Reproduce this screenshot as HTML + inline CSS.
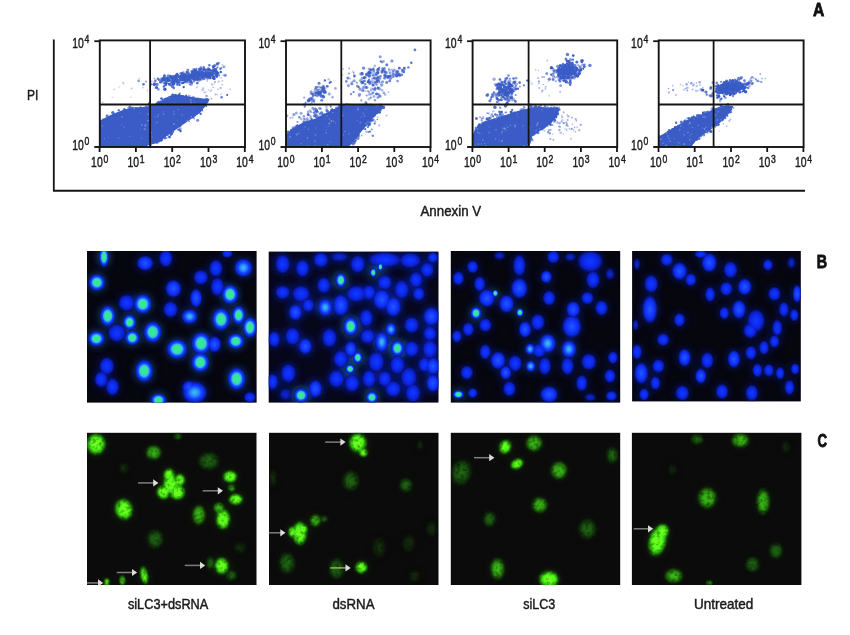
<!DOCTYPE html>
<html><head><meta charset="utf-8"><title>Figure</title>
<style>html,body{margin:0;padding:0;background:#fff}svg{display:block}ellipse{mix-blend-mode:lighten}text{font-family:"Liberation Sans",Arial,sans-serif}</style>
</head><body>
<svg width="850" height="635" viewBox="0 0 850 635">
<rect width="850" height="635" fill="#fff"/>

<defs>
<radialGradient id="gg"><stop offset="0" stop-color="#38ea84"/><stop offset=".32" stop-color="#38e4a0"/><stop offset=".48" stop-color="#30b4f0"/><stop offset=".6" stop-color="#184cff"/><stop offset=".76" stop-color="#0c28e0"/><stop offset=".9" stop-color="#081890" stop-opacity=".7"/><stop offset="1" stop-color="#060c50" stop-opacity="0"/></radialGradient>
<radialGradient id="gc"><stop offset="0" stop-color="#3cc4f0"/><stop offset=".3" stop-color="#2c8cff"/><stop offset=".55" stop-color="#1440ff"/><stop offset=".74" stop-color="#0c28e0"/><stop offset=".88" stop-color="#081890" stop-opacity=".7"/><stop offset="1" stop-color="#060c50" stop-opacity="0"/></radialGradient>
<radialGradient id="gB"><stop offset="0" stop-color="#2458ff"/><stop offset=".4" stop-color="#143cff"/><stop offset=".68" stop-color="#0c28e8"/><stop offset=".86" stop-color="#081890" stop-opacity=".7"/><stop offset="1" stop-color="#060c50" stop-opacity="0"/></radialGradient>
<radialGradient id="gb"><stop offset="0" stop-color="#123cff"/><stop offset=".45" stop-color="#0c2af0"/><stop offset=".7" stop-color="#0a20c8" stop-opacity=".95"/><stop offset=".88" stop-color="#081480" stop-opacity=".6"/><stop offset="1" stop-color="#060c50" stop-opacity="0"/></radialGradient>
<radialGradient id="gd"><stop offset="0" stop-color="#0c28d8"/><stop offset=".55" stop-color="#081ca8" stop-opacity=".9"/><stop offset="1" stop-color="#060c50" stop-opacity="0"/></radialGradient>
<radialGradient id="Gh"><stop offset="0" stop-color="#6cf820"/><stop offset=".55" stop-color="#48e014"/><stop offset=".8" stop-color="#24900c" stop-opacity=".9"/><stop offset="1" stop-color="#103808" stop-opacity="0"/></radialGradient>
<radialGradient id="Gm"><stop offset="0" stop-color="#36aa16"/><stop offset=".55" stop-color="#2a8c10"/><stop offset=".82" stop-color="#184c0a" stop-opacity=".85"/><stop offset="1" stop-color="#103008" stop-opacity="0"/></radialGradient>
<radialGradient id="Gd"><stop offset="0" stop-color="#1d5c12"/><stop offset=".55" stop-color="#17480f"/><stop offset=".85" stop-color="#0f2c0a" stop-opacity=".6"/><stop offset="1" stop-color="#102808" stop-opacity="0"/></radialGradient>
<radialGradient id="Gv"><stop offset="0" stop-color="#15300f"/><stop offset=".6" stop-color="#11260a" stop-opacity=".7"/><stop offset="1" stop-color="#101c0c" stop-opacity="0"/></radialGradient>
<filter id="bl" x="-5%" y="-5%" width="110%" height="110%"><feGaussianBlur stdDeviation="0.7"/></filter>
<filter id="glow" x="-10%" y="-10%" width="120%" height="120%"><feGaussianBlur stdDeviation="4"/></filter>
<filter id="mot" x="-5%" y="-5%" width="110%" height="110%" color-interpolation-filters="sRGB"><feGaussianBlur stdDeviation="0.8" result="b"/><feTurbulence type="fractalNoise" baseFrequency="0.28" numOctaves="2" seed="4" result="n"/><feColorMatrix in="n" type="matrix" values="1.7 0 0 0 0.05  1.7 0 0 0 0.05  1.7 0 0 0 0.05  0 0 0 0 1" result="n2"/><feComposite operator="arithmetic" k1=".75" k2=".4" k3="0" k4="0" in="b" in2="n2"/></filter>
<filter id="bs" x="-10%" y="-10%" width="120%" height="120%"><feGaussianBlur stdDeviation="0.55"/></filter>
</defs>

<line x1="53.8" y1="39.5" x2="53.8" y2="190.8" stroke="#141414" stroke-width="1.8"/>
<line x1="53" y1="190.7" x2="805" y2="190.7" stroke="#141414" stroke-width="2"/>
<text x="27" y="100" font-size="15" fill="#1a1a1a" textLength="11.3" lengthAdjust="spacingAndGlyphs" stroke="#1a1a1a" stroke-width="0.45">PI</text>
<text x="420.5" y="216" font-size="14.6" fill="#1a1a1a" textLength="60.6" lengthAdjust="spacingAndGlyphs" stroke="#1a1a1a" stroke-width="0.45">Annexin V</text>
<text x="813" y="15.9" font-size="18.4" fill="#111" textLength="11.3" lengthAdjust="spacingAndGlyphs" font-weight="bold" stroke="#111" stroke-width="0.8">A</text>
<clipPath id="cpA0"><rect x="99.8" y="40.4" width="145.2" height="106.6"/></clipPath>
<g clip-path="url(#cpA0)"><g filter="url(#bs)" fill="#3b5cc6">
<polygon points="99.8,121.4 106,118 112.9,114.6 122,111.1 131.1,108.2 142.6,107.7 150.1,106.6 158.6,103.1 170,96.3 179.1,95.1 186,96.7 197.4,98.6 208.8,99.7 204.3,106.6 199.7,112.3 188.3,120.3 176.8,128.3 165.4,136.3 158.6,142 149.4,144.3 142.6,147 99.8,147" stroke="#3b5cc6" stroke-width="1.2" stroke-linejoin="round"/>
<circle cx="103" cy="121.9" r="0.9" opacity="0.8"/>
<circle cx="103.6" cy="120.7" r="0.8" opacity="0.7"/>
<circle cx="101.5" cy="121.9" r="1.5" opacity="0.6"/>
<circle cx="98.9" cy="118.3" r="1.3" opacity="0.7"/>
<circle cx="108.4" cy="118.8" r="1" opacity="0.6"/>
<circle cx="105.9" cy="119.9" r="0.9" opacity="0.8"/>
<circle cx="109.2" cy="117" r="0.9" opacity="0.5"/>
<circle cx="106.8" cy="116" r="1.1" opacity="0.8"/>
<circle cx="108.4" cy="118.7" r="1.4" opacity="0.6"/>
<circle cx="107.2" cy="115.6" r="1.4" opacity="0.6"/>
<circle cx="122.9" cy="112.2" r="1.4" opacity="0.6"/>
<circle cx="119.3" cy="113.4" r="1.4" opacity="0.8"/>
<circle cx="120" cy="113.5" r="1.3" opacity="0.8"/>
<circle cx="118.8" cy="110.2" r="1.2" opacity="0.8"/>
<circle cx="112.8" cy="112.5" r="1.6" opacity="0.9"/>
<circle cx="113.9" cy="114.9" r="0.8" opacity="0.7"/>
<circle cx="114.7" cy="114.3" r="1.4" opacity="0.6"/>
<circle cx="122.1" cy="112.1" r="0.9" opacity="0.7"/>
<circle cx="128.9" cy="107.8" r="1.5" opacity="0.6"/>
<circle cx="124" cy="112.1" r="1.6" opacity="0.6"/>
<circle cx="123.7" cy="111.6" r="1.2" opacity="0.8"/>
<circle cx="125.8" cy="110.4" r="1.1" opacity="0.8"/>
<circle cx="130.1" cy="106.8" r="1.3" opacity="0.8"/>
<circle cx="124.4" cy="109.6" r="1.5" opacity="0.9"/>
<circle cx="135.1" cy="108.4" r="1.3" opacity="0.5"/>
<circle cx="132.1" cy="108.9" r="1.1" opacity="0.5"/>
<circle cx="131.5" cy="108.7" r="1.1" opacity="0.5"/>
<circle cx="140.5" cy="107.2" r="1" opacity="0.7"/>
<circle cx="137.2" cy="109.8" r="1.6" opacity="0.7"/>
<circle cx="137.2" cy="108.3" r="1.1" opacity="0.6"/>
<circle cx="140.8" cy="108" r="1.6" opacity="0.8"/>
<circle cx="132.5" cy="108" r="1.2" opacity="1"/>
<circle cx="148.7" cy="105.7" r="1.1" opacity="0.6"/>
<circle cx="146" cy="106.3" r="1.1" opacity="0.6"/>
<circle cx="151.4" cy="106.5" r="1.4" opacity="0.9"/>
<circle cx="148.4" cy="108.5" r="1.1" opacity="0.5"/>
<circle cx="142.6" cy="108.7" r="1.4" opacity="1"/>
<circle cx="157.6" cy="103.4" r="1.6" opacity="0.7"/>
<circle cx="152.1" cy="106.7" r="1" opacity="0.8"/>
<circle cx="158.6" cy="102.1" r="1.3" opacity="0.9"/>
<circle cx="149.2" cy="103.7" r="1.4" opacity="0.9"/>
<circle cx="155.2" cy="107.1" r="1.1" opacity="0.9"/>
<circle cx="157.2" cy="104.1" r="1.6" opacity="0.9"/>
<circle cx="161" cy="102.5" r="1.5" opacity="0.9"/>
<circle cx="162" cy="98.7" r="1.3" opacity="0.7"/>
<circle cx="165" cy="99.5" r="1.6" opacity="0.8"/>
<circle cx="165.9" cy="98.9" r="1.5" opacity="0.9"/>
<circle cx="161" cy="102.8" r="1" opacity="0.8"/>
<circle cx="160.9" cy="101.7" r="1.5" opacity="0.7"/>
<circle cx="161.2" cy="98.5" r="1.1" opacity="1"/>
<circle cx="162.7" cy="99.4" r="0.8" opacity="0.7"/>
<circle cx="163.1" cy="101.9" r="0.9" opacity="0.7"/>
<circle cx="175.5" cy="95" r="1.2" opacity="0.8"/>
<circle cx="178.5" cy="96.5" r="1" opacity="0.6"/>
<circle cx="175.3" cy="95.3" r="1.4" opacity="1"/>
<circle cx="172.8" cy="94.7" r="1.2" opacity="0.8"/>
<circle cx="172.6" cy="95.4" r="1.6" opacity="0.8"/>
<circle cx="179" cy="94.9" r="1.2" opacity="1"/>
<circle cx="185.3" cy="97" r="1.2" opacity="0.5"/>
<circle cx="182.6" cy="96.4" r="1.4" opacity="0.9"/>
<circle cx="179.8" cy="93.4" r="0.9" opacity="0.9"/>
<circle cx="186.4" cy="100" r="1.1" opacity="0.7"/>
<circle cx="186.3" cy="96" r="1.1" opacity="0.8"/>
<circle cx="190.3" cy="98.5" r="1.4" opacity="0.5"/>
<circle cx="192.1" cy="97.8" r="1.1" opacity="0.8"/>
<circle cx="195.5" cy="99.2" r="1.4" opacity="1"/>
<circle cx="187.1" cy="97.3" r="1.4" opacity="0.6"/>
<circle cx="184.8" cy="98.4" r="1.5" opacity="0.6"/>
<circle cx="189.2" cy="96.1" r="1.4" opacity="0.5"/>
<circle cx="186.1" cy="95.5" r="0.9" opacity="1"/>
<circle cx="193.4" cy="97.3" r="1.5" opacity="0.5"/>
<circle cx="206.1" cy="99.9" r="1.2" opacity="1"/>
<circle cx="201.6" cy="100.1" r="1" opacity="0.6"/>
<circle cx="200.1" cy="99" r="1" opacity="0.7"/>
<circle cx="205.7" cy="101" r="0.9" opacity="0.7"/>
<circle cx="197.6" cy="98.8" r="1.4" opacity="0.8"/>
<circle cx="196.4" cy="99.3" r="0.9" opacity="0.9"/>
<circle cx="199.7" cy="99.1" r="1.1" opacity="0.8"/>
<circle cx="206.5" cy="99.2" r="1.5" opacity="0.9"/>
<circle cx="204.9" cy="104.8" r="0.8" opacity="0.6"/>
<circle cx="208.4" cy="99.1" r="0.9" opacity="0.5"/>
<circle cx="206.4" cy="104" r="1" opacity="0.6"/>
<circle cx="206.7" cy="101.9" r="1.2" opacity="0.6"/>
<circle cx="206.1" cy="106" r="1" opacity="1"/>
<circle cx="207.4" cy="101.9" r="1.1" opacity="0.7"/>
<circle cx="202.5" cy="111" r="0.8" opacity="0.6"/>
<circle cx="203.5" cy="107.3" r="0.8" opacity="0.7"/>
<circle cx="201.8" cy="107" r="1.4" opacity="0.8"/>
<circle cx="202" cy="109.7" r="1.1" opacity="1"/>
<circle cx="203.3" cy="105.5" r="0.8" opacity="0.9"/>
<circle cx="187.9" cy="117.8" r="1.4" opacity="0.6"/>
<circle cx="191.1" cy="116.4" r="1.4" opacity="0.9"/>
<circle cx="194.6" cy="115.6" r="1.4" opacity="0.6"/>
<circle cx="200.2" cy="113.5" r="0.9" opacity="0.9"/>
<circle cx="192" cy="115.4" r="1.3" opacity="0.7"/>
<circle cx="200.3" cy="110.1" r="1.2" opacity="0.8"/>
<circle cx="194.2" cy="118.4" r="1" opacity="0.5"/>
<circle cx="196.5" cy="113.5" r="1.4" opacity="1"/>
<circle cx="192.9" cy="117.3" r="1.3" opacity="0.9"/>
<circle cx="180.9" cy="124.8" r="0.9" opacity="0.6"/>
<circle cx="179.2" cy="127.9" r="0.8" opacity="0.5"/>
<circle cx="184.2" cy="120.6" r="1.3" opacity="0.6"/>
<circle cx="180.9" cy="124.7" r="0.9" opacity="0.9"/>
<circle cx="189.2" cy="121.4" r="0.8" opacity="0.7"/>
<circle cx="180.4" cy="126.5" r="1" opacity="0.6"/>
<circle cx="177.9" cy="129.6" r="0.9" opacity="0.8"/>
<circle cx="179.1" cy="129.8" r="1.2" opacity="0.9"/>
<circle cx="180.6" cy="128.8" r="1.2" opacity="0.5"/>
<circle cx="175.3" cy="128.4" r="1" opacity="0.6"/>
<circle cx="171.8" cy="133.4" r="0.8" opacity="0.9"/>
<circle cx="169.5" cy="137.1" r="1.4" opacity="1"/>
<circle cx="172.6" cy="131.6" r="1.6" opacity="0.8"/>
<circle cx="171.7" cy="131.6" r="0.8" opacity="0.6"/>
<circle cx="166.6" cy="138.1" r="1" opacity="0.6"/>
<circle cx="171.5" cy="133.6" r="1.6" opacity="0.9"/>
<circle cx="165.5" cy="132.5" r="1.6" opacity="0.8"/>
<circle cx="170.7" cy="134.7" r="1.2" opacity="0.9"/>
<circle cx="160.9" cy="140.4" r="1.5" opacity="0.6"/>
<circle cx="161.5" cy="139.9" r="1.4" opacity="1"/>
<circle cx="163" cy="136.8" r="1.2" opacity="0.7"/>
<circle cx="164.8" cy="138" r="1.5" opacity="0.7"/>
<circle cx="167.7" cy="135" r="1.2" opacity="0.6"/>
<circle cx="165.1" cy="138" r="0.9" opacity="0.6"/>
<circle cx="153.6" cy="141.4" r="1.4" opacity="0.7"/>
<circle cx="153.5" cy="142.7" r="1.1" opacity="0.5"/>
<circle cx="156.7" cy="142.5" r="1.2" opacity="0.8"/>
<circle cx="150.9" cy="145" r="1" opacity="0.7"/>
<circle cx="157" cy="142.2" r="1.5" opacity="0.5"/>
<circle cx="157.5" cy="139.2" r="1.2" opacity="0.8"/>
<circle cx="146" cy="143.6" r="1" opacity="0.6"/>
<circle cx="146.3" cy="144.4" r="1.6" opacity="0.9"/>
<circle cx="145.1" cy="144.5" r="1.2" opacity="0.5"/>
<circle cx="130.4" cy="145.4" r="0.9" opacity="0.5"/>
<circle cx="116.2" cy="146" r="1" opacity="0.6"/>
<circle cx="101.2" cy="145.9" r="0.8" opacity="0.7"/>
<circle cx="128" cy="145.3" r="1.4" opacity="1"/>
<circle cx="128.4" cy="144.7" r="1.1" opacity="0.5"/>
<circle cx="97.7" cy="137.1" r="1" opacity="0.7"/>
<circle cx="101.2" cy="124.3" r="1.4" opacity="0.9"/>
<circle cx="100.3" cy="146.1" r="1.5" opacity="0.6"/>
<circle cx="100.8" cy="127.1" r="1" opacity="1"/>
<circle cx="99.7" cy="133.4" r="1.1" opacity="0.6"/>
<circle cx="99.9" cy="143.9" r="1.3" opacity="1"/>
<circle cx="101.1" cy="122.1" r="1" opacity="0.7"/>
<circle cx="100.6" cy="134" r="1.4" opacity="0.9"/>
<circle cx="100.1" cy="124.1" r="1.1" opacity="0.7"/>
<circle cx="99.9" cy="137.2" r="1" opacity="0.9"/>
<circle cx="100.2" cy="140.8" r="1.2" opacity="0.7"/>
<circle cx="102.9" cy="119.2" r="1" opacity="0.5"/>
<circle cx="97.7" cy="144.6" r="1.2" opacity="0.6"/>
<circle cx="98.3" cy="134.9" r="1.4" opacity="0.9"/>
<circle cx="101.7" cy="131.8" r="1" opacity="0.8"/>
<circle cx="99.8" cy="136.5" r="1" opacity="0.6"/>
<circle cx="207.5" cy="78.4" r="1.4" opacity="0.7"/>
<circle cx="158.4" cy="89.4" r="1.4" opacity="0.6"/>
<circle cx="196.7" cy="71.4" r="1.7" opacity="0.5"/>
<circle cx="166.2" cy="82.9" r="1.6" opacity="1"/>
<circle cx="201.5" cy="75.2" r="1.1" opacity="0.6"/>
<circle cx="207.9" cy="72.5" r="1.7" opacity="0.7"/>
<circle cx="199.8" cy="72.4" r="1.2" opacity="1"/>
<circle cx="196.4" cy="75.1" r="1.4" opacity="0.9"/>
<circle cx="193.7" cy="79" r="1.1" opacity="0.6"/>
<circle cx="190.8" cy="80.9" r="1.5" opacity="0.6"/>
<circle cx="202.5" cy="74.5" r="1.5" opacity="0.6"/>
<circle cx="187.5" cy="79.4" r="1.6" opacity="0.8"/>
<circle cx="196.4" cy="76.2" r="1.3" opacity="0.8"/>
<circle cx="186.6" cy="76.7" r="1.1" opacity="0.9"/>
<circle cx="181.6" cy="80.1" r="1.2" opacity="1"/>
<circle cx="184.7" cy="81.7" r="1.3" opacity="0.7"/>
<circle cx="218.7" cy="63.1" r="1.3" opacity="0.6"/>
<circle cx="188.9" cy="75.2" r="1" opacity="1"/>
<circle cx="169" cy="84" r="1.3" opacity="1"/>
<circle cx="182.9" cy="78.9" r="1" opacity="0.8"/>
<circle cx="170.8" cy="75.9" r="1.1" opacity="0.9"/>
<circle cx="180.1" cy="81.7" r="1.1" opacity="0.7"/>
<circle cx="160.1" cy="82.4" r="1.1" opacity="0.8"/>
<circle cx="200.9" cy="67.2" r="1.2" opacity="0.6"/>
<circle cx="224.2" cy="66.8" r="1.4" opacity="0.5"/>
<circle cx="202.2" cy="73" r="1.6" opacity="0.9"/>
<circle cx="193.8" cy="74.6" r="1.6" opacity="0.6"/>
<circle cx="169.8" cy="84.6" r="1.6" opacity="0.6"/>
<circle cx="193.9" cy="79.2" r="1.4" opacity="0.7"/>
<circle cx="198.1" cy="76.8" r="1.5" opacity="1"/>
<circle cx="207.4" cy="74.3" r="1.5" opacity="0.5"/>
<circle cx="193.8" cy="74.9" r="1.4" opacity="0.8"/>
<circle cx="182.2" cy="76.8" r="1.3" opacity="0.9"/>
<circle cx="173.4" cy="82.5" r="1.3" opacity="0.8"/>
<circle cx="209.1" cy="73.5" r="1.4" opacity="0.6"/>
<circle cx="191.5" cy="71.4" r="1.3" opacity="0.6"/>
<circle cx="184.3" cy="78.4" r="1.1" opacity="0.8"/>
<circle cx="203.1" cy="76" r="1.4" opacity="0.5"/>
<circle cx="186.7" cy="76.7" r="1.5" opacity="1"/>
<circle cx="186.1" cy="77.7" r="1.4" opacity="0.7"/>
<circle cx="197.4" cy="74.9" r="1.6" opacity="1"/>
<circle cx="186.7" cy="72.1" r="1.2" opacity="1"/>
<circle cx="157.1" cy="84.4" r="1.7" opacity="0.6"/>
<circle cx="196.6" cy="68.8" r="1.1" opacity="0.7"/>
<circle cx="190.5" cy="75.1" r="1.6" opacity="0.7"/>
<circle cx="193.2" cy="74.7" r="1.4" opacity="1"/>
<circle cx="193.7" cy="78.5" r="1.4" opacity="0.7"/>
<circle cx="198.9" cy="75.5" r="1.1" opacity="1"/>
<circle cx="177.2" cy="73.9" r="1.1" opacity="1"/>
<circle cx="203.4" cy="76.6" r="1.5" opacity="0.7"/>
<circle cx="201.9" cy="71.7" r="1.4" opacity="1"/>
<circle cx="225.2" cy="75.3" r="1.5" opacity="0.7"/>
<circle cx="193.2" cy="74" r="1.7" opacity="0.8"/>
<circle cx="176.8" cy="83.7" r="1.3" opacity="0.6"/>
<circle cx="190.2" cy="76" r="1.6" opacity="0.6"/>
<circle cx="164.4" cy="75.7" r="1.4" opacity="0.9"/>
<circle cx="190.3" cy="77.1" r="1.1" opacity="0.6"/>
<circle cx="179.5" cy="77" r="1.4" opacity="1"/>
<circle cx="197.4" cy="77" r="1.5" opacity="0.5"/>
<circle cx="203.1" cy="74.2" r="1.1" opacity="0.7"/>
<circle cx="194.2" cy="80" r="1.4" opacity="0.6"/>
<circle cx="179.2" cy="76.8" r="1.1" opacity="1"/>
<circle cx="191.2" cy="78.4" r="1.1" opacity="0.9"/>
<circle cx="205.9" cy="69.7" r="1.3" opacity="0.6"/>
<circle cx="209.9" cy="73.1" r="1.4" opacity="0.7"/>
<circle cx="181.2" cy="76.2" r="1.7" opacity="0.9"/>
<circle cx="192.2" cy="83.1" r="1.1" opacity="0.8"/>
<circle cx="182.6" cy="79.8" r="1.1" opacity="1"/>
<circle cx="207.5" cy="73.5" r="1.7" opacity="0.6"/>
<circle cx="197.1" cy="79.4" r="1.4" opacity="0.9"/>
<circle cx="193.4" cy="74.5" r="1.2" opacity="0.7"/>
<circle cx="217.8" cy="73" r="1.6" opacity="0.9"/>
<circle cx="216.4" cy="71.6" r="1.5" opacity="0.8"/>
<circle cx="189.1" cy="73.8" r="1.2" opacity="0.5"/>
<circle cx="191.1" cy="77.6" r="1.3" opacity="1"/>
<circle cx="180.7" cy="73.4" r="1.5" opacity="0.7"/>
<circle cx="176.8" cy="78.7" r="1.6" opacity="0.8"/>
<circle cx="189.6" cy="81.4" r="1.7" opacity="0.6"/>
<circle cx="192.2" cy="76.1" r="1.2" opacity="0.6"/>
<circle cx="187.8" cy="70.1" r="1.5" opacity="0.7"/>
<circle cx="198.9" cy="73.2" r="1.2" opacity="1"/>
<circle cx="175.8" cy="76.6" r="1.5" opacity="1"/>
<circle cx="165.6" cy="83.3" r="1.5" opacity="1"/>
<circle cx="171" cy="82.9" r="1.4" opacity="0.7"/>
<circle cx="195.8" cy="79.8" r="1.1" opacity="1"/>
<circle cx="192.6" cy="77" r="1.1" opacity="1"/>
<circle cx="186.7" cy="79.1" r="1" opacity="0.5"/>
<circle cx="183" cy="74.4" r="1.5" opacity="1"/>
<circle cx="207.3" cy="74.9" r="1.3" opacity="1"/>
<circle cx="201.3" cy="68.8" r="1.1" opacity="1"/>
<circle cx="217.5" cy="67.4" r="1.1" opacity="0.6"/>
<circle cx="193.4" cy="76.8" r="1.6" opacity="1"/>
<circle cx="173" cy="76.3" r="1.5" opacity="0.7"/>
<circle cx="195.6" cy="76.6" r="1.5" opacity="0.6"/>
<circle cx="185.2" cy="80.9" r="1" opacity="0.6"/>
<circle cx="187.2" cy="82.3" r="1.3" opacity="0.7"/>
<circle cx="205.9" cy="72.8" r="1.6" opacity="0.9"/>
<circle cx="204.3" cy="74.5" r="1.3" opacity="1"/>
<circle cx="179.4" cy="83.1" r="1.4" opacity="0.6"/>
<circle cx="194.1" cy="75.1" r="1.6" opacity="0.6"/>
<circle cx="199.6" cy="74.9" r="1.6" opacity="1"/>
<circle cx="206.1" cy="73.6" r="1.4" opacity="1"/>
<circle cx="197.5" cy="78.6" r="1.3" opacity="1"/>
<circle cx="189.9" cy="84.3" r="1.2" opacity="0.6"/>
<circle cx="184.9" cy="74.6" r="1.1" opacity="0.9"/>
<circle cx="211.7" cy="75" r="1.5" opacity="1"/>
<circle cx="181.4" cy="76.7" r="1.3" opacity="0.7"/>
<circle cx="194.8" cy="75.1" r="1.6" opacity="0.5"/>
<circle cx="193.9" cy="78.4" r="1.6" opacity="0.8"/>
<circle cx="171.2" cy="85.3" r="1.2" opacity="0.8"/>
<circle cx="168.3" cy="80.6" r="1.5" opacity="0.9"/>
<circle cx="184.1" cy="80.4" r="1.1" opacity="1"/>
<circle cx="178.1" cy="75.2" r="1.1" opacity="0.8"/>
<circle cx="192.3" cy="72.5" r="1.1" opacity="0.8"/>
<circle cx="197.7" cy="73.9" r="1.2" opacity="0.7"/>
<circle cx="181.9" cy="73.1" r="1.1" opacity="0.6"/>
<circle cx="191.3" cy="79.4" r="1.4" opacity="0.6"/>
<circle cx="186.8" cy="79.4" r="1.7" opacity="0.9"/>
<circle cx="219.1" cy="75.4" r="1.1" opacity="0.7"/>
<circle cx="214.2" cy="71.3" r="1.5" opacity="0.8"/>
<circle cx="197.7" cy="79.4" r="1.1" opacity="0.6"/>
<circle cx="188" cy="77.9" r="1.3" opacity="1"/>
<circle cx="184.4" cy="74.8" r="1.5" opacity="0.8"/>
<circle cx="202.7" cy="77.5" r="1.3" opacity="1"/>
<circle cx="202.1" cy="72.6" r="1.4" opacity="1"/>
<circle cx="182.3" cy="79.6" r="1.5" opacity="1"/>
<circle cx="192.7" cy="71.7" r="1.6" opacity="0.9"/>
<circle cx="180.7" cy="76.3" r="1.2" opacity="0.9"/>
<circle cx="202.3" cy="76.2" r="1.6" opacity="0.9"/>
<circle cx="183.2" cy="76.7" r="1.3" opacity="0.8"/>
<circle cx="180.2" cy="76.9" r="1.5" opacity="1"/>
<circle cx="199.4" cy="79" r="1.6" opacity="0.7"/>
<circle cx="154.4" cy="85.1" r="1.1" opacity="0.8"/>
<circle cx="203.9" cy="78.5" r="1.7" opacity="0.8"/>
<circle cx="205.1" cy="76.1" r="1.4" opacity="0.9"/>
<circle cx="171.4" cy="80.6" r="1.6" opacity="0.8"/>
<circle cx="163.8" cy="86.5" r="1.2" opacity="0.9"/>
<circle cx="173.5" cy="83.7" r="1.1" opacity="1"/>
<circle cx="187.9" cy="78.2" r="1.2" opacity="0.7"/>
<circle cx="204.5" cy="74.1" r="1.3" opacity="0.9"/>
<circle cx="184.6" cy="80" r="1.2" opacity="1"/>
<circle cx="205.5" cy="72.3" r="1.2" opacity="1"/>
<circle cx="183.6" cy="79.6" r="1.1" opacity="1"/>
<circle cx="196.7" cy="71.5" r="1.3" opacity="0.8"/>
<circle cx="197.3" cy="83.1" r="1.3" opacity="0.9"/>
<circle cx="199.8" cy="69.8" r="1.3" opacity="0.7"/>
<circle cx="183.8" cy="77.8" r="1.6" opacity="0.7"/>
<circle cx="196.4" cy="73.7" r="1.3" opacity="0.6"/>
<circle cx="183" cy="79.3" r="1" opacity="0.9"/>
<circle cx="189" cy="79.4" r="1.2" opacity="0.8"/>
<circle cx="173.7" cy="82.3" r="1.5" opacity="0.7"/>
<circle cx="213.8" cy="69.3" r="1.1" opacity="1"/>
<circle cx="209.4" cy="69.9" r="1.1" opacity="1"/>
<circle cx="188.9" cy="76.8" r="1" opacity="1"/>
<circle cx="184.5" cy="76.2" r="1.1" opacity="0.6"/>
<circle cx="194" cy="81.3" r="1.3" opacity="0.6"/>
<circle cx="209.5" cy="69.8" r="1.1" opacity="1"/>
<circle cx="171.7" cy="77.5" r="1.5" opacity="1"/>
<circle cx="195.5" cy="70.2" r="1.2" opacity="0.9"/>
<circle cx="168.7" cy="80.5" r="1.3" opacity="1"/>
<circle cx="180.5" cy="78.2" r="1.2" opacity="0.6"/>
<circle cx="185.9" cy="77.9" r="1.3" opacity="0.6"/>
<circle cx="174.9" cy="80.4" r="1.4" opacity="1"/>
<circle cx="216.3" cy="71.6" r="1.3" opacity="0.8"/>
<circle cx="176.5" cy="74.8" r="1.3" opacity="0.7"/>
<circle cx="195.6" cy="75.5" r="1.5" opacity="0.9"/>
<circle cx="208.8" cy="73.7" r="1.5" opacity="1"/>
<circle cx="173.7" cy="87.9" r="1.4" opacity="0.8"/>
<circle cx="193.3" cy="75.8" r="1.5" opacity="0.9"/>
<circle cx="177.5" cy="84.7" r="1.3" opacity="0.8"/>
<circle cx="167.7" cy="80.9" r="1.2" opacity="0.8"/>
<circle cx="175.9" cy="81.8" r="1.6" opacity="0.7"/>
<circle cx="196.4" cy="72.9" r="1.4" opacity="0.7"/>
<circle cx="154.1" cy="84.3" r="1.5" opacity="1"/>
<circle cx="185.3" cy="80.3" r="1.2" opacity="0.9"/>
<circle cx="174.2" cy="76.3" r="1.1" opacity="0.9"/>
<circle cx="202.7" cy="71.7" r="1.1" opacity="0.7"/>
<circle cx="199.3" cy="75.1" r="1.7" opacity="0.9"/>
<circle cx="176.7" cy="75.3" r="1.7" opacity="0.9"/>
<circle cx="176" cy="77.1" r="1.5" opacity="0.9"/>
<circle cx="186.3" cy="75.9" r="1.5" opacity="0.8"/>
<circle cx="190.8" cy="75.4" r="1.2" opacity="0.5"/>
<circle cx="193.8" cy="69.5" r="1.5" opacity="0.7"/>
<circle cx="200" cy="70.1" r="1.4" opacity="0.6"/>
<circle cx="186.7" cy="80.7" r="1.2" opacity="0.8"/>
<circle cx="169.8" cy="75.8" r="1.1" opacity="0.8"/>
<circle cx="197.2" cy="75.8" r="1.6" opacity="0.8"/>
<circle cx="202.9" cy="72.6" r="1" opacity="0.7"/>
<circle cx="163.3" cy="78.7" r="1.7" opacity="0.8"/>
<circle cx="185.4" cy="78.7" r="1.5" opacity="0.6"/>
<circle cx="192" cy="77" r="1" opacity="0.9"/>
<circle cx="216.9" cy="76.7" r="1.1" opacity="1"/>
<circle cx="192.4" cy="76.9" r="1.5" opacity="0.6"/>
<circle cx="189.3" cy="75.2" r="1.1" opacity="1"/>
<circle cx="183.4" cy="72.6" r="1.5" opacity="0.5"/>
<circle cx="175.3" cy="76.6" r="1.3" opacity="1"/>
<circle cx="191.3" cy="84.5" r="1.5" opacity="0.5"/>
<circle cx="210" cy="73.1" r="1.6" opacity="0.5"/>
<circle cx="183.4" cy="82.9" r="1.1" opacity="1"/>
<circle cx="185.9" cy="77.9" r="1.3" opacity="0.8"/>
<circle cx="172.2" cy="82.5" r="1.1" opacity="1"/>
<circle cx="178.6" cy="82.7" r="1.5" opacity="0.7"/>
<circle cx="173.5" cy="84" r="1.7" opacity="1"/>
<circle cx="180.2" cy="78" r="1.1" opacity="1"/>
<circle cx="182.2" cy="73.2" r="1.3" opacity="0.9"/>
<circle cx="215.4" cy="70.7" r="1.4" opacity="0.7"/>
<circle cx="165.8" cy="84.9" r="1.3" opacity="0.9"/>
<circle cx="166.9" cy="78" r="1.6" opacity="0.7"/>
<circle cx="201" cy="74.6" r="1.3" opacity="0.9"/>
<circle cx="200.7" cy="68.9" r="1.1" opacity="1"/>
<circle cx="199.6" cy="69.3" r="1.4" opacity="0.7"/>
<circle cx="204.1" cy="69.5" r="1.5" opacity="1"/>
<circle cx="187.5" cy="78.5" r="1.4" opacity="1"/>
<circle cx="198.4" cy="80" r="1.7" opacity="0.6"/>
<circle cx="174.2" cy="77.5" r="1.3" opacity="0.6"/>
<circle cx="190.9" cy="81.8" r="1.6" opacity="0.8"/>
<circle cx="211.8" cy="75.2" r="1.6" opacity="0.6"/>
<circle cx="164.8" cy="79.2" r="1.6" opacity="0.8"/>
<circle cx="173" cy="81.2" r="1.2" opacity="0.6"/>
<circle cx="200.2" cy="79.1" r="1.3" opacity="0.8"/>
<circle cx="177.7" cy="81.7" r="1.1" opacity="0.5"/>
<circle cx="203.5" cy="74" r="1.1" opacity="0.9"/>
<circle cx="192" cy="74.8" r="1.4" opacity="0.7"/>
<circle cx="187.8" cy="77.4" r="1.1" opacity="1"/>
<circle cx="200.3" cy="72.2" r="1.4" opacity="0.6"/>
<circle cx="192.5" cy="73.3" r="1.7" opacity="1"/>
<circle cx="203.6" cy="67" r="1.2" opacity="0.5"/>
<circle cx="193.5" cy="78" r="1.1" opacity="0.5"/>
<circle cx="164.7" cy="80.2" r="1.3" opacity="1"/>
<circle cx="194.6" cy="75.4" r="1.4" opacity="0.7"/>
<circle cx="216.4" cy="76.6" r="1.2" opacity="0.8"/>
<circle cx="168.1" cy="75.8" r="1.5" opacity="0.7"/>
<circle cx="183.2" cy="79" r="1.7" opacity="1"/>
<circle cx="191.4" cy="77.5" r="1.2" opacity="0.7"/>
<circle cx="213.6" cy="68.2" r="1.6" opacity="0.5"/>
<circle cx="194.4" cy="71.4" r="1.5" opacity="1"/>
<circle cx="197.7" cy="75.9" r="1.5" opacity="1"/>
<circle cx="185.1" cy="75.7" r="1.4" opacity="1"/>
<circle cx="200.2" cy="76.4" r="1.2" opacity="0.6"/>
<circle cx="182.5" cy="78.8" r="1.2" opacity="0.6"/>
<circle cx="189.5" cy="76.6" r="1.5" opacity="0.6"/>
<circle cx="220.8" cy="72" r="1.2" opacity="1"/>
<circle cx="208.4" cy="68.3" r="1.1" opacity="0.8"/>
<circle cx="216.6" cy="75.3" r="1.6" opacity="0.9"/>
<circle cx="179" cy="80.1" r="1.6" opacity="0.8"/>
<circle cx="185.1" cy="76.8" r="1.2" opacity="0.5"/>
<circle cx="185.9" cy="74.1" r="1.1" opacity="1"/>
<circle cx="189.8" cy="80.1" r="1.1" opacity="0.7"/>
<circle cx="196.5" cy="73.3" r="1.1" opacity="0.8"/>
<circle cx="179.7" cy="85.1" r="1.1" opacity="1"/>
<circle cx="217.7" cy="73.3" r="1.5" opacity="0.6"/>
<circle cx="179.7" cy="79.5" r="1.2" opacity="0.6"/>
<circle cx="164.9" cy="89.3" r="1.7" opacity="1"/>
<circle cx="199.9" cy="76.3" r="1.6" opacity="0.5"/>
<circle cx="188.4" cy="74.8" r="1.7" opacity="0.5"/>
<circle cx="194.3" cy="73.4" r="1.1" opacity="0.5"/>
<circle cx="198" cy="72" r="1.2" opacity="0.8"/>
<circle cx="198.3" cy="74.1" r="1.4" opacity="0.6"/>
<circle cx="201.3" cy="79.3" r="1.5" opacity="0.6"/>
<circle cx="195.7" cy="76.4" r="1.4" opacity="0.8"/>
<circle cx="189.6" cy="79.1" r="1.4" opacity="0.9"/>
<circle cx="196.5" cy="71.9" r="1.2" opacity="0.5"/>
<circle cx="188.4" cy="74.2" r="1.5" opacity="0.5"/>
<circle cx="194.5" cy="73.5" r="1.6" opacity="1"/>
<circle cx="188.2" cy="77.4" r="1.7" opacity="0.8"/>
<circle cx="197.5" cy="73.6" r="1.2" opacity="1"/>
<circle cx="185.4" cy="79.3" r="1.3" opacity="0.9"/>
<circle cx="206.8" cy="73.5" r="1.3" opacity="0.8"/>
<circle cx="206.6" cy="76.7" r="1.6" opacity="1"/>
<circle cx="182.3" cy="82.9" r="1.3" opacity="1"/>
<circle cx="216.3" cy="73.7" r="1.7" opacity="0.8"/>
<circle cx="174.1" cy="80" r="1.4" opacity="0.5"/>
<circle cx="199.8" cy="74.4" r="1.2" opacity="0.5"/>
<circle cx="191.6" cy="82.2" r="1" opacity="0.5"/>
<circle cx="187.4" cy="75.6" r="1" opacity="0.9"/>
<circle cx="175.7" cy="78.3" r="1.5" opacity="0.5"/>
<circle cx="204.4" cy="70.4" r="1.1" opacity="0.6"/>
<circle cx="174.8" cy="80.3" r="1.2" opacity="0.6"/>
<circle cx="184.7" cy="79" r="1.4" opacity="1"/>
<circle cx="201.7" cy="77.6" r="1.5" opacity="0.6"/>
<circle cx="203.8" cy="67.7" r="1.3" opacity="0.7"/>
<circle cx="198.7" cy="72" r="1.3" opacity="1"/>
<circle cx="192" cy="73.8" r="1.2" opacity="0.7"/>
<circle cx="156.5" cy="87.5" r="1.6" opacity="1"/>
<circle cx="199.8" cy="69.5" r="1.1" opacity="0.8"/>
<circle cx="220.4" cy="68.7" r="1.2" opacity="0.8"/>
<circle cx="181.5" cy="76.6" r="1.4" opacity="0.5"/>
<circle cx="176.3" cy="81.3" r="1" opacity="0.6"/>
<circle cx="213.1" cy="71" r="1.7" opacity="0.9"/>
<circle cx="199.5" cy="69.1" r="1.6" opacity="0.5"/>
<circle cx="183.5" cy="76.5" r="1.5" opacity="0.7"/>
<circle cx="160.8" cy="81.4" r="1.5" opacity="0.6"/>
<circle cx="176.3" cy="79.5" r="1.7" opacity="0.7"/>
<circle cx="184.8" cy="82.2" r="1.1" opacity="0.9"/>
<circle cx="205.8" cy="72.6" r="1.2" opacity="0.8"/>
<circle cx="183" cy="78.1" r="1.1" opacity="0.6"/>
<circle cx="187.4" cy="80.5" r="1.2" opacity="0.6"/>
<circle cx="205.3" cy="75.7" r="1.6" opacity="0.9"/>
<circle cx="172.6" cy="78.8" r="1.2" opacity="0.9"/>
<circle cx="174.3" cy="81.2" r="1.4" opacity="0.8"/>
<circle cx="187.3" cy="79.6" r="1.2" opacity="0.8"/>
<circle cx="177.9" cy="82.2" r="1" opacity="0.7"/>
<circle cx="196.6" cy="73.8" r="1.4" opacity="0.8"/>
<circle cx="183.7" cy="87.1" r="1.2" opacity="1"/>
<circle cx="193.5" cy="77.2" r="1.6" opacity="0.8"/>
<circle cx="203.1" cy="75.3" r="1.3" opacity="1"/>
<circle cx="198.2" cy="76.6" r="1.7" opacity="1"/>
<circle cx="197.9" cy="77.6" r="1.3" opacity="0.9"/>
<circle cx="170.3" cy="77.2" r="1.6" opacity="0.8"/>
<circle cx="188" cy="72.4" r="1.5" opacity="0.8"/>
<circle cx="194.2" cy="71.4" r="1.7" opacity="0.6"/>
<circle cx="191.4" cy="76.5" r="1.6" opacity="0.9"/>
<circle cx="156.2" cy="84.3" r="1.4" opacity="0.7"/>
<circle cx="195" cy="69.9" r="1.4" opacity="0.7"/>
<circle cx="176.6" cy="80.8" r="1.5" opacity="0.7"/>
<circle cx="177.8" cy="82" r="1.3" opacity="0.7"/>
<circle cx="195.4" cy="70.1" r="1.4" opacity="0.8"/>
<circle cx="195.6" cy="78.1" r="1.1" opacity="0.8"/>
<circle cx="185.4" cy="77.3" r="1.7" opacity="0.7"/>
<circle cx="203.7" cy="69.2" r="1.7" opacity="0.6"/>
<circle cx="164.8" cy="85.3" r="1" opacity="0.5"/>
<circle cx="175.8" cy="78.6" r="1.7" opacity="1"/>
<circle cx="143.5" cy="84.3" r="1.4" opacity="0.8"/>
<circle cx="184.7" cy="75.3" r="1.3" opacity="0.9"/>
<circle cx="172.4" cy="86.6" r="1.5" opacity="0.8"/>
<circle cx="201.5" cy="76.2" r="1.3" opacity="0.8"/>
<circle cx="165.3" cy="79.4" r="1.7" opacity="0.8"/>
<circle cx="173.4" cy="82.1" r="1.7" opacity="0.7"/>
<circle cx="166.1" cy="81" r="1.1" opacity="0.7"/>
<circle cx="215.2" cy="70.8" r="1.4" opacity="0.6"/>
<circle cx="174.9" cy="77.3" r="1.5" opacity="0.8"/>
<circle cx="171.7" cy="78" r="1" opacity="0.5"/>
<circle cx="156" cy="80.5" r="1" opacity="0.4"/>
<circle cx="157.8" cy="78.7" r="1.2" opacity="0.8"/>
<circle cx="163.8" cy="79.5" r="1.2" opacity="0.7"/>
<circle cx="161.4" cy="82.8" r="0.9" opacity="0.5"/>
<circle cx="171" cy="77.3" r="1.4" opacity="0.5"/>
<circle cx="155.3" cy="80.7" r="1.1" opacity="0.7"/>
<circle cx="138.6" cy="80.9" r="1.3" opacity="0.6"/>
<circle cx="168.8" cy="80.3" r="1.4" opacity="0.4"/>
<circle cx="169.4" cy="80.1" r="1.3" opacity="0.8"/>
<circle cx="154.3" cy="78.6" r="1" opacity="0.4"/>
<circle cx="166.2" cy="78.1" r="1.4" opacity="0.5"/>
<circle cx="168.6" cy="80.8" r="1" opacity="0.8"/>
<circle cx="158.9" cy="79.5" r="1.2" opacity="0.5"/>
<circle cx="181.3" cy="79.7" r="1.3" opacity="0.8"/>
<circle cx="155.2" cy="81.7" r="1.1" opacity="0.4"/>
<circle cx="179.5" cy="77.1" r="1.1" opacity="0.8"/>
<circle cx="168" cy="78.2" r="1.3" opacity="0.8"/>
<circle cx="145.9" cy="81.6" r="1.1" opacity="0.5"/>
<circle cx="164.2" cy="78.7" r="1.1" opacity="0.8"/>
<circle cx="151.4" cy="81.4" r="1.1" opacity="0.4"/>
<circle cx="162.3" cy="81" r="1.6" opacity="0.5"/>
<circle cx="161.7" cy="79.8" r="1.3" opacity="0.5"/>
<circle cx="163" cy="80.4" r="1" opacity="0.8"/>
<circle cx="162" cy="81.2" r="1" opacity="0.5"/>
<circle cx="165.6" cy="80.3" r="1.4" opacity="0.5"/>
<circle cx="172.6" cy="81.6" r="1" opacity="0.5"/>
<circle cx="167.5" cy="78.8" r="1.2" opacity="0.8"/>
<circle cx="166.9" cy="78.7" r="1.2" opacity="0.7"/>
<circle cx="151.3" cy="84.3" r="1.1" opacity="0.8"/>
<circle cx="159.7" cy="80.3" r="1.2" opacity="0.4"/>
<circle cx="163.6" cy="78.6" r="1.5" opacity="0.6"/>
<circle cx="161.5" cy="81.2" r="1.3" opacity="0.5"/>
<circle cx="168.2" cy="78.9" r="1.3" opacity="0.6"/>
<circle cx="163.9" cy="83.1" r="1.2" opacity="0.7"/>
<circle cx="159.1" cy="79.7" r="1.2" opacity="0.4"/>
<circle cx="172.6" cy="82.4" r="1.1" opacity="0.7"/>
<circle cx="173.5" cy="80.6" r="1.2" opacity="0.6"/>
<circle cx="164.6" cy="80.5" r="1.1" opacity="0.5"/>
<circle cx="174.5" cy="81.1" r="1.1" opacity="0.6"/>
<circle cx="176.8" cy="77.1" r="1.5" opacity="0.8"/>
<circle cx="169.8" cy="80.5" r="0.9" opacity="0.7"/>
<circle cx="161.5" cy="78.7" r="1.2" opacity="0.7"/>
<circle cx="163.4" cy="78.7" r="1.5" opacity="0.5"/>
<circle cx="161.9" cy="79.3" r="1" opacity="0.8"/>
<circle cx="163.9" cy="77.1" r="0.9" opacity="0.4"/>
<circle cx="168.3" cy="80.6" r="1.1" opacity="0.5"/>
<circle cx="172.1" cy="79.6" r="1.4" opacity="0.4"/>
<circle cx="170.8" cy="77.3" r="1.4" opacity="0.5"/>
<circle cx="154.4" cy="81.9" r="1.2" opacity="0.4"/>
<circle cx="172.1" cy="76.5" r="1.1" opacity="0.4"/>
<circle cx="171.9" cy="77.3" r="0.9" opacity="0.5"/>
<circle cx="176.4" cy="80.9" r="1.1" opacity="0.8"/>
<circle cx="165.3" cy="79" r="1.4" opacity="0.5"/>
<circle cx="164.9" cy="76.4" r="1.1" opacity="0.4"/>
<circle cx="173.3" cy="78.5" r="1.6" opacity="0.7"/>
<circle cx="164" cy="76.5" r="1.3" opacity="0.6"/>
<circle cx="177.1" cy="79.7" r="1.2" opacity="0.6"/>
<circle cx="169.1" cy="79.1" r="1.4" opacity="0.4"/>
<circle cx="209.3" cy="65.2" r="1.2" opacity="0.8"/>
<circle cx="215.9" cy="71.2" r="1.3" opacity="0.6"/>
<circle cx="214.1" cy="73.7" r="1.3" opacity="0.6"/>
<circle cx="210.4" cy="74.3" r="1.4" opacity="0.9"/>
<circle cx="211.3" cy="75.3" r="1.3" opacity="0.8"/>
<circle cx="214" cy="70.8" r="1.2" opacity="1"/>
<circle cx="213.9" cy="76.4" r="1.2" opacity="1"/>
<circle cx="205.6" cy="70.2" r="1.1" opacity="0.9"/>
<circle cx="208" cy="69.6" r="1.5" opacity="1"/>
<circle cx="213.2" cy="74.5" r="1.2" opacity="0.6"/>
<circle cx="213.7" cy="73.5" r="1.1" opacity="0.9"/>
<circle cx="209.5" cy="72.9" r="1.2" opacity="0.8"/>
<circle cx="209.8" cy="74.2" r="1.1" opacity="0.5"/>
<circle cx="216.8" cy="71.9" r="1.1" opacity="0.9"/>
<circle cx="215.5" cy="71.6" r="1.1" opacity="0.8"/>
<circle cx="209.1" cy="73.3" r="1.3" opacity="0.5"/>
<circle cx="215.4" cy="69.4" r="1.4" opacity="1"/>
<circle cx="209.6" cy="69.7" r="1.2" opacity="0.6"/>
<circle cx="216.9" cy="73.5" r="1.5" opacity="0.7"/>
<circle cx="213" cy="77.7" r="1.5" opacity="1"/>
<circle cx="214.1" cy="78.6" r="1.5" opacity="1"/>
<circle cx="210.1" cy="74.6" r="1.5" opacity="0.7"/>
<circle cx="208.2" cy="76.1" r="1.2" opacity="1"/>
<circle cx="211.2" cy="73.5" r="1.4" opacity="0.9"/>
<circle cx="213.4" cy="66.5" r="1.5" opacity="1"/>
<circle cx="207.1" cy="72.4" r="1.1" opacity="0.7"/>
<circle cx="209.9" cy="71.5" r="1.4" opacity="0.6"/>
<circle cx="202.6" cy="76.1" r="1.1" opacity="0.5"/>
<circle cx="209" cy="73.3" r="1.4" opacity="0.5"/>
<circle cx="214.8" cy="65.5" r="1.5" opacity="0.8"/>
<circle cx="210.1" cy="78.2" r="1.3" opacity="0.7"/>
<circle cx="209.2" cy="76" r="1.4" opacity="1"/>
<circle cx="212.8" cy="70.9" r="1.2" opacity="0.8"/>
<circle cx="208.2" cy="70.8" r="1.1" opacity="0.5"/>
<circle cx="209.4" cy="76.4" r="1.6" opacity="1"/>
<circle cx="217.3" cy="63.9" r="1.6" opacity="0.9"/>
<circle cx="211.6" cy="70.9" r="1.4" opacity="0.9"/>
<circle cx="209.8" cy="77.4" r="1.6" opacity="0.8"/>
<circle cx="209.4" cy="69.5" r="1.2" opacity="1"/>
<circle cx="213.3" cy="72.7" r="1.4" opacity="0.8"/>
<circle cx="142.9" cy="87.6" r="0.9" opacity="0.3"/>
<circle cx="112.5" cy="97.4" r="0.9" opacity="0.2"/>
<circle cx="131.7" cy="88.5" r="1.1" opacity="0.3"/>
<circle cx="147.8" cy="91.1" r="0.8" opacity="0.2"/>
<circle cx="114.2" cy="89.4" r="0.9" opacity="0.3"/>
<circle cx="130.8" cy="97.3" r="0.7" opacity="0.3"/>
<circle cx="119.1" cy="86.9" r="0.9" opacity="0.2"/>
<circle cx="102.7" cy="102.2" r="0.9" opacity="0.3"/>
<circle cx="123" cy="82.8" r="1.1" opacity="0.3"/>
<circle cx="147.2" cy="89.7" r="0.9" opacity="0.2"/>
<circle cx="139.3" cy="78.5" r="1" opacity="0.2"/>
<circle cx="123.9" cy="83.9" r="0.8" opacity="0.2"/>
<circle cx="222.4" cy="84.7" r="0.8" opacity="0.3"/>
<circle cx="203.2" cy="88.3" r="1.1" opacity="0.4"/>
<circle cx="215" cy="82" r="1.1" opacity="0.5"/>
<circle cx="221" cy="94.2" r="0.8" opacity="0.4"/>
<circle cx="196.2" cy="87.8" r="0.7" opacity="0.3"/>
<circle cx="200" cy="80.8" r="1" opacity="0.2"/>
<circle cx="204.4" cy="92.4" r="0.9" opacity="0.4"/>
<circle cx="230.2" cy="89.2" r="1" opacity="0.3"/>
<circle cx="215.5" cy="94.6" r="1.1" opacity="0.4"/>
<circle cx="210.8" cy="91.5" r="0.7" opacity="0.4"/>
<circle cx="217.1" cy="94.6" r="0.8" opacity="0.4"/>
<circle cx="205.9" cy="95.9" r="1.1" opacity="0.4"/>
<circle cx="197.3" cy="87.2" r="1.1" opacity="0.2"/>
<circle cx="207.1" cy="95.9" r="0.9" opacity="0.5"/>
<circle cx="208.9" cy="90" r="0.8" opacity="0.4"/>
<circle cx="202" cy="89.7" r="0.9" opacity="0.3"/>
<circle cx="212" cy="84.4" r="1.1" opacity="0.4"/>
<circle cx="217.9" cy="89.2" r="0.8" opacity="0.5"/>
<circle cx="205.9" cy="92.4" r="0.8" opacity="0.3"/>
<circle cx="196.9" cy="100.3" r="0.9" opacity="0.3"/>
<circle cx="222" cy="84.4" r="0.8" opacity="0.2"/>
<circle cx="182.9" cy="111.6" r="0.7" opacity="0.3"/>
<circle cx="203.1" cy="90.4" r="0.8" opacity="0.4"/>
<circle cx="211.6" cy="98.7" r="0.9" opacity="0.5"/>
<circle cx="211.4" cy="90.1" r="0.9" opacity="0.4"/>
<circle cx="192.2" cy="100.9" r="1.3" opacity="0.9"/>
<circle cx="143.9" cy="137.5" r="1.5" opacity="1"/>
<circle cx="200.4" cy="102.1" r="1.1" opacity="1"/>
<circle cx="152.7" cy="119.7" r="1.3" opacity="0.7"/>
<circle cx="127.5" cy="138" r="1" opacity="0.7"/>
<circle cx="125.1" cy="161.8" r="1.2" opacity="0.7"/>
<circle cx="161.6" cy="130.1" r="1.2" opacity="0.6"/>
<circle cx="221.6" cy="97.3" r="1.2" opacity="0.8"/>
<circle cx="133.6" cy="134.9" r="1" opacity="0.5"/>
<circle cx="152.4" cy="135" r="1.4" opacity="0.8"/>
<circle cx="183.7" cy="111.6" r="1.5" opacity="0.9"/>
<circle cx="176.5" cy="119.9" r="1.3" opacity="1"/>
<circle cx="129.1" cy="149.9" r="1.2" opacity="1"/>
<circle cx="192.5" cy="113.7" r="1.5" opacity="0.7"/>
<circle cx="158.9" cy="127.5" r="1" opacity="0.7"/>
<circle cx="150.4" cy="124.7" r="1.2" opacity="0.6"/>
<circle cx="105.5" cy="141.6" r="1.4" opacity="0.6"/>
<circle cx="143.1" cy="113.9" r="1.3" opacity="0.5"/>
<circle cx="176.2" cy="103.4" r="1.1" opacity="0.6"/>
<circle cx="176.5" cy="126.3" r="1.5" opacity="0.9"/>
<circle cx="176.6" cy="115.1" r="1.1" opacity="1"/>
<circle cx="137.4" cy="129.6" r="1.4" opacity="0.7"/>
<circle cx="189.7" cy="114.2" r="0.9" opacity="0.9"/>
<circle cx="143.1" cy="140.8" r="1.3" opacity="0.6"/>
<circle cx="153.7" cy="128.5" r="1.5" opacity="0.8"/>
<circle cx="169" cy="120.9" r="1.3" opacity="0.9"/>
<circle cx="153.1" cy="131.5" r="1" opacity="0.6"/>
<circle cx="158.8" cy="122.6" r="1.5" opacity="0.8"/>
<circle cx="117.4" cy="142.7" r="1.3" opacity="0.9"/>
<circle cx="134.6" cy="133.1" r="1.4" opacity="0.6"/>
<circle cx="141.1" cy="121.6" r="1.4" opacity="0.7"/>
<circle cx="162.8" cy="103.4" r="1.2" opacity="0.7"/>
<circle cx="84.4" cy="157.9" r="1" opacity="0.5"/>
<circle cx="114.4" cy="148.3" r="1.4" opacity="0.7"/>
<circle cx="180.7" cy="115.3" r="1.4" opacity="0.5"/>
<circle cx="175.2" cy="118.9" r="1" opacity="0.8"/>
<circle cx="139.4" cy="133.3" r="1.6" opacity="0.7"/>
<circle cx="171.5" cy="123.8" r="1.4" opacity="1"/>
<circle cx="163.1" cy="125.4" r="1.4" opacity="0.6"/>
<circle cx="194.5" cy="108.2" r="1.4" opacity="0.7"/>
<circle cx="166.3" cy="114.4" r="1.1" opacity="1"/>
<circle cx="200.9" cy="114" r="1" opacity="0.9"/>
<circle cx="111.3" cy="156.8" r="1" opacity="0.8"/>
<circle cx="103.2" cy="160.9" r="1.6" opacity="0.9"/>
<circle cx="164.6" cy="128.9" r="1.1" opacity="0.8"/>
<circle cx="162.9" cy="129" r="1.4" opacity="0.9"/>
<circle cx="137.5" cy="159" r="1.1" opacity="0.8"/>
<circle cx="197.6" cy="120.3" r="1.5" opacity="0.7"/>
<circle cx="153.7" cy="114.2" r="1.1" opacity="0.7"/>
<circle cx="94" cy="157.5" r="1" opacity="0.9"/>
<circle cx="128.8" cy="135.1" r="1.3" opacity="1"/>
<circle cx="180.5" cy="131" r="1.2" opacity="1"/>
<circle cx="170" cy="117" r="1.5" opacity="1"/>
<circle cx="157.1" cy="128.2" r="1" opacity="1"/>
<circle cx="227.2" cy="94.9" r="1" opacity="1"/>
<circle cx="175" cy="120.9" r="1.4" opacity="0.5"/>
<circle cx="126.9" cy="155" r="1.4" opacity="1"/>
<circle cx="166.4" cy="122.1" r="1.1" opacity="1"/>
<circle cx="154.6" cy="125.9" r="1.3" opacity="0.6"/>
<circle cx="145.9" cy="133.4" r="0.9" opacity="1"/>
<circle cx="214.2" cy="84.1" r="0.7" opacity="0.4"/>
<circle cx="221.1" cy="78" r="0.8" opacity="0.5"/>
<circle cx="222.4" cy="80.9" r="0.9" opacity="0.3"/>
<circle cx="214.7" cy="78.7" r="1.1" opacity="0.4"/>
<circle cx="220.6" cy="88" r="1.1" opacity="0.5"/>
<circle cx="217.6" cy="76.9" r="0.8" opacity="0.3"/>
<circle cx="223.2" cy="75.2" r="0.9" opacity="0.4"/>
<circle cx="217.5" cy="74.1" r="1" opacity="0.4"/>
<circle cx="212.4" cy="71.5" r="1" opacity="0.6"/>
<circle cx="223.1" cy="67" r="0.9" opacity="0.3"/>
<circle cx="207.2" cy="80.9" r="0.9" opacity="0.4"/>
<circle cx="215.8" cy="75.1" r="1.1" opacity="0.2"/>
<circle cx="209.8" cy="65.2" r="0.8" opacity="0.4"/>
<circle cx="215.5" cy="76.4" r="0.8" opacity="0.3"/>
<circle cx="222.4" cy="65.1" r="1.1" opacity="0.3"/>
<circle cx="216.6" cy="68.7" r="1" opacity="0.4"/>
<circle cx="213.1" cy="87.4" r="0.7" opacity="0.5"/>
<circle cx="221.3" cy="68" r="1" opacity="0.6"/>
<circle cx="218.6" cy="81.4" r="1" opacity="0.4"/>
<circle cx="216.9" cy="67.9" r="0.9" opacity="0.4"/>
<circle cx="173.6" cy="111.8" r="0.9" fill="#fff" opacity="0.2"/>
<circle cx="124.2" cy="126.9" r="0.7" fill="#fff" opacity="0.3"/>
<circle cx="151.4" cy="132.6" r="0.9" fill="#fff" opacity="0.2"/>
<circle cx="156.9" cy="122.5" r="1" fill="#fff" opacity="0.2"/>
<circle cx="118.6" cy="137.8" r="0.8" fill="#fff" opacity="0.2"/>
<circle cx="141.4" cy="138.3" r="1" fill="#fff" opacity="0.1"/>
<circle cx="142.9" cy="146.8" r="0.9" fill="#fff" opacity="0.2"/>
<circle cx="152" cy="136.5" r="1" fill="#fff" opacity="0.1"/>
<circle cx="174" cy="114.2" r="0.9" fill="#fff" opacity="0.2"/>
<circle cx="140.2" cy="112.8" r="0.8" fill="#fff" opacity="0.1"/>
<circle cx="121.7" cy="124.7" r="0.6" fill="#fff" opacity="0.2"/>
<circle cx="178.1" cy="109.4" r="0.8" fill="#fff" opacity="0.2"/>
<circle cx="190.8" cy="99.9" r="0.9" fill="#fff" opacity="0.3"/>
<circle cx="121.8" cy="117.1" r="1" fill="#fff" opacity="0.2"/>
<circle cx="148.1" cy="114.2" r="1" fill="#fff" opacity="0.2"/>
<circle cx="144.3" cy="128.8" r="1" fill="#fff" opacity="0.2"/>
<circle cx="141.8" cy="125.1" r="1.1" fill="#fff" opacity="0.2"/>
<circle cx="140.4" cy="129.7" r="0.8" fill="#fff" opacity="0.1"/>
<circle cx="182.2" cy="114.8" r="0.9" fill="#fff" opacity="0.2"/>
<circle cx="102.6" cy="125.9" r="0.8" fill="#fff" opacity="0.2"/>
<circle cx="191.3" cy="116.7" r="0.8" fill="#fff" opacity="0.3"/>
<circle cx="147.8" cy="120.6" r="0.9" fill="#fff" opacity="0.3"/>
<circle cx="173.9" cy="123.9" r="1" fill="#fff" opacity="0.3"/>
<circle cx="108.2" cy="137.5" r="0.7" fill="#fff" opacity="0.1"/>
<circle cx="181.9" cy="124.4" r="0.6" fill="#fff" opacity="0.2"/>
<circle cx="177.3" cy="120.2" r="0.6" fill="#fff" opacity="0.2"/>
<circle cx="145.4" cy="125.4" r="1.1" fill="#fff" opacity="0.3"/>
<circle cx="194.9" cy="102.7" r="0.8" fill="#fff" opacity="0.2"/>
<circle cx="100.5" cy="146.4" r="0.7" fill="#fff" opacity="0.2"/>
<circle cx="133.9" cy="108.4" r="1" fill="#fff" opacity="0.2"/>
<circle cx="155.5" cy="116.9" r="0.6" fill="#fff" opacity="0.2"/>
<circle cx="193.2" cy="108.5" r="0.7" fill="#fff" opacity="0.1"/>
<circle cx="158.3" cy="114.5" r="0.8" fill="#fff" opacity="0.2"/>
<circle cx="163.5" cy="114.1" r="1" fill="#fff" opacity="0.2"/>
<circle cx="157.9" cy="116.3" r="0.9" fill="#fff" opacity="0.2"/>
<circle cx="129.6" cy="136.4" r="0.7" fill="#fff" opacity="0.2"/>
<circle cx="149.4" cy="143.6" r="0.8" fill="#fff" opacity="0.3"/>
<circle cx="169.5" cy="97.7" r="1" fill="#fff" opacity="0.1"/>
<circle cx="164.8" cy="104.5" r="1.1" fill="#fff" opacity="0.2"/>
<circle cx="187.1" cy="121" r="0.9" fill="#fff" opacity="0.2"/>
<circle cx="191.2" cy="102.7" r="1.1" fill="#fff" opacity="0.2"/>
<circle cx="145" cy="129.3" r="0.7" fill="#fff" opacity="0.3"/>
<circle cx="174.6" cy="103.2" r="0.6" fill="#fff" opacity="0.2"/>
<circle cx="104.4" cy="138.5" r="0.7" fill="#fff" opacity="0.2"/>
<circle cx="163.3" cy="111.7" r="0.9" fill="#fff" opacity="0.1"/>
</g></g>
<rect x="99.8" y="40.4" width="145.2" height="106.6" fill="none" stroke="#141414" stroke-width="1.9"/>
<line x1="150.1" y1="40.4" x2="150.1" y2="147" stroke="#141414" stroke-width="1.8"/>
<line x1="99.8" y1="104.5" x2="245" y2="104.5" stroke="#141414" stroke-width="1.8"/>
<line x1="94.3" y1="41.2" x2="99.8" y2="41.2" stroke="#141414" stroke-width="1.8"/>
<line x1="94.3" y1="147" x2="99.8" y2="147" stroke="#141414" stroke-width="1.9"/>
<line x1="99.6" y1="147" x2="99.6" y2="152" stroke="#141414" stroke-width="1.8"/>
<text x="91.1" y="167.2" font-size="14.8" fill="#1a1a1a" textLength="11.6" lengthAdjust="spacingAndGlyphs" stroke="#1a1a1a" stroke-width="0.45">10</text>
<text x="103.5" y="163" font-size="10.8" fill="#1a1a1a" textLength="4.8" lengthAdjust="spacingAndGlyphs" stroke="#1a1a1a" stroke-width="0.45">0</text>
<line x1="135.9" y1="147" x2="135.9" y2="152" stroke="#141414" stroke-width="1.8"/>
<text x="127.4" y="167.2" font-size="14.8" fill="#1a1a1a" textLength="11.6" lengthAdjust="spacingAndGlyphs" stroke="#1a1a1a" stroke-width="0.45">10</text>
<text x="139.8" y="163" font-size="10.8" fill="#1a1a1a" textLength="4.8" lengthAdjust="spacingAndGlyphs" stroke="#1a1a1a" stroke-width="0.45">1</text>
<line x1="172.2" y1="147" x2="172.2" y2="152" stroke="#141414" stroke-width="1.8"/>
<text x="163.7" y="167.2" font-size="14.8" fill="#1a1a1a" textLength="11.6" lengthAdjust="spacingAndGlyphs" stroke="#1a1a1a" stroke-width="0.45">10</text>
<text x="176.1" y="163" font-size="10.8" fill="#1a1a1a" textLength="4.8" lengthAdjust="spacingAndGlyphs" stroke="#1a1a1a" stroke-width="0.45">2</text>
<line x1="208.5" y1="147" x2="208.5" y2="152" stroke="#141414" stroke-width="1.8"/>
<text x="200" y="167.2" font-size="14.8" fill="#1a1a1a" textLength="11.6" lengthAdjust="spacingAndGlyphs" stroke="#1a1a1a" stroke-width="0.45">10</text>
<text x="212.4" y="163" font-size="10.8" fill="#1a1a1a" textLength="4.8" lengthAdjust="spacingAndGlyphs" stroke="#1a1a1a" stroke-width="0.45">3</text>
<line x1="244.8" y1="147" x2="244.8" y2="152" stroke="#141414" stroke-width="1.8"/>
<text x="236.3" y="167.2" font-size="14.8" fill="#1a1a1a" textLength="11.6" lengthAdjust="spacingAndGlyphs" stroke="#1a1a1a" stroke-width="0.45">10</text>
<text x="248.7" y="163" font-size="10.8" fill="#1a1a1a" textLength="4.8" lengthAdjust="spacingAndGlyphs" stroke="#1a1a1a" stroke-width="0.45">4</text>
<text x="72.2" y="48.4" font-size="14.8" fill="#1a1a1a" textLength="11.6" lengthAdjust="spacingAndGlyphs" stroke="#1a1a1a" stroke-width="0.45">10</text>
<text x="84.6" y="43.2" font-size="10.8" fill="#1a1a1a" textLength="4.8" lengthAdjust="spacingAndGlyphs" stroke="#1a1a1a" stroke-width="0.45">4</text>
<text x="72.2" y="149.8" font-size="14.8" fill="#1a1a1a" textLength="11.6" lengthAdjust="spacingAndGlyphs" stroke="#1a1a1a" stroke-width="0.45">10</text>
<text x="84.6" y="145" font-size="10.8" fill="#1a1a1a" textLength="4.8" lengthAdjust="spacingAndGlyphs" stroke="#1a1a1a" stroke-width="0.45">0</text>
<clipPath id="cpA1"><rect x="286" y="40.4" width="144.6" height="106.6"/></clipPath>
<g clip-path="url(#cpA1)"><g filter="url(#bs)" fill="#3b5cc6">
<polygon points="286,135.6 291.7,129.4 297.4,126 306.6,121.9 315.7,119.1 324.8,114.6 332.8,110.4 341.3,106.6 356.8,105.4 370.5,105.4 384.3,106.6 377.4,112.7 369.4,121.4 361.4,130.5 354.6,139.7 347.7,147 286,147" stroke="#3b5cc6" stroke-width="1.2" stroke-linejoin="round"/>
<circle cx="290" cy="132.3" r="0.9" opacity="0.9"/>
<circle cx="291.3" cy="129.8" r="1.1" opacity="0.8"/>
<circle cx="286.7" cy="134" r="1.2" opacity="0.9"/>
<circle cx="288.2" cy="132.3" r="1.5" opacity="0.6"/>
<circle cx="294.5" cy="129.8" r="1.2" opacity="0.6"/>
<circle cx="288" cy="131.8" r="1.5" opacity="0.5"/>
<circle cx="295.7" cy="126.3" r="1.2" opacity="0.5"/>
<circle cx="292.1" cy="131.8" r="1.5" opacity="0.6"/>
<circle cx="298.8" cy="126.6" r="1.6" opacity="0.7"/>
<circle cx="296.9" cy="125.8" r="1.1" opacity="0.7"/>
<circle cx="293.1" cy="127.7" r="1.4" opacity="0.6"/>
<circle cx="297.5" cy="125.5" r="1.2" opacity="0.9"/>
<circle cx="302.5" cy="123.6" r="1.2" opacity="0.5"/>
<circle cx="304.6" cy="124.6" r="1.1" opacity="0.7"/>
<circle cx="303.9" cy="124" r="1.6" opacity="0.7"/>
<circle cx="306.2" cy="121.4" r="0.9" opacity="0.5"/>
<circle cx="306.6" cy="123.4" r="1.2" opacity="0.6"/>
<circle cx="302.6" cy="125.5" r="1.2" opacity="0.7"/>
<circle cx="307.6" cy="121.8" r="0.9" opacity="0.6"/>
<circle cx="311.6" cy="119.4" r="0.8" opacity="1"/>
<circle cx="311.5" cy="118.8" r="1.4" opacity="0.6"/>
<circle cx="314" cy="120.7" r="0.8" opacity="0.7"/>
<circle cx="310.5" cy="123.2" r="0.9" opacity="0.8"/>
<circle cx="306.7" cy="119.9" r="1.4" opacity="0.5"/>
<circle cx="314.8" cy="115.7" r="0.8" opacity="0.8"/>
<circle cx="322.5" cy="114.8" r="1.4" opacity="0.7"/>
<circle cx="327.4" cy="115.1" r="1.1" opacity="0.7"/>
<circle cx="316.6" cy="120.9" r="1.3" opacity="0.6"/>
<circle cx="319.4" cy="118.3" r="1" opacity="0.7"/>
<circle cx="327.1" cy="114.6" r="1.2" opacity="0.7"/>
<circle cx="324.7" cy="114.3" r="1.3" opacity="0.6"/>
<circle cx="331.2" cy="110" r="0.9" opacity="0.9"/>
<circle cx="329.5" cy="116.1" r="1.3" opacity="0.9"/>
<circle cx="327.4" cy="111.2" r="1.5" opacity="0.9"/>
<circle cx="332.1" cy="109.4" r="1.1" opacity="0.9"/>
<circle cx="331.9" cy="110.5" r="1.6" opacity="0.8"/>
<circle cx="335.1" cy="113.1" r="1.4" opacity="0.6"/>
<circle cx="340" cy="108.1" r="1.2" opacity="0.6"/>
<circle cx="338.8" cy="107.4" r="1.4" opacity="0.7"/>
<circle cx="340" cy="105.4" r="1.6" opacity="0.9"/>
<circle cx="338" cy="109.9" r="1.5" opacity="0.7"/>
<circle cx="339.1" cy="106" r="0.8" opacity="0.7"/>
<circle cx="334.9" cy="112" r="1.1" opacity="0.8"/>
<circle cx="347.9" cy="106.8" r="1.1" opacity="0.9"/>
<circle cx="350.8" cy="106.4" r="1" opacity="0.9"/>
<circle cx="346.8" cy="103.9" r="0.9" opacity="0.8"/>
<circle cx="342.3" cy="105.7" r="1" opacity="1"/>
<circle cx="347.4" cy="109" r="1.3" opacity="0.9"/>
<circle cx="344" cy="106.1" r="1.2" opacity="1"/>
<circle cx="344.6" cy="105.6" r="1.2" opacity="0.5"/>
<circle cx="345.4" cy="105.8" r="1.4" opacity="0.6"/>
<circle cx="348.2" cy="107.2" r="1.5" opacity="0.8"/>
<circle cx="349.8" cy="104.9" r="1.3" opacity="0.5"/>
<circle cx="362.2" cy="106.6" r="1.1" opacity="0.8"/>
<circle cx="364.3" cy="106.6" r="1.3" opacity="1"/>
<circle cx="361.2" cy="108.2" r="0.8" opacity="0.9"/>
<circle cx="364.8" cy="104.9" r="1.4" opacity="0.9"/>
<circle cx="366.8" cy="105" r="1.1" opacity="0.6"/>
<circle cx="370.5" cy="104.9" r="1.3" opacity="0.8"/>
<circle cx="355.7" cy="106.8" r="1.3" opacity="0.6"/>
<circle cx="366.9" cy="107.1" r="1.1" opacity="1"/>
<circle cx="366.4" cy="103.5" r="1.1" opacity="1"/>
<circle cx="379.9" cy="105.2" r="0.9" opacity="0.8"/>
<circle cx="382.2" cy="105.1" r="0.9" opacity="0.8"/>
<circle cx="383.8" cy="108.3" r="0.9" opacity="0.7"/>
<circle cx="370.9" cy="106.8" r="1.6" opacity="1"/>
<circle cx="371.9" cy="108.7" r="1" opacity="0.7"/>
<circle cx="377.4" cy="106.6" r="1.1" opacity="0.7"/>
<circle cx="383.7" cy="107.4" r="1.5" opacity="0.7"/>
<circle cx="380.5" cy="104.6" r="1.1" opacity="0.6"/>
<circle cx="379.2" cy="106.6" r="1.3" opacity="0.9"/>
<circle cx="380.4" cy="110.6" r="1.2" opacity="0.6"/>
<circle cx="379.8" cy="112.8" r="0.8" opacity="0.9"/>
<circle cx="378.4" cy="112.6" r="1" opacity="0.6"/>
<circle cx="381.6" cy="106.3" r="1.3" opacity="0.7"/>
<circle cx="379.6" cy="112.3" r="1.3" opacity="1"/>
<circle cx="379.1" cy="108.3" r="1.1" opacity="1"/>
<circle cx="370.7" cy="120.3" r="1.4" opacity="0.7"/>
<circle cx="377.1" cy="113.1" r="1.2" opacity="0.8"/>
<circle cx="371" cy="121.5" r="0.9" opacity="0.7"/>
<circle cx="374.6" cy="115.5" r="1.3" opacity="0.7"/>
<circle cx="372.4" cy="120.3" r="1.4" opacity="0.9"/>
<circle cx="375.1" cy="112" r="1.2" opacity="0.9"/>
<circle cx="370.1" cy="118" r="1.3" opacity="0.9"/>
<circle cx="375.7" cy="111.8" r="1.3" opacity="0.6"/>
<circle cx="366.8" cy="120.5" r="1" opacity="0.6"/>
<circle cx="369.3" cy="124.6" r="1.6" opacity="0.9"/>
<circle cx="366.4" cy="124.2" r="1.5" opacity="0.7"/>
<circle cx="368.9" cy="120.9" r="1" opacity="0.5"/>
<circle cx="363.5" cy="124.6" r="0.8" opacity="0.9"/>
<circle cx="368.8" cy="124.3" r="1.1" opacity="0.7"/>
<circle cx="365.3" cy="129" r="1" opacity="0.9"/>
<circle cx="362.6" cy="128.7" r="1.4" opacity="0.5"/>
<circle cx="357.5" cy="135.4" r="1.3" opacity="0.9"/>
<circle cx="356.1" cy="136.9" r="1.3" opacity="0.6"/>
<circle cx="357.9" cy="138.4" r="1.6" opacity="0.7"/>
<circle cx="356.1" cy="140.2" r="0.9" opacity="0.7"/>
<circle cx="356.3" cy="135.3" r="1.1" opacity="0.6"/>
<circle cx="358.5" cy="135.1" r="1.4" opacity="0.8"/>
<circle cx="359.1" cy="136.6" r="1" opacity="0.6"/>
<circle cx="356.5" cy="132.2" r="1.4" opacity="1"/>
<circle cx="347.9" cy="144.3" r="0.8" opacity="0.6"/>
<circle cx="355.9" cy="138.1" r="1.3" opacity="0.6"/>
<circle cx="353.1" cy="143.9" r="1.6" opacity="0.7"/>
<circle cx="354.8" cy="141.2" r="1.5" opacity="0.9"/>
<circle cx="352" cy="143.4" r="0.9" opacity="0.9"/>
<circle cx="354.3" cy="143" r="1.4" opacity="0.7"/>
<circle cx="307.5" cy="145.7" r="1.1" opacity="0.9"/>
<circle cx="325" cy="144.6" r="0.9" opacity="0.5"/>
<circle cx="348.3" cy="144.9" r="1.2" opacity="0.5"/>
<circle cx="325.7" cy="145" r="1.2" opacity="0.8"/>
<circle cx="310.2" cy="145.4" r="1.2" opacity="0.5"/>
<circle cx="322" cy="145.1" r="1" opacity="0.8"/>
<circle cx="324.1" cy="144.5" r="1.3" opacity="0.9"/>
<circle cx="341.8" cy="144.2" r="1.5" opacity="0.5"/>
<circle cx="315.3" cy="145.7" r="1.4" opacity="0.5"/>
<circle cx="347.4" cy="144.8" r="1.2" opacity="0.6"/>
<circle cx="335.6" cy="144.6" r="1.4" opacity="0.5"/>
<circle cx="284.5" cy="140" r="1.1" opacity="0.8"/>
<circle cx="287.9" cy="138.5" r="1.4" opacity="1"/>
<circle cx="285.9" cy="137.1" r="1.3" opacity="0.9"/>
<circle cx="286.6" cy="141.5" r="1.6" opacity="0.7"/>
<circle cx="286" cy="140.1" r="1.1" opacity="0.7"/>
<circle cx="288.1" cy="138.6" r="1.5" opacity="1"/>
<circle cx="285.8" cy="139.4" r="1.1" opacity="0.5"/>
<circle cx="323.4" cy="97.1" r="1.7" opacity="0.6"/>
<circle cx="316.3" cy="87.3" r="1.6" opacity="0.8"/>
<circle cx="314.8" cy="94.7" r="1.6" opacity="0.6"/>
<circle cx="312.4" cy="94.1" r="1.4" opacity="0.9"/>
<circle cx="324.2" cy="92.6" r="1.5" opacity="0.7"/>
<circle cx="323.5" cy="87.5" r="1.7" opacity="0.7"/>
<circle cx="320.6" cy="90.7" r="1.2" opacity="0.5"/>
<circle cx="318.7" cy="92" r="1.2" opacity="0.8"/>
<circle cx="322" cy="89.9" r="1.3" opacity="0.7"/>
<circle cx="311.2" cy="91.6" r="1.5" opacity="0.5"/>
<circle cx="318.4" cy="93.5" r="1.5" opacity="0.5"/>
<circle cx="321.7" cy="100.3" r="1.5" opacity="0.7"/>
<circle cx="311" cy="93.3" r="1.5" opacity="0.5"/>
<circle cx="320.5" cy="91.7" r="1" opacity="0.6"/>
<circle cx="320.7" cy="92.4" r="1.4" opacity="0.9"/>
<circle cx="314.6" cy="92.3" r="1.6" opacity="0.5"/>
<circle cx="323.4" cy="91" r="1.3" opacity="0.7"/>
<circle cx="309" cy="101.2" r="1.1" opacity="0.9"/>
<circle cx="314.1" cy="101.7" r="1" opacity="0.8"/>
<circle cx="323.5" cy="96.6" r="1.6" opacity="0.7"/>
<circle cx="318.1" cy="93.3" r="1.2" opacity="0.9"/>
<circle cx="325.5" cy="92.4" r="1.4" opacity="0.7"/>
<circle cx="320.5" cy="93.1" r="1.1" opacity="0.9"/>
<circle cx="312.7" cy="100.3" r="1.4" opacity="0.5"/>
<circle cx="319.2" cy="92.3" r="1.6" opacity="0.5"/>
<circle cx="323.7" cy="88" r="1.5" opacity="0.5"/>
<circle cx="317.8" cy="90.1" r="1.3" opacity="0.7"/>
<circle cx="322.7" cy="91.5" r="1.6" opacity="0.5"/>
<circle cx="312" cy="101.6" r="1.2" opacity="0.5"/>
<circle cx="321" cy="94.5" r="1.3" opacity="0.7"/>
<circle cx="305.6" cy="102.9" r="1.1" opacity="0.7"/>
<circle cx="319.3" cy="89.5" r="1" opacity="0.6"/>
<circle cx="324.8" cy="91" r="1.5" opacity="0.4"/>
<circle cx="324.9" cy="91" r="1.1" opacity="0.5"/>
<circle cx="315.3" cy="95.5" r="1.1" opacity="0.6"/>
<circle cx="303.7" cy="104.6" r="1.4" opacity="0.4"/>
<circle cx="322.8" cy="95.8" r="1.4" opacity="0.8"/>
<circle cx="329.7" cy="82.8" r="1.1" opacity="0.9"/>
<circle cx="313" cy="95.9" r="1.1" opacity="0.8"/>
<circle cx="319.4" cy="93.5" r="1.2" opacity="0.9"/>
<circle cx="308.4" cy="101.1" r="1.1" opacity="0.6"/>
<circle cx="317.3" cy="95.7" r="1.5" opacity="0.6"/>
<circle cx="335.4" cy="88.4" r="1.4" opacity="0.5"/>
<circle cx="327.7" cy="86.4" r="1.4" opacity="0.4"/>
<circle cx="308" cy="101" r="1.4" opacity="0.5"/>
<circle cx="309.1" cy="99.1" r="1.5" opacity="0.5"/>
<circle cx="319" cy="83.2" r="1.5" opacity="0.8"/>
<circle cx="311.4" cy="103.7" r="1.2" opacity="0.5"/>
<circle cx="304.2" cy="97.7" r="1.1" opacity="0.5"/>
<circle cx="325.3" cy="88.7" r="1.1" opacity="0.5"/>
<circle cx="315.5" cy="89.4" r="1.7" opacity="0.6"/>
<circle cx="317.3" cy="92.8" r="1.7" opacity="0.5"/>
<circle cx="310.5" cy="98.7" r="1.7" opacity="0.6"/>
<circle cx="327" cy="86.3" r="1.2" opacity="0.8"/>
<circle cx="332.6" cy="97.3" r="1.3" opacity="0.5"/>
<circle cx="323.2" cy="88.4" r="1.3" opacity="0.6"/>
<circle cx="317" cy="92.8" r="1.3" opacity="0.5"/>
<circle cx="318" cy="92.8" r="1.4" opacity="0.5"/>
<circle cx="310.6" cy="99.5" r="1.5" opacity="0.5"/>
<circle cx="319.1" cy="94" r="1.7" opacity="0.5"/>
<circle cx="324.9" cy="91.6" r="1.4" opacity="0.9"/>
<circle cx="322.9" cy="90.4" r="1.1" opacity="0.7"/>
<circle cx="312.1" cy="98.1" r="1.6" opacity="0.7"/>
<circle cx="324.9" cy="80.4" r="1.2" opacity="0.9"/>
<circle cx="316.5" cy="94.6" r="1.7" opacity="0.4"/>
<circle cx="323.5" cy="89.3" r="1.2" opacity="0.9"/>
<circle cx="321.3" cy="87.6" r="1.4" opacity="0.8"/>
<circle cx="318.8" cy="86.9" r="1.4" opacity="0.5"/>
<circle cx="321.1" cy="96.4" r="1.4" opacity="0.8"/>
<circle cx="328.7" cy="79.4" r="1.2" opacity="0.4"/>
<circle cx="323.4" cy="86" r="1.2" opacity="0.7"/>
<circle cx="319.2" cy="94.9" r="1.3" opacity="0.7"/>
<circle cx="316.2" cy="92.7" r="1.5" opacity="0.7"/>
<circle cx="308.8" cy="100.3" r="1.6" opacity="0.4"/>
<circle cx="308.7" cy="100.3" r="1.5" opacity="0.7"/>
<circle cx="329.2" cy="93.9" r="1.6" opacity="0.5"/>
<circle cx="305" cy="106.1" r="1.2" opacity="0.6"/>
<circle cx="330.7" cy="81.9" r="1.2" opacity="0.8"/>
<circle cx="313.9" cy="100.1" r="1.6" opacity="0.5"/>
<circle cx="320" cy="94.1" r="1.2" opacity="0.4"/>
<circle cx="325.2" cy="115.4" r="1.3" opacity="0.4"/>
<circle cx="287" cy="115.8" r="1.4" opacity="0.5"/>
<circle cx="311" cy="112" r="1.1" opacity="0.6"/>
<circle cx="335.9" cy="111.5" r="1.1" opacity="0.5"/>
<circle cx="337.9" cy="109.3" r="1.5" opacity="0.7"/>
<circle cx="301.1" cy="113.3" r="1.6" opacity="0.5"/>
<circle cx="316.4" cy="111.7" r="1.2" opacity="0.8"/>
<circle cx="293.9" cy="114.6" r="1.5" opacity="0.6"/>
<circle cx="316.5" cy="114.9" r="1.3" opacity="0.7"/>
<circle cx="315.2" cy="115.9" r="1" opacity="0.4"/>
<circle cx="315.3" cy="114.4" r="1.2" opacity="0.5"/>
<circle cx="304.5" cy="107.2" r="1" opacity="0.4"/>
<circle cx="347.9" cy="105.4" r="1.1" opacity="0.5"/>
<circle cx="303.9" cy="116.2" r="1.3" opacity="0.6"/>
<circle cx="315.6" cy="115.7" r="1.1" opacity="0.4"/>
<circle cx="332" cy="114.1" r="1.4" opacity="0.5"/>
<circle cx="320.5" cy="108.6" r="1.2" opacity="0.6"/>
<circle cx="328.6" cy="119.2" r="1.3" opacity="0.4"/>
<circle cx="328.2" cy="116.5" r="1.2" opacity="0.7"/>
<circle cx="319.8" cy="119.6" r="1.5" opacity="0.4"/>
<circle cx="308" cy="114.8" r="1.4" opacity="0.7"/>
<circle cx="317.8" cy="111.9" r="1.1" opacity="0.7"/>
<circle cx="308.8" cy="115.1" r="1.1" opacity="0.6"/>
<circle cx="331.1" cy="114.7" r="1.2" opacity="0.5"/>
<circle cx="301.2" cy="119" r="1.4" opacity="0.4"/>
<circle cx="313.8" cy="112.6" r="1.2" opacity="0.7"/>
<circle cx="308.3" cy="111.7" r="1.5" opacity="0.5"/>
<circle cx="309" cy="120.2" r="1.2" opacity="0.4"/>
<circle cx="320.1" cy="119.3" r="1.5" opacity="0.7"/>
<circle cx="338.7" cy="109" r="1.2" opacity="0.5"/>
<circle cx="314.7" cy="113.6" r="1.4" opacity="0.4"/>
<circle cx="331.4" cy="113" r="1.1" opacity="0.8"/>
<circle cx="326.1" cy="110.2" r="1.1" opacity="0.4"/>
<circle cx="299.3" cy="117.3" r="1.2" opacity="0.7"/>
<circle cx="292.6" cy="117.6" r="1.1" opacity="0.4"/>
<circle cx="304.3" cy="119" r="1.2" opacity="0.7"/>
<circle cx="318.3" cy="116.9" r="1.3" opacity="0.7"/>
<circle cx="316.8" cy="111.2" r="1.3" opacity="0.8"/>
<circle cx="332.6" cy="109.8" r="1.1" opacity="0.6"/>
<circle cx="308.2" cy="113.9" r="1" opacity="0.8"/>
<circle cx="321.5" cy="112.6" r="1.3" opacity="0.7"/>
<circle cx="314.3" cy="116" r="1.5" opacity="0.7"/>
<circle cx="310.5" cy="116" r="1.3" opacity="0.4"/>
<circle cx="319.9" cy="113.6" r="1.2" opacity="0.7"/>
<circle cx="320.1" cy="114.9" r="1.1" opacity="0.4"/>
<circle cx="290.5" cy="117.8" r="1.1" opacity="0.4"/>
<circle cx="316.5" cy="111" r="1.2" opacity="0.4"/>
<circle cx="318.8" cy="122.7" r="1.1" opacity="0.5"/>
<circle cx="312.9" cy="108.2" r="1.5" opacity="0.6"/>
<circle cx="333.2" cy="110.3" r="1.2" opacity="0.6"/>
<circle cx="310.2" cy="110.4" r="1.1" opacity="0.5"/>
<circle cx="321.8" cy="113.1" r="1.5" opacity="0.5"/>
<circle cx="316.3" cy="116.9" r="1.3" opacity="0.8"/>
<circle cx="332.4" cy="116.7" r="1.2" opacity="0.4"/>
<circle cx="314.8" cy="111.7" r="1.1" opacity="0.6"/>
<circle cx="326.4" cy="106.8" r="1.4" opacity="0.4"/>
<circle cx="316.5" cy="110" r="1.5" opacity="0.8"/>
<circle cx="304.4" cy="122.1" r="1.5" opacity="0.5"/>
<circle cx="307.4" cy="118.4" r="1.2" opacity="0.5"/>
<circle cx="323.4" cy="114.7" r="1.5" opacity="0.6"/>
<circle cx="296.3" cy="112.9" r="1.5" opacity="0.5"/>
<circle cx="336.6" cy="108" r="1.6" opacity="0.7"/>
<circle cx="315.4" cy="108.7" r="1.2" opacity="0.7"/>
<circle cx="297.5" cy="122" r="1.1" opacity="0.6"/>
<circle cx="303.7" cy="121.8" r="1.2" opacity="0.8"/>
<circle cx="330.8" cy="106.4" r="1.1" opacity="0.8"/>
<circle cx="314.1" cy="109.9" r="1.4" opacity="0.4"/>
<circle cx="326.9" cy="109.6" r="1.3" opacity="0.5"/>
<circle cx="319.6" cy="108.3" r="1.5" opacity="0.5"/>
<circle cx="310.6" cy="117.5" r="1.1" opacity="0.5"/>
<circle cx="391.7" cy="69.8" r="1.2" opacity="0.4"/>
<circle cx="389.9" cy="73" r="1.2" opacity="0.6"/>
<circle cx="360" cy="89.1" r="1.7" opacity="0.6"/>
<circle cx="354.4" cy="76" r="1.4" opacity="0.9"/>
<circle cx="369.9" cy="73" r="1.6" opacity="0.7"/>
<circle cx="385.6" cy="75.9" r="1.6" opacity="0.7"/>
<circle cx="362.4" cy="82.3" r="1.6" opacity="0.7"/>
<circle cx="377.5" cy="80.2" r="1.3" opacity="0.9"/>
<circle cx="369.9" cy="75.3" r="1.7" opacity="0.4"/>
<circle cx="362.2" cy="78.3" r="1.5" opacity="0.6"/>
<circle cx="384.9" cy="75.2" r="1.6" opacity="0.8"/>
<circle cx="369.6" cy="81.7" r="1.5" opacity="0.8"/>
<circle cx="381.7" cy="85" r="1.7" opacity="0.6"/>
<circle cx="363.4" cy="87.7" r="1.7" opacity="0.5"/>
<circle cx="371.8" cy="82.4" r="1.5" opacity="0.5"/>
<circle cx="360.4" cy="80.6" r="1.5" opacity="0.5"/>
<circle cx="414.9" cy="49.9" r="1.4" opacity="0.8"/>
<circle cx="386.7" cy="82.5" r="1.4" opacity="0.8"/>
<circle cx="377.9" cy="70.3" r="1.7" opacity="0.5"/>
<circle cx="385.3" cy="72.1" r="1.6" opacity="0.9"/>
<circle cx="384" cy="69.6" r="1.7" opacity="0.7"/>
<circle cx="384.5" cy="78.1" r="1.6" opacity="0.6"/>
<circle cx="365.3" cy="77.5" r="1.2" opacity="0.6"/>
<circle cx="361" cy="81.8" r="1.1" opacity="0.4"/>
<circle cx="367.1" cy="87.6" r="1.5" opacity="0.5"/>
<circle cx="375.2" cy="83" r="1.1" opacity="0.7"/>
<circle cx="377.7" cy="72.3" r="1.4" opacity="0.8"/>
<circle cx="369.1" cy="69" r="1.5" opacity="0.5"/>
<circle cx="380.8" cy="61.4" r="1.1" opacity="0.9"/>
<circle cx="369.1" cy="79.5" r="1.1" opacity="0.8"/>
<circle cx="369.2" cy="75.5" r="1.3" opacity="0.7"/>
<circle cx="382.2" cy="72.4" r="1.6" opacity="0.5"/>
<circle cx="376.1" cy="78.7" r="1.3" opacity="0.7"/>
<circle cx="372.1" cy="80.6" r="1.2" opacity="0.4"/>
<circle cx="377.9" cy="79.4" r="1.4" opacity="0.5"/>
<circle cx="362.1" cy="82.7" r="1.7" opacity="0.6"/>
<circle cx="382.9" cy="69.8" r="1.2" opacity="0.7"/>
<circle cx="377.8" cy="77.4" r="1.1" opacity="0.8"/>
<circle cx="382.6" cy="71" r="1.3" opacity="0.6"/>
<circle cx="366.2" cy="87.4" r="1.3" opacity="0.5"/>
<circle cx="379.4" cy="67.8" r="1" opacity="0.8"/>
<circle cx="369.4" cy="72.8" r="1.5" opacity="0.9"/>
<circle cx="365.3" cy="84.1" r="1.2" opacity="0.7"/>
<circle cx="360.8" cy="74" r="1.7" opacity="0.5"/>
<circle cx="362.8" cy="90.4" r="1.6" opacity="0.7"/>
<circle cx="366.8" cy="74.7" r="1.7" opacity="0.7"/>
<circle cx="368.3" cy="81.2" r="1.1" opacity="0.9"/>
<circle cx="373.1" cy="75.4" r="1.2" opacity="0.6"/>
<circle cx="363.1" cy="81.6" r="1.6" opacity="0.6"/>
<circle cx="348.4" cy="85.5" r="1.5" opacity="0.6"/>
<circle cx="369.7" cy="83.5" r="1.4" opacity="0.8"/>
<circle cx="374.4" cy="81.9" r="1.3" opacity="0.6"/>
<circle cx="382.3" cy="68.5" r="1.2" opacity="0.6"/>
<circle cx="374.3" cy="73" r="1.5" opacity="0.4"/>
<circle cx="374.9" cy="77.9" r="1.6" opacity="0.5"/>
<circle cx="374.1" cy="78.3" r="1.2" opacity="0.8"/>
<circle cx="363.6" cy="68.1" r="1.7" opacity="0.7"/>
<circle cx="376.3" cy="74" r="1.7" opacity="0.6"/>
<circle cx="382.5" cy="81.8" r="1.6" opacity="0.6"/>
<circle cx="393" cy="74.2" r="1.5" opacity="0.7"/>
<circle cx="375.6" cy="75.3" r="1.1" opacity="0.5"/>
<circle cx="389.4" cy="70.4" r="1.5" opacity="0.4"/>
<circle cx="377.5" cy="77.9" r="1.4" opacity="0.7"/>
<circle cx="382" cy="71.5" r="1.7" opacity="0.6"/>
<circle cx="367.8" cy="82.1" r="1.2" opacity="0.9"/>
<circle cx="388.9" cy="69" r="1.1" opacity="0.5"/>
<circle cx="380.1" cy="78" r="1.5" opacity="0.4"/>
<circle cx="356.8" cy="82.6" r="1.1" opacity="0.6"/>
<circle cx="373.3" cy="68.9" r="1.3" opacity="0.8"/>
<circle cx="364" cy="77.7" r="1.3" opacity="0.9"/>
<circle cx="383.4" cy="61.5" r="1.4" opacity="0.5"/>
<circle cx="379.5" cy="79" r="1.5" opacity="0.4"/>
<circle cx="374.8" cy="65.9" r="1.4" opacity="0.4"/>
<circle cx="373.7" cy="70.5" r="1.5" opacity="0.7"/>
<circle cx="369" cy="72.5" r="1.7" opacity="0.9"/>
<circle cx="384.4" cy="67.9" r="1.2" opacity="0.6"/>
<circle cx="375.2" cy="88.8" r="1.6" opacity="0.8"/>
<circle cx="380.2" cy="56.7" r="1.5" opacity="0.6"/>
<circle cx="371.4" cy="72.8" r="1.4" opacity="0.5"/>
<circle cx="378.3" cy="68.9" r="1.2" opacity="0.9"/>
<circle cx="396.2" cy="72.9" r="1.5" opacity="0.5"/>
<circle cx="370.8" cy="69.9" r="1.7" opacity="0.7"/>
<circle cx="353.6" cy="92" r="1.1" opacity="0.8"/>
<circle cx="380.6" cy="76.2" r="1.1" opacity="0.8"/>
<circle cx="358.6" cy="87" r="1.2" opacity="0.8"/>
<circle cx="369.2" cy="76.3" r="1.4" opacity="0.8"/>
<circle cx="379.5" cy="82.4" r="1.2" opacity="0.6"/>
<circle cx="391.9" cy="61" r="1.7" opacity="0.6"/>
<circle cx="354.1" cy="80.8" r="1.5" opacity="0.6"/>
<circle cx="377.9" cy="69.8" r="1.7" opacity="0.6"/>
<circle cx="388.1" cy="76.6" r="1.1" opacity="0.7"/>
<circle cx="404.3" cy="68.1" r="1.4" opacity="0.8"/>
<circle cx="385.3" cy="77.4" r="1.3" opacity="0.5"/>
<circle cx="373.3" cy="75.2" r="1.4" opacity="0.4"/>
<circle cx="381.9" cy="62.3" r="1.1" opacity="0.6"/>
<circle cx="357.4" cy="85.9" r="1.5" opacity="0.6"/>
<circle cx="378.3" cy="72.7" r="1.1" opacity="0.8"/>
<circle cx="378.7" cy="76.8" r="1.4" opacity="0.6"/>
<circle cx="389.7" cy="80.9" r="1.4" opacity="0.8"/>
<circle cx="377.9" cy="87.8" r="1.2" opacity="0.9"/>
<circle cx="347.9" cy="78" r="1.6" opacity="0.7"/>
<circle cx="352" cy="84.1" r="1.3" opacity="0.4"/>
<circle cx="386.7" cy="64.7" r="1.5" opacity="0.8"/>
<circle cx="376.7" cy="81.7" r="1.6" opacity="0.9"/>
<circle cx="377.6" cy="73" r="1.5" opacity="0.7"/>
<circle cx="368.4" cy="81" r="1.1" opacity="0.6"/>
<circle cx="364.7" cy="80.8" r="1.3" opacity="0.7"/>
<circle cx="370.8" cy="69.8" r="1.1" opacity="0.9"/>
<circle cx="359.5" cy="94.4" r="1.7" opacity="0.5"/>
<circle cx="346.3" cy="81.4" r="1.3" opacity="0.7"/>
<circle cx="372.4" cy="78.4" r="1.2" opacity="0.5"/>
<circle cx="372.9" cy="85.1" r="1.4" opacity="0.9"/>
<circle cx="366.9" cy="74.3" r="1.7" opacity="0.7"/>
<circle cx="351.7" cy="83.5" r="1.5" opacity="0.6"/>
<circle cx="364.7" cy="77.5" r="1.7" opacity="0.5"/>
<circle cx="376.4" cy="74.8" r="1" opacity="0.7"/>
<circle cx="378.9" cy="81" r="1.1" opacity="0.8"/>
<circle cx="362.1" cy="73.8" r="1.7" opacity="0.9"/>
<circle cx="362.4" cy="73.1" r="1" opacity="0.4"/>
<circle cx="351.1" cy="94.1" r="1.2" opacity="0.7"/>
<circle cx="379.6" cy="88.8" r="1.5" opacity="0.5"/>
<circle cx="370.9" cy="90.7" r="1.1" opacity="0.4"/>
<circle cx="371.7" cy="88.8" r="1.6" opacity="0.4"/>
<circle cx="376.5" cy="84.5" r="1.2" opacity="0.7"/>
<circle cx="361.3" cy="100.4" r="1.1" opacity="0.6"/>
<circle cx="374.6" cy="89.9" r="1.5" opacity="0.4"/>
<circle cx="376.9" cy="94" r="1.4" opacity="0.7"/>
<circle cx="397.6" cy="81.1" r="1.4" opacity="0.6"/>
<circle cx="380.5" cy="96.4" r="1.3" opacity="0.4"/>
<circle cx="375" cy="87.3" r="1.1" opacity="0.4"/>
<circle cx="379.4" cy="95" r="1.5" opacity="0.4"/>
<circle cx="359.3" cy="95.7" r="1.3" opacity="0.5"/>
<circle cx="369" cy="92" r="1.1" opacity="0.5"/>
<circle cx="375" cy="100.3" r="1.2" opacity="0.6"/>
<circle cx="371.6" cy="94" r="1.3" opacity="0.5"/>
<circle cx="365.9" cy="102.3" r="1.2" opacity="0.6"/>
<circle cx="373.5" cy="84.9" r="1.3" opacity="0.7"/>
<circle cx="365.5" cy="91.2" r="1.1" opacity="0.3"/>
<circle cx="369.5" cy="94.4" r="1.4" opacity="0.5"/>
<circle cx="369" cy="99" r="1.6" opacity="0.4"/>
<circle cx="376.1" cy="94" r="1.2" opacity="0.7"/>
<circle cx="366.1" cy="87.1" r="1.1" opacity="0.3"/>
<circle cx="385.2" cy="94.6" r="1.4" opacity="0.4"/>
<circle cx="368" cy="91.1" r="1.3" opacity="0.4"/>
<circle cx="383.8" cy="92.9" r="1.4" opacity="0.5"/>
<circle cx="379.4" cy="96.4" r="1.3" opacity="0.6"/>
<circle cx="388.4" cy="92.3" r="1" opacity="0.4"/>
<circle cx="366.7" cy="95.5" r="1.1" opacity="0.6"/>
<circle cx="378.2" cy="88.7" r="1.2" opacity="0.6"/>
<circle cx="374" cy="96.5" r="1.4" opacity="0.5"/>
<circle cx="373" cy="92.7" r="1.3" opacity="0.7"/>
<circle cx="373.6" cy="89.3" r="1.3" opacity="0.5"/>
<circle cx="377.7" cy="97.6" r="1.3" opacity="0.6"/>
<circle cx="369.7" cy="105.7" r="1.5" opacity="0.5"/>
<circle cx="378.5" cy="94.2" r="1.1" opacity="0.6"/>
<circle cx="364.5" cy="86.4" r="1.6" opacity="0.3"/>
<circle cx="363.8" cy="83.5" r="1.1" opacity="0.4"/>
<circle cx="382.1" cy="90.2" r="1.4" opacity="0.4"/>
<circle cx="366" cy="87.9" r="1.4" opacity="0.4"/>
<circle cx="379.4" cy="87.6" r="1" opacity="0.3"/>
<circle cx="394.5" cy="69.9" r="1.4" opacity="0.5"/>
<circle cx="404.2" cy="68.4" r="1.1" opacity="0.6"/>
<circle cx="397.7" cy="73.4" r="1.1" opacity="0.6"/>
<circle cx="411.3" cy="62.8" r="1.2" opacity="0.9"/>
<circle cx="399.3" cy="68.2" r="1.4" opacity="0.9"/>
<circle cx="386.8" cy="72.8" r="1.4" opacity="0.5"/>
<circle cx="390.5" cy="75.8" r="1.2" opacity="0.6"/>
<circle cx="389.3" cy="76.3" r="1.2" opacity="0.5"/>
<circle cx="390.3" cy="76.1" r="1.3" opacity="0.7"/>
<circle cx="402" cy="74.7" r="1.2" opacity="0.8"/>
<circle cx="393.4" cy="71" r="1.3" opacity="0.5"/>
<circle cx="404.4" cy="69.8" r="1.2" opacity="0.5"/>
<circle cx="390.4" cy="78.4" r="1.5" opacity="0.6"/>
<circle cx="396.9" cy="72.1" r="1.3" opacity="0.6"/>
<circle cx="396.6" cy="76.1" r="1.5" opacity="0.8"/>
<circle cx="399.8" cy="74.5" r="1.5" opacity="0.7"/>
<circle cx="392.9" cy="72.2" r="1.4" opacity="0.5"/>
<circle cx="403.9" cy="72.1" r="1" opacity="0.9"/>
<circle cx="388.3" cy="76.4" r="1.6" opacity="0.8"/>
<circle cx="399.4" cy="75.1" r="1.1" opacity="0.8"/>
<circle cx="396.5" cy="71.2" r="1.2" opacity="0.5"/>
<circle cx="387.9" cy="77.4" r="1.5" opacity="0.8"/>
<circle cx="402" cy="70" r="1.3" opacity="0.6"/>
<circle cx="401.9" cy="71.7" r="1.1" opacity="0.5"/>
<circle cx="408.4" cy="67.4" r="1.2" opacity="0.8"/>
<circle cx="402.7" cy="70.1" r="1.1" opacity="0.8"/>
<circle cx="396" cy="75" r="1.5" opacity="0.6"/>
<circle cx="391.7" cy="77.7" r="1.2" opacity="0.4"/>
<circle cx="393.6" cy="76.5" r="1" opacity="0.6"/>
<circle cx="397.7" cy="71.3" r="1.4" opacity="0.7"/>
<circle cx="398.6" cy="73.6" r="1.4" opacity="0.7"/>
<circle cx="397.3" cy="75.2" r="1.5" opacity="0.9"/>
<circle cx="399.9" cy="75.9" r="1.4" opacity="0.6"/>
<circle cx="403.7" cy="71.8" r="1.4" opacity="0.7"/>
<circle cx="394.7" cy="74.5" r="1.1" opacity="0.6"/>
<circle cx="393" cy="76.4" r="1.5" opacity="0.5"/>
<circle cx="370.9" cy="116.7" r="1.3" opacity="0.5"/>
<circle cx="357.9" cy="123.6" r="0.8" opacity="0.7"/>
<circle cx="364.8" cy="115.8" r="1.2" opacity="0.6"/>
<circle cx="368.2" cy="119.3" r="1" opacity="0.5"/>
<circle cx="352" cy="122.2" r="1.3" opacity="0.6"/>
<circle cx="361.6" cy="135.5" r="0.9" opacity="0.5"/>
<circle cx="361.4" cy="115.6" r="1.4" opacity="0.4"/>
<circle cx="362" cy="126.2" r="0.8" opacity="0.4"/>
<circle cx="373.9" cy="119.4" r="1" opacity="0.6"/>
<circle cx="370" cy="131.6" r="1.1" opacity="0.8"/>
<circle cx="374.7" cy="123.5" r="1.1" opacity="0.5"/>
<circle cx="366.8" cy="116.1" r="1.3" opacity="0.5"/>
<circle cx="366.3" cy="131.8" r="1.1" opacity="0.5"/>
<circle cx="386.6" cy="115.4" r="1" opacity="0.4"/>
<circle cx="356.7" cy="120" r="1" opacity="0.5"/>
<circle cx="366.2" cy="114.5" r="1" opacity="0.8"/>
<circle cx="364.9" cy="129.3" r="0.9" opacity="0.7"/>
<circle cx="358" cy="119.8" r="1" opacity="0.5"/>
<circle cx="363.2" cy="114.2" r="1.3" opacity="0.5"/>
<circle cx="364.7" cy="120.3" r="0.9" opacity="0.8"/>
<circle cx="355.6" cy="117.9" r="1.1" opacity="0.6"/>
<circle cx="369.9" cy="123.3" r="1.2" opacity="0.7"/>
<circle cx="371.8" cy="129.4" r="0.9" opacity="0.7"/>
<circle cx="374.6" cy="123.6" r="1" opacity="0.6"/>
<circle cx="375.1" cy="121.4" r="1.2" opacity="0.4"/>
<circle cx="368.4" cy="132" r="1.1" opacity="0.7"/>
<circle cx="362" cy="113.3" r="0.9" opacity="0.6"/>
<circle cx="365.4" cy="111.8" r="1.2" opacity="0.5"/>
<circle cx="352.1" cy="140.6" r="1.3" opacity="0.7"/>
<circle cx="377.3" cy="119.5" r="0.8" opacity="0.8"/>
<circle cx="375.9" cy="110.6" r="1" opacity="0.8"/>
<circle cx="379.2" cy="125.4" r="1.1" opacity="0.4"/>
<circle cx="368.8" cy="112.9" r="1.3" opacity="0.7"/>
<circle cx="350.5" cy="130.7" r="0.9" opacity="0.8"/>
<circle cx="366" cy="123.1" r="1" opacity="0.4"/>
<circle cx="377.5" cy="117.2" r="0.9" opacity="0.4"/>
<circle cx="367.9" cy="126.8" r="1.3" opacity="0.8"/>
<circle cx="370.8" cy="97.6" r="1.1" opacity="0.7"/>
<circle cx="372.8" cy="135.8" r="1.3" opacity="0.7"/>
<circle cx="368.3" cy="123.3" r="1.3" opacity="0.6"/>
<circle cx="343.1" cy="69" r="0.8" opacity="0.6"/>
<circle cx="342.2" cy="74.8" r="0.9" opacity="0.4"/>
<circle cx="353.6" cy="72.7" r="1" opacity="0.6"/>
<circle cx="350.1" cy="78.7" r="0.9" opacity="0.4"/>
<circle cx="352.3" cy="81.7" r="0.9" opacity="0.5"/>
<circle cx="348.9" cy="73.4" r="1" opacity="0.6"/>
<circle cx="353" cy="71.2" r="0.8" opacity="0.4"/>
<circle cx="349.2" cy="68.4" r="0.9" opacity="0.5"/>
<circle cx="301.1" cy="143.6" r="0.8" fill="#fff" opacity="0.2"/>
<circle cx="363.3" cy="113.6" r="1" fill="#fff" opacity="0.2"/>
<circle cx="365.8" cy="109.3" r="0.7" fill="#fff" opacity="0.2"/>
<circle cx="333.4" cy="121.1" r="0.9" fill="#fff" opacity="0.2"/>
<circle cx="364.5" cy="116" r="1" fill="#fff" opacity="0.2"/>
<circle cx="345.1" cy="131.4" r="0.7" fill="#fff" opacity="0.3"/>
<circle cx="314.7" cy="141.3" r="1" fill="#fff" opacity="0.2"/>
<circle cx="366.1" cy="123.6" r="0.9" fill="#fff" opacity="0.3"/>
<circle cx="326.5" cy="126.6" r="0.7" fill="#fff" opacity="0.2"/>
<circle cx="342.7" cy="113.3" r="0.8" fill="#fff" opacity="0.2"/>
<circle cx="329.2" cy="126.4" r="1" fill="#fff" opacity="0.1"/>
<circle cx="289.8" cy="137.3" r="0.9" fill="#fff" opacity="0.2"/>
<circle cx="307.4" cy="137.9" r="0.8" fill="#fff" opacity="0.3"/>
<circle cx="308.4" cy="129.2" r="0.9" fill="#fff" opacity="0.2"/>
<circle cx="349.2" cy="134.2" r="0.7" fill="#fff" opacity="0.2"/>
<circle cx="358" cy="109.6" r="1" fill="#fff" opacity="0.3"/>
<circle cx="331.3" cy="120.9" r="1" fill="#fff" opacity="0.3"/>
<circle cx="296.6" cy="134.4" r="1" fill="#fff" opacity="0.3"/>
<circle cx="360.4" cy="122.5" r="1.1" fill="#fff" opacity="0.2"/>
<circle cx="329.3" cy="123.6" r="1" fill="#fff" opacity="0.3"/>
<circle cx="332.8" cy="112.8" r="0.8" fill="#fff" opacity="0.3"/>
<circle cx="326.1" cy="132.9" r="0.9" fill="#fff" opacity="0.2"/>
<circle cx="342.5" cy="115.6" r="0.9" fill="#fff" opacity="0.3"/>
<circle cx="348.1" cy="140.5" r="0.8" fill="#fff" opacity="0.1"/>
<circle cx="315.5" cy="135.1" r="1" fill="#fff" opacity="0.2"/>
<circle cx="349.1" cy="132.7" r="0.9" fill="#fff" opacity="0.1"/>
<circle cx="329.4" cy="118.9" r="0.9" fill="#fff" opacity="0.2"/>
<circle cx="298.6" cy="133.3" r="0.7" fill="#fff" opacity="0.3"/>
<circle cx="316" cy="128.1" r="1" fill="#fff" opacity="0.1"/>
<circle cx="357.8" cy="108.2" r="1.1" fill="#fff" opacity="0.1"/>
<circle cx="357.1" cy="120.7" r="0.7" fill="#fff" opacity="0.2"/>
<circle cx="335.3" cy="122.7" r="0.7" fill="#fff" opacity="0.2"/>
<circle cx="315.5" cy="145.6" r="0.8" fill="#fff" opacity="0.2"/>
<circle cx="308.4" cy="145.7" r="0.8" fill="#fff" opacity="0.2"/>
<circle cx="367.8" cy="121.8" r="1" fill="#fff" opacity="0.2"/>
<circle cx="330.1" cy="141.8" r="0.7" fill="#fff" opacity="0.2"/>
<circle cx="361" cy="116.9" r="0.7" fill="#fff" opacity="0.2"/>
<circle cx="327.8" cy="144.4" r="1" fill="#fff" opacity="0.2"/>
<circle cx="341.1" cy="122.7" r="0.6" fill="#fff" opacity="0.2"/>
<circle cx="343.6" cy="135" r="0.6" fill="#fff" opacity="0.3"/>
<circle cx="356.3" cy="106.2" r="0.8" fill="#fff" opacity="0.1"/>
<circle cx="305.1" cy="126.9" r="0.7" fill="#fff" opacity="0.3"/>
<circle cx="327" cy="115.9" r="0.7" fill="#fff" opacity="0.3"/>
<circle cx="290.6" cy="136.3" r="0.6" fill="#fff" opacity="0.3"/>
<circle cx="326.1" cy="130.3" r="1" fill="#fff" opacity="0.1"/>
</g></g>
<rect x="286" y="40.4" width="144.6" height="106.6" fill="none" stroke="#141414" stroke-width="1.9"/>
<line x1="341.3" y1="40.4" x2="341.3" y2="147" stroke="#141414" stroke-width="1.8"/>
<line x1="286" y1="104.5" x2="430.6" y2="104.5" stroke="#141414" stroke-width="1.8"/>
<line x1="280.5" y1="41.2" x2="286" y2="41.2" stroke="#141414" stroke-width="1.8"/>
<line x1="280.5" y1="147" x2="286" y2="147" stroke="#141414" stroke-width="1.9"/>
<line x1="285.8" y1="147" x2="285.8" y2="152" stroke="#141414" stroke-width="1.8"/>
<text x="277.3" y="167.2" font-size="14.8" fill="#1a1a1a" textLength="11.6" lengthAdjust="spacingAndGlyphs" stroke="#1a1a1a" stroke-width="0.45">10</text>
<text x="289.7" y="163" font-size="10.8" fill="#1a1a1a" textLength="4.8" lengthAdjust="spacingAndGlyphs" stroke="#1a1a1a" stroke-width="0.45">0</text>
<line x1="321.9" y1="147" x2="321.9" y2="152" stroke="#141414" stroke-width="1.8"/>
<text x="313.4" y="167.2" font-size="14.8" fill="#1a1a1a" textLength="11.6" lengthAdjust="spacingAndGlyphs" stroke="#1a1a1a" stroke-width="0.45">10</text>
<text x="325.8" y="163" font-size="10.8" fill="#1a1a1a" textLength="4.8" lengthAdjust="spacingAndGlyphs" stroke="#1a1a1a" stroke-width="0.45">1</text>
<line x1="358.1" y1="147" x2="358.1" y2="152" stroke="#141414" stroke-width="1.8"/>
<text x="349.6" y="167.2" font-size="14.8" fill="#1a1a1a" textLength="11.6" lengthAdjust="spacingAndGlyphs" stroke="#1a1a1a" stroke-width="0.45">10</text>
<text x="362" y="163" font-size="10.8" fill="#1a1a1a" textLength="4.8" lengthAdjust="spacingAndGlyphs" stroke="#1a1a1a" stroke-width="0.45">2</text>
<line x1="394.3" y1="147" x2="394.3" y2="152" stroke="#141414" stroke-width="1.8"/>
<text x="385.8" y="167.2" font-size="14.8" fill="#1a1a1a" textLength="11.6" lengthAdjust="spacingAndGlyphs" stroke="#1a1a1a" stroke-width="0.45">10</text>
<text x="398.2" y="163" font-size="10.8" fill="#1a1a1a" textLength="4.8" lengthAdjust="spacingAndGlyphs" stroke="#1a1a1a" stroke-width="0.45">3</text>
<line x1="430.4" y1="147" x2="430.4" y2="152" stroke="#141414" stroke-width="1.8"/>
<text x="421.9" y="167.2" font-size="14.8" fill="#1a1a1a" textLength="11.6" lengthAdjust="spacingAndGlyphs" stroke="#1a1a1a" stroke-width="0.45">10</text>
<text x="434.3" y="163" font-size="10.8" fill="#1a1a1a" textLength="4.8" lengthAdjust="spacingAndGlyphs" stroke="#1a1a1a" stroke-width="0.45">4</text>
<text x="258.4" y="48.4" font-size="14.8" fill="#1a1a1a" textLength="11.6" lengthAdjust="spacingAndGlyphs" stroke="#1a1a1a" stroke-width="0.45">10</text>
<text x="270.8" y="43.2" font-size="10.8" fill="#1a1a1a" textLength="4.8" lengthAdjust="spacingAndGlyphs" stroke="#1a1a1a" stroke-width="0.45">4</text>
<text x="258.4" y="149.8" font-size="14.8" fill="#1a1a1a" textLength="11.6" lengthAdjust="spacingAndGlyphs" stroke="#1a1a1a" stroke-width="0.45">10</text>
<text x="270.8" y="145" font-size="10.8" fill="#1a1a1a" textLength="4.8" lengthAdjust="spacingAndGlyphs" stroke="#1a1a1a" stroke-width="0.45">0</text>
<clipPath id="cpA2"><rect x="472.6" y="40.4" width="144.6" height="106.6"/></clipPath>
<g clip-path="url(#cpA2)"><g filter="url(#bs)" fill="#3b5cc6">
<polygon points="472.6,135.6 477.9,127.1 484.7,121.9 495,118.7 505.3,115.7 514.4,112.7 523.6,110 532.7,108.2 541.8,107.7 559,108.8 556.7,115.7 551,122.6 545.3,127.1 537.3,131.7 531.6,136.3 528.6,147 472.6,147" stroke="#3b5cc6" stroke-width="1.2" stroke-linejoin="round"/>
<circle cx="472.3" cy="133.3" r="1.4" opacity="0.6"/>
<circle cx="475.8" cy="132.7" r="1" opacity="0.8"/>
<circle cx="473.9" cy="135" r="0.9" opacity="0.9"/>
<circle cx="475.3" cy="132.1" r="1.2" opacity="0.8"/>
<circle cx="475.4" cy="130.5" r="1.5" opacity="0.6"/>
<circle cx="481" cy="124.7" r="1.6" opacity="0.6"/>
<circle cx="476.2" cy="128.1" r="1.6" opacity="0.8"/>
<circle cx="482.9" cy="122.7" r="1.5" opacity="0.6"/>
<circle cx="479" cy="125.2" r="1.2" opacity="0.9"/>
<circle cx="478.2" cy="126.1" r="1.2" opacity="0.8"/>
<circle cx="483.4" cy="123.7" r="1.6" opacity="0.7"/>
<circle cx="479.3" cy="126.4" r="1.4" opacity="0.8"/>
<circle cx="479.1" cy="124.3" r="1" opacity="1"/>
<circle cx="495.4" cy="114.5" r="1.2" opacity="0.9"/>
<circle cx="487.1" cy="118.9" r="1.6" opacity="0.9"/>
<circle cx="493.5" cy="121.4" r="1.2" opacity="0.7"/>
<circle cx="489.3" cy="118.2" r="1.5" opacity="0.8"/>
<circle cx="487.5" cy="122.8" r="1" opacity="0.7"/>
<circle cx="487" cy="123.3" r="1" opacity="0.9"/>
<circle cx="488.8" cy="119.9" r="1" opacity="0.7"/>
<circle cx="493.9" cy="119.2" r="0.8" opacity="0.9"/>
<circle cx="502.3" cy="117.6" r="1" opacity="0.6"/>
<circle cx="497" cy="119.9" r="1.3" opacity="0.8"/>
<circle cx="496.7" cy="121.5" r="1.1" opacity="1"/>
<circle cx="506" cy="117.9" r="0.8" opacity="0.9"/>
<circle cx="502.7" cy="114.6" r="1.4" opacity="0.6"/>
<circle cx="500.4" cy="118.4" r="1" opacity="0.9"/>
<circle cx="510.9" cy="112.1" r="1.3" opacity="1"/>
<circle cx="511.6" cy="112.8" r="1.5" opacity="0.7"/>
<circle cx="505.1" cy="117.3" r="1.5" opacity="0.8"/>
<circle cx="513.5" cy="112.8" r="1.2" opacity="0.7"/>
<circle cx="511.9" cy="114" r="1.3" opacity="0.9"/>
<circle cx="506.4" cy="112.3" r="0.9" opacity="0.6"/>
<circle cx="508.1" cy="117.1" r="1.6" opacity="0.7"/>
<circle cx="521.1" cy="109.9" r="1.6" opacity="0.6"/>
<circle cx="514.9" cy="112.6" r="1.2" opacity="0.7"/>
<circle cx="520.9" cy="111.5" r="1.4" opacity="0.8"/>
<circle cx="516.1" cy="113.6" r="1.1" opacity="0.8"/>
<circle cx="518.2" cy="113" r="1.6" opacity="0.6"/>
<circle cx="518.1" cy="111.8" r="0.8" opacity="0.7"/>
<circle cx="530.1" cy="105.1" r="1.5" opacity="0.8"/>
<circle cx="530.2" cy="109" r="1" opacity="0.8"/>
<circle cx="522.9" cy="109.5" r="1.2" opacity="0.7"/>
<circle cx="524.2" cy="107.4" r="1.3" opacity="0.6"/>
<circle cx="531.8" cy="106" r="1.4" opacity="0.5"/>
<circle cx="531" cy="107.4" r="1.5" opacity="0.9"/>
<circle cx="540.9" cy="109.5" r="1.1" opacity="0.6"/>
<circle cx="538.7" cy="107" r="1.2" opacity="1"/>
<circle cx="539.4" cy="107" r="1.6" opacity="0.5"/>
<circle cx="534.8" cy="107.2" r="1.6" opacity="0.8"/>
<circle cx="535.9" cy="106.7" r="1.4" opacity="1"/>
<circle cx="531.6" cy="110.7" r="0.8" opacity="0.9"/>
<circle cx="540.9" cy="105.8" r="1" opacity="0.7"/>
<circle cx="545.2" cy="106.3" r="1.3" opacity="0.7"/>
<circle cx="554.2" cy="107.7" r="1.6" opacity="0.6"/>
<circle cx="549.7" cy="109.1" r="1.4" opacity="0.6"/>
<circle cx="551.9" cy="105.2" r="0.8" opacity="0.6"/>
<circle cx="551" cy="107.9" r="1.5" opacity="0.7"/>
<circle cx="551.7" cy="108.1" r="1.1" opacity="0.6"/>
<circle cx="543.4" cy="109.9" r="1.3" opacity="0.6"/>
<circle cx="554.8" cy="108.6" r="1.5" opacity="0.9"/>
<circle cx="547.9" cy="107" r="1" opacity="0.5"/>
<circle cx="557" cy="108.1" r="1.4" opacity="0.9"/>
<circle cx="559.5" cy="109.7" r="1.1" opacity="0.9"/>
<circle cx="556.1" cy="117.1" r="1.3" opacity="0.9"/>
<circle cx="557.5" cy="113.8" r="1.2" opacity="0.6"/>
<circle cx="557.8" cy="114.1" r="1.4" opacity="0.8"/>
<circle cx="559.1" cy="107.4" r="1" opacity="0.5"/>
<circle cx="555.3" cy="116.1" r="1.5" opacity="0.6"/>
<circle cx="554.4" cy="118.7" r="0.9" opacity="0.5"/>
<circle cx="554.1" cy="122" r="0.9" opacity="0.6"/>
<circle cx="553.9" cy="119.2" r="1.2" opacity="0.5"/>
<circle cx="554.9" cy="120.4" r="1.4" opacity="0.9"/>
<circle cx="553.4" cy="118.7" r="1.1" opacity="0.6"/>
<circle cx="549.3" cy="122.9" r="1.1" opacity="0.6"/>
<circle cx="545" cy="125.3" r="1.1" opacity="1"/>
<circle cx="543.9" cy="127.4" r="1.5" opacity="0.6"/>
<circle cx="550.8" cy="124.7" r="1.4" opacity="0.6"/>
<circle cx="550.1" cy="124.4" r="1.1" opacity="0.9"/>
<circle cx="537.6" cy="131.7" r="1.3" opacity="0.9"/>
<circle cx="537.3" cy="130.3" r="1.2" opacity="0.6"/>
<circle cx="538.7" cy="129.8" r="1.5" opacity="1"/>
<circle cx="542.2" cy="129.1" r="1.5" opacity="0.8"/>
<circle cx="534.7" cy="133.3" r="0.8" opacity="0.9"/>
<circle cx="536.9" cy="132.7" r="1" opacity="0.9"/>
<circle cx="533.8" cy="134.3" r="1.4" opacity="0.9"/>
<circle cx="537.7" cy="132" r="1.1" opacity="0.7"/>
<circle cx="536.5" cy="132.2" r="1.3" opacity="0.7"/>
<circle cx="538.2" cy="132.9" r="1.3" opacity="0.7"/>
<circle cx="530.6" cy="136.8" r="1.1" opacity="0.6"/>
<circle cx="527.3" cy="145.4" r="1.1" opacity="0.6"/>
<circle cx="529.1" cy="139.7" r="1.6" opacity="0.8"/>
<circle cx="531.7" cy="138.8" r="1.1" opacity="0.9"/>
<circle cx="528.6" cy="140.6" r="0.8" opacity="0.5"/>
<circle cx="529.1" cy="142.2" r="1.5" opacity="0.9"/>
<circle cx="532.2" cy="140.2" r="1.3" opacity="0.6"/>
<circle cx="519" cy="145.6" r="1.4" opacity="0.7"/>
<circle cx="481.8" cy="145.9" r="1.1" opacity="0.8"/>
<circle cx="484.5" cy="145.9" r="1" opacity="0.9"/>
<circle cx="511.6" cy="145.7" r="1.4" opacity="0.8"/>
<circle cx="512.9" cy="145" r="1.3" opacity="0.7"/>
<circle cx="496.8" cy="145.7" r="1" opacity="0.7"/>
<circle cx="472.4" cy="136.9" r="1.5" opacity="0.9"/>
<circle cx="471.4" cy="140.8" r="0.9" opacity="0.9"/>
<circle cx="475.1" cy="141.9" r="1.5" opacity="0.5"/>
<circle cx="472.7" cy="140.7" r="1.5" opacity="0.7"/>
<circle cx="472.1" cy="140.5" r="1.3" opacity="0.7"/>
<circle cx="473.4" cy="137.8" r="0.8" opacity="0.6"/>
<circle cx="472.8" cy="144.4" r="1.3" opacity="0.9"/>
<circle cx="510.1" cy="89.8" r="1.6" opacity="0.7"/>
<circle cx="508.8" cy="84.7" r="1.3" opacity="1"/>
<circle cx="505.8" cy="105.3" r="1.6" opacity="0.5"/>
<circle cx="491.4" cy="97.1" r="1.1" opacity="0.9"/>
<circle cx="501.3" cy="81.9" r="1.4" opacity="0.5"/>
<circle cx="507.7" cy="87.4" r="1.6" opacity="0.8"/>
<circle cx="507.3" cy="98.4" r="1.3" opacity="0.8"/>
<circle cx="519.7" cy="82.6" r="1.3" opacity="0.9"/>
<circle cx="497.4" cy="99.2" r="1.2" opacity="0.7"/>
<circle cx="512.4" cy="85.6" r="1.1" opacity="0.9"/>
<circle cx="500" cy="87.9" r="1.7" opacity="1"/>
<circle cx="507.4" cy="87.6" r="1.5" opacity="0.8"/>
<circle cx="504.6" cy="90" r="1.7" opacity="0.7"/>
<circle cx="494.1" cy="92.2" r="1.2" opacity="0.4"/>
<circle cx="508.1" cy="85.2" r="1.1" opacity="0.5"/>
<circle cx="514.2" cy="82.4" r="1.2" opacity="0.5"/>
<circle cx="508.8" cy="80.9" r="1.4" opacity="0.5"/>
<circle cx="499.3" cy="104.3" r="1" opacity="0.7"/>
<circle cx="527.2" cy="80.6" r="1.1" opacity="1"/>
<circle cx="505.5" cy="80.3" r="1.1" opacity="0.8"/>
<circle cx="499.8" cy="95.2" r="1.1" opacity="0.7"/>
<circle cx="504.9" cy="87" r="1.6" opacity="0.7"/>
<circle cx="507.9" cy="93.3" r="1.3" opacity="0.8"/>
<circle cx="492.6" cy="94.5" r="1.4" opacity="0.7"/>
<circle cx="509.2" cy="86.6" r="1" opacity="0.6"/>
<circle cx="506.4" cy="92.7" r="1.3" opacity="0.4"/>
<circle cx="509.1" cy="83.1" r="1.6" opacity="0.8"/>
<circle cx="498.7" cy="83.8" r="1.2" opacity="0.8"/>
<circle cx="511.9" cy="93.5" r="1.4" opacity="0.9"/>
<circle cx="510.9" cy="91.2" r="1.6" opacity="0.9"/>
<circle cx="508.1" cy="87.4" r="1.2" opacity="0.5"/>
<circle cx="498.6" cy="84.2" r="1.5" opacity="0.9"/>
<circle cx="498.6" cy="95" r="1.7" opacity="0.8"/>
<circle cx="497.9" cy="88.5" r="1.4" opacity="0.8"/>
<circle cx="502.4" cy="91" r="1.3" opacity="0.7"/>
<circle cx="501.5" cy="97.2" r="1.3" opacity="0.6"/>
<circle cx="502.7" cy="95.5" r="1.7" opacity="0.5"/>
<circle cx="514.7" cy="83.6" r="1.3" opacity="0.7"/>
<circle cx="499.7" cy="91.2" r="1.2" opacity="0.4"/>
<circle cx="508.5" cy="75.5" r="1.2" opacity="0.7"/>
<circle cx="506" cy="91.9" r="1.6" opacity="0.9"/>
<circle cx="508.7" cy="92.9" r="1.5" opacity="0.9"/>
<circle cx="501.3" cy="94.9" r="1.2" opacity="0.9"/>
<circle cx="507.3" cy="77.9" r="1.1" opacity="0.8"/>
<circle cx="513.5" cy="82.3" r="1.3" opacity="0.5"/>
<circle cx="515.8" cy="85.8" r="1.1" opacity="0.9"/>
<circle cx="499.3" cy="88.3" r="1.6" opacity="0.9"/>
<circle cx="502.9" cy="90.1" r="1.4" opacity="0.7"/>
<circle cx="513.9" cy="99.5" r="1.5" opacity="0.5"/>
<circle cx="509.6" cy="93.2" r="1.4" opacity="0.6"/>
<circle cx="499.2" cy="100.2" r="1.2" opacity="0.8"/>
<circle cx="507" cy="103.9" r="1.7" opacity="0.6"/>
<circle cx="502.7" cy="90.3" r="1.3" opacity="0.8"/>
<circle cx="500.2" cy="89.5" r="1.1" opacity="0.5"/>
<circle cx="501.9" cy="91.4" r="1.2" opacity="0.8"/>
<circle cx="508.4" cy="82.6" r="1.2" opacity="0.7"/>
<circle cx="510.3" cy="98.3" r="1.1" opacity="0.6"/>
<circle cx="498" cy="102.2" r="1.1" opacity="0.5"/>
<circle cx="510" cy="89.9" r="1.3" opacity="0.6"/>
<circle cx="502.5" cy="85.3" r="1.4" opacity="0.6"/>
<circle cx="499.9" cy="79.5" r="1.3" opacity="0.9"/>
<circle cx="515.4" cy="101.5" r="1.4" opacity="0.8"/>
<circle cx="504.6" cy="94.7" r="1.1" opacity="0.9"/>
<circle cx="504.8" cy="99.2" r="1.3" opacity="0.7"/>
<circle cx="508.7" cy="91.7" r="1.3" opacity="0.8"/>
<circle cx="505.3" cy="90.1" r="1.5" opacity="0.7"/>
<circle cx="510.6" cy="88.1" r="1.2" opacity="0.9"/>
<circle cx="500.3" cy="92.4" r="1.2" opacity="0.6"/>
<circle cx="508" cy="94.4" r="1.6" opacity="0.9"/>
<circle cx="495.3" cy="84.5" r="1.5" opacity="0.5"/>
<circle cx="509.3" cy="88" r="1.2" opacity="0.7"/>
<circle cx="504.6" cy="82.3" r="1.3" opacity="0.6"/>
<circle cx="513.8" cy="81.7" r="1.3" opacity="0.4"/>
<circle cx="509.4" cy="86.1" r="1.6" opacity="0.5"/>
<circle cx="500.2" cy="89" r="1.6" opacity="0.6"/>
<circle cx="509.9" cy="89.2" r="1.6" opacity="1"/>
<circle cx="496.6" cy="89.1" r="1.2" opacity="0.6"/>
<circle cx="524" cy="85.3" r="1.1" opacity="0.8"/>
<circle cx="505.6" cy="93.7" r="1.3" opacity="0.9"/>
<circle cx="507.9" cy="92.4" r="1.5" opacity="0.8"/>
<circle cx="502.3" cy="92.5" r="1.6" opacity="0.5"/>
<circle cx="509.9" cy="91.1" r="1.4" opacity="0.7"/>
<circle cx="495.9" cy="94.3" r="1.6" opacity="0.7"/>
<circle cx="517" cy="83.9" r="1" opacity="0.6"/>
<circle cx="513.9" cy="90.6" r="1.6" opacity="0.5"/>
<circle cx="509.5" cy="100.1" r="1.5" opacity="0.5"/>
<circle cx="496.3" cy="86" r="1.3" opacity="0.5"/>
<circle cx="500.6" cy="88.9" r="1.1" opacity="0.5"/>
<circle cx="504.5" cy="93" r="1.3" opacity="0.7"/>
<circle cx="499.5" cy="92.7" r="1.6" opacity="0.5"/>
<circle cx="507.1" cy="103.4" r="1.6" opacity="0.9"/>
<circle cx="502" cy="84.2" r="1.6" opacity="0.7"/>
<circle cx="510.5" cy="89.5" r="1.1" opacity="0.9"/>
<circle cx="506.6" cy="95.7" r="1.4" opacity="0.5"/>
<circle cx="497.1" cy="84.8" r="1.6" opacity="0.9"/>
<circle cx="506.3" cy="93" r="1.6" opacity="0.8"/>
<circle cx="504.7" cy="95.5" r="1.1" opacity="0.9"/>
<circle cx="498" cy="99.6" r="1.3" opacity="0.6"/>
<circle cx="496.6" cy="96.6" r="1.6" opacity="0.6"/>
<circle cx="500.5" cy="87.4" r="1.6" opacity="0.8"/>
<circle cx="499.9" cy="92.4" r="1.2" opacity="0.9"/>
<circle cx="504.3" cy="85.3" r="1.1" opacity="0.5"/>
<circle cx="507" cy="88.4" r="1.6" opacity="0.7"/>
<circle cx="498.1" cy="93.3" r="1.3" opacity="0.7"/>
<circle cx="519.9" cy="86.6" r="1.1" opacity="0.5"/>
<circle cx="497.8" cy="87.5" r="1.6" opacity="0.8"/>
<circle cx="506.8" cy="88" r="1" opacity="0.6"/>
<circle cx="504.3" cy="87" r="1.4" opacity="0.9"/>
<circle cx="512.9" cy="91.2" r="1.6" opacity="0.8"/>
<circle cx="503.3" cy="96.8" r="1.2" opacity="1"/>
<circle cx="502.1" cy="82.3" r="1.2" opacity="0.8"/>
<circle cx="496.9" cy="98.4" r="1.3" opacity="0.9"/>
<circle cx="499.9" cy="87.6" r="1.4" opacity="0.9"/>
<circle cx="491" cy="98.9" r="1" opacity="0.9"/>
<circle cx="500.4" cy="86.3" r="1.6" opacity="0.5"/>
<circle cx="506.1" cy="99.2" r="1.6" opacity="0.6"/>
<circle cx="513.1" cy="83.3" r="1.1" opacity="0.5"/>
<circle cx="513.9" cy="87.3" r="1.2" opacity="0.6"/>
<circle cx="504.2" cy="92.1" r="1.7" opacity="0.9"/>
<circle cx="499" cy="92.7" r="1.2" opacity="0.8"/>
<circle cx="505.4" cy="106.1" r="1.7" opacity="0.8"/>
<circle cx="505.4" cy="87.6" r="1.1" opacity="0.6"/>
<circle cx="512.2" cy="89.8" r="1.7" opacity="0.9"/>
<circle cx="508.7" cy="86.1" r="1.2" opacity="0.4"/>
<circle cx="506.7" cy="91.5" r="1.4" opacity="0.6"/>
<circle cx="498.6" cy="87.7" r="1.4" opacity="0.6"/>
<circle cx="499.6" cy="84.1" r="1.5" opacity="0.7"/>
<circle cx="502.2" cy="94.2" r="1.1" opacity="0.7"/>
<circle cx="501.7" cy="90.2" r="1.6" opacity="0.9"/>
<circle cx="506.4" cy="78.8" r="1.4" opacity="0.5"/>
<circle cx="510.3" cy="97.6" r="1.7" opacity="0.5"/>
<circle cx="510.8" cy="85.9" r="1.3" opacity="0.8"/>
<circle cx="517.8" cy="88.7" r="1.3" opacity="0.9"/>
<circle cx="506.2" cy="94.8" r="1.1" opacity="1"/>
<circle cx="493.9" cy="92.7" r="1.1" opacity="0.7"/>
<circle cx="494.1" cy="79.2" r="1.7" opacity="0.5"/>
<circle cx="501.5" cy="112.1" r="1.4" opacity="1"/>
<circle cx="506.5" cy="90.8" r="1.7" opacity="0.6"/>
<circle cx="499.9" cy="92.3" r="1.4" opacity="0.9"/>
<circle cx="513.5" cy="78.5" r="1.2" opacity="0.9"/>
<circle cx="511.6" cy="85.8" r="1.7" opacity="0.6"/>
<circle cx="504.5" cy="97.9" r="1.2" opacity="0.8"/>
<circle cx="503.1" cy="89.5" r="1.7" opacity="0.5"/>
<circle cx="501" cy="87.5" r="1.1" opacity="0.5"/>
<circle cx="515.1" cy="81.9" r="1.3" opacity="0.9"/>
<circle cx="516" cy="78.2" r="1.4" opacity="0.6"/>
<circle cx="489.9" cy="100.8" r="1.5" opacity="0.8"/>
<circle cx="505.7" cy="83.8" r="1.4" opacity="0.9"/>
<circle cx="515.6" cy="95" r="1" opacity="0.7"/>
<circle cx="502.2" cy="91" r="1.7" opacity="0.7"/>
<circle cx="511.2" cy="92" r="1.4" opacity="0.7"/>
<circle cx="508.1" cy="88" r="1.5" opacity="0.5"/>
<circle cx="511.8" cy="97.8" r="1.6" opacity="0.9"/>
<circle cx="506.3" cy="90" r="1.5" opacity="0.8"/>
<circle cx="505.6" cy="91" r="1.3" opacity="0.6"/>
<circle cx="488" cy="94.2" r="1.2" opacity="0.5"/>
<circle cx="503.3" cy="88.7" r="1.2" opacity="0.7"/>
<circle cx="510.1" cy="85.7" r="1.2" opacity="0.7"/>
<circle cx="511.6" cy="91.2" r="1.5" opacity="0.6"/>
<circle cx="504.5" cy="86.5" r="1.1" opacity="0.8"/>
<circle cx="496.8" cy="102" r="1.1" opacity="0.8"/>
<circle cx="500.3" cy="88.4" r="1.1" opacity="0.8"/>
<circle cx="502.1" cy="84.9" r="1.4" opacity="0.8"/>
<circle cx="499.1" cy="90.6" r="1.2" opacity="0.7"/>
<circle cx="492.8" cy="96" r="1.7" opacity="0.7"/>
<circle cx="506.2" cy="94" r="1.5" opacity="0.8"/>
<circle cx="511.2" cy="96.2" r="1.7" opacity="0.6"/>
<circle cx="509.5" cy="83.8" r="1.5" opacity="0.9"/>
<circle cx="510.2" cy="92.4" r="1.7" opacity="0.5"/>
<circle cx="507.4" cy="96.1" r="1.5" opacity="0.8"/>
<circle cx="510.6" cy="81.3" r="1" opacity="0.5"/>
<circle cx="512" cy="86.3" r="1" opacity="0.7"/>
<circle cx="501.6" cy="89.8" r="1.6" opacity="0.7"/>
<circle cx="509.7" cy="84.9" r="1.5" opacity="0.7"/>
<circle cx="511.1" cy="97.8" r="1" opacity="0.6"/>
<circle cx="507.6" cy="101.6" r="1.4" opacity="0.4"/>
<circle cx="508.2" cy="97.2" r="1.6" opacity="0.5"/>
<circle cx="503.2" cy="85" r="1.4" opacity="0.7"/>
<circle cx="494.9" cy="107.2" r="1.7" opacity="0.9"/>
<circle cx="499.6" cy="84" r="1.1" opacity="0.4"/>
<circle cx="504.9" cy="81.2" r="1.5" opacity="0.6"/>
<circle cx="512.4" cy="100.3" r="1.4" opacity="0.4"/>
<circle cx="505.9" cy="95.3" r="1.1" opacity="1"/>
<circle cx="509.9" cy="78.8" r="1" opacity="0.7"/>
<circle cx="515.8" cy="88.8" r="1.6" opacity="0.9"/>
<circle cx="504.7" cy="87.2" r="1" opacity="0.5"/>
<circle cx="505.6" cy="78.7" r="1.4" opacity="0.6"/>
<circle cx="506" cy="86.8" r="1.3" opacity="0.4"/>
<circle cx="510.7" cy="84.9" r="1.6" opacity="0.9"/>
<circle cx="487.2" cy="95.2" r="1.6" opacity="0.9"/>
<circle cx="507.5" cy="87.7" r="1.5" opacity="0.5"/>
<circle cx="506.4" cy="95.1" r="1.7" opacity="0.5"/>
<circle cx="503.9" cy="92.9" r="1.7" opacity="0.7"/>
<circle cx="499.8" cy="86.6" r="1.6" opacity="0.6"/>
<circle cx="501.3" cy="99.7" r="1.5" opacity="0.9"/>
<circle cx="508.4" cy="100.6" r="1.5" opacity="0.7"/>
<circle cx="502.5" cy="97.6" r="1.1" opacity="0.5"/>
<circle cx="506.4" cy="92.7" r="1.1" opacity="0.8"/>
<circle cx="500" cy="84.8" r="1.2" opacity="0.8"/>
<circle cx="504.7" cy="81.9" r="1.2" opacity="0.7"/>
<circle cx="563.9" cy="75.7" r="1.1" opacity="1"/>
<circle cx="553" cy="68.6" r="1.1" opacity="0.6"/>
<circle cx="564.6" cy="72.6" r="1.2" opacity="0.8"/>
<circle cx="553.1" cy="79.5" r="1.4" opacity="0.8"/>
<circle cx="555.1" cy="72.2" r="1.3" opacity="0.5"/>
<circle cx="578.2" cy="65.2" r="1.1" opacity="0.5"/>
<circle cx="571.7" cy="77.4" r="1.1" opacity="0.5"/>
<circle cx="566.2" cy="72" r="1.2" opacity="0.7"/>
<circle cx="567.2" cy="71.8" r="1.2" opacity="0.6"/>
<circle cx="565.9" cy="77.2" r="1.3" opacity="0.6"/>
<circle cx="580" cy="66.8" r="1.5" opacity="0.7"/>
<circle cx="571.8" cy="69.4" r="1.6" opacity="0.7"/>
<circle cx="574.2" cy="78.1" r="1.6" opacity="0.5"/>
<circle cx="558.4" cy="75.5" r="1.1" opacity="0.6"/>
<circle cx="557.5" cy="70.4" r="1.5" opacity="0.8"/>
<circle cx="565.7" cy="73.6" r="1" opacity="1"/>
<circle cx="573" cy="59.7" r="1.1" opacity="0.9"/>
<circle cx="571.6" cy="74" r="1.2" opacity="1"/>
<circle cx="568.6" cy="61.3" r="1.3" opacity="1"/>
<circle cx="569.2" cy="77.8" r="1.5" opacity="0.6"/>
<circle cx="565.4" cy="74.1" r="1.6" opacity="0.6"/>
<circle cx="571.8" cy="72.7" r="1.5" opacity="0.8"/>
<circle cx="553.5" cy="76.2" r="1.5" opacity="0.6"/>
<circle cx="562.8" cy="72.8" r="1.2" opacity="0.5"/>
<circle cx="573.3" cy="71" r="1.6" opacity="0.8"/>
<circle cx="571.7" cy="71.4" r="1.4" opacity="0.8"/>
<circle cx="570" cy="70.6" r="1.4" opacity="0.8"/>
<circle cx="578.7" cy="70.7" r="1.2" opacity="0.8"/>
<circle cx="560.7" cy="73.6" r="1.7" opacity="0.7"/>
<circle cx="560.9" cy="77.6" r="1.6" opacity="1"/>
<circle cx="565.4" cy="65.5" r="1.5" opacity="0.8"/>
<circle cx="582.6" cy="60.6" r="1.5" opacity="0.6"/>
<circle cx="559.5" cy="72.6" r="1.2" opacity="0.9"/>
<circle cx="572.1" cy="77.8" r="1.4" opacity="0.7"/>
<circle cx="560.8" cy="65.9" r="1.7" opacity="1"/>
<circle cx="567" cy="67.5" r="1.5" opacity="0.7"/>
<circle cx="572.8" cy="66.6" r="1.3" opacity="0.5"/>
<circle cx="559.4" cy="76.4" r="1.2" opacity="0.5"/>
<circle cx="564.5" cy="72.9" r="1.1" opacity="0.7"/>
<circle cx="564.5" cy="78.1" r="1.4" opacity="0.7"/>
<circle cx="568.1" cy="71.8" r="1.4" opacity="1"/>
<circle cx="567.7" cy="76.3" r="1.2" opacity="0.9"/>
<circle cx="555.3" cy="77.4" r="1" opacity="0.5"/>
<circle cx="570.7" cy="75" r="1.3" opacity="0.7"/>
<circle cx="573.4" cy="67.3" r="1.4" opacity="1"/>
<circle cx="559.2" cy="69.4" r="1.6" opacity="0.7"/>
<circle cx="584.4" cy="66.6" r="1.4" opacity="0.8"/>
<circle cx="578.4" cy="70" r="1.3" opacity="0.8"/>
<circle cx="568.5" cy="83" r="1.3" opacity="0.6"/>
<circle cx="569.7" cy="67.9" r="1.2" opacity="0.7"/>
<circle cx="570.1" cy="69.8" r="1.2" opacity="0.9"/>
<circle cx="574.1" cy="70.9" r="1.6" opacity="0.9"/>
<circle cx="566.8" cy="69" r="1.6" opacity="0.7"/>
<circle cx="567.7" cy="65.5" r="1.6" opacity="0.7"/>
<circle cx="568" cy="74.3" r="1.4" opacity="0.5"/>
<circle cx="577.6" cy="76.3" r="1.4" opacity="1"/>
<circle cx="573.4" cy="73.8" r="1.3" opacity="0.5"/>
<circle cx="570.5" cy="82.4" r="1.5" opacity="0.8"/>
<circle cx="554.1" cy="70.6" r="1.7" opacity="0.8"/>
<circle cx="581.1" cy="68.5" r="1.1" opacity="0.6"/>
<circle cx="574.1" cy="73.3" r="1.4" opacity="0.7"/>
<circle cx="563.6" cy="73.7" r="1.5" opacity="0.8"/>
<circle cx="566.2" cy="81.8" r="1.7" opacity="1"/>
<circle cx="569.4" cy="70.3" r="1.3" opacity="0.7"/>
<circle cx="570" cy="79.3" r="1.6" opacity="0.5"/>
<circle cx="549.4" cy="79.2" r="1.6" opacity="0.7"/>
<circle cx="574.2" cy="72" r="1.4" opacity="0.9"/>
<circle cx="570.7" cy="74" r="1.7" opacity="0.5"/>
<circle cx="564.1" cy="71.3" r="1.5" opacity="0.7"/>
<circle cx="570.5" cy="68.2" r="1.6" opacity="0.6"/>
<circle cx="569.9" cy="70.9" r="1.1" opacity="0.7"/>
<circle cx="572.7" cy="68" r="1.5" opacity="0.5"/>
<circle cx="558.5" cy="74.9" r="1.1" opacity="0.8"/>
<circle cx="562" cy="75.5" r="1.6" opacity="0.9"/>
<circle cx="569.9" cy="72" r="1.1" opacity="0.6"/>
<circle cx="551.4" cy="67.8" r="1.7" opacity="1"/>
<circle cx="578" cy="73.4" r="1.6" opacity="0.7"/>
<circle cx="575.9" cy="67.2" r="1.1" opacity="0.6"/>
<circle cx="575.3" cy="73.2" r="1.5" opacity="1"/>
<circle cx="567.9" cy="71.2" r="1.7" opacity="0.6"/>
<circle cx="570" cy="81.3" r="1.1" opacity="0.9"/>
<circle cx="572.1" cy="64.9" r="1.4" opacity="0.5"/>
<circle cx="558" cy="71" r="1.6" opacity="0.8"/>
<circle cx="571.5" cy="72.1" r="1.5" opacity="0.5"/>
<circle cx="571.9" cy="71.9" r="1.6" opacity="0.8"/>
<circle cx="560.6" cy="85.7" r="1.4" opacity="0.6"/>
<circle cx="553.4" cy="73.6" r="1.3" opacity="0.7"/>
<circle cx="546.7" cy="73.4" r="1.5" opacity="0.6"/>
<circle cx="561" cy="72" r="1.4" opacity="0.9"/>
<circle cx="575.1" cy="68.6" r="1.2" opacity="0.8"/>
<circle cx="568" cy="65.5" r="1.5" opacity="0.6"/>
<circle cx="569.2" cy="77.2" r="1.4" opacity="0.6"/>
<circle cx="565.2" cy="65.9" r="1.3" opacity="0.6"/>
<circle cx="570.5" cy="59.7" r="1.7" opacity="0.6"/>
<circle cx="576.7" cy="70.4" r="1" opacity="1"/>
<circle cx="562.6" cy="69.1" r="1.3" opacity="0.9"/>
<circle cx="572.1" cy="73.7" r="1.6" opacity="0.9"/>
<circle cx="563.8" cy="71.7" r="1.2" opacity="0.6"/>
<circle cx="576.9" cy="68.5" r="1.4" opacity="1"/>
<circle cx="551.4" cy="74.7" r="1.3" opacity="0.8"/>
<circle cx="567.9" cy="77.3" r="1.7" opacity="0.7"/>
<circle cx="573.2" cy="68.8" r="1.2" opacity="0.8"/>
<circle cx="559.3" cy="74.8" r="1.7" opacity="0.9"/>
<circle cx="568.7" cy="71.5" r="1.5" opacity="0.8"/>
<circle cx="560.4" cy="69.3" r="1.1" opacity="0.7"/>
<circle cx="569.1" cy="64.1" r="1.1" opacity="0.5"/>
<circle cx="572.3" cy="65.2" r="1.1" opacity="0.9"/>
<circle cx="576.8" cy="61.9" r="1.5" opacity="0.9"/>
<circle cx="574.5" cy="71.3" r="1.6" opacity="0.7"/>
<circle cx="578.5" cy="74.9" r="1.5" opacity="0.5"/>
<circle cx="575.8" cy="70.2" r="1.7" opacity="0.8"/>
<circle cx="568.5" cy="69" r="1.4" opacity="0.6"/>
<circle cx="566.2" cy="74.7" r="1.3" opacity="0.5"/>
<circle cx="559.1" cy="68.6" r="1.6" opacity="0.9"/>
<circle cx="580.8" cy="70.2" r="1.4" opacity="1"/>
<circle cx="564.3" cy="73" r="1.5" opacity="0.6"/>
<circle cx="574.9" cy="67.2" r="1.6" opacity="0.7"/>
<circle cx="565.2" cy="79.6" r="1.5" opacity="0.7"/>
<circle cx="568.1" cy="76.8" r="1.5" opacity="0.6"/>
<circle cx="573.2" cy="74" r="1.5" opacity="0.5"/>
<circle cx="570.2" cy="84.7" r="1.2" opacity="0.9"/>
<circle cx="566.9" cy="73.9" r="1.4" opacity="1"/>
<circle cx="566.7" cy="70" r="1.5" opacity="0.8"/>
<circle cx="557.6" cy="76.9" r="1.4" opacity="0.6"/>
<circle cx="564.8" cy="69.9" r="1.2" opacity="1"/>
<circle cx="558.7" cy="72.7" r="1.5" opacity="0.7"/>
<circle cx="562.5" cy="78.4" r="1" opacity="0.7"/>
<circle cx="589.9" cy="65.4" r="1.7" opacity="0.8"/>
<circle cx="577.6" cy="75.8" r="1.2" opacity="0.9"/>
<circle cx="559.4" cy="69" r="1.5" opacity="0.6"/>
<circle cx="568.9" cy="64.7" r="1.5" opacity="1"/>
<circle cx="569" cy="76.4" r="1.3" opacity="0.5"/>
<circle cx="571.9" cy="63.4" r="1.4" opacity="0.8"/>
<circle cx="568.3" cy="69.5" r="1.3" opacity="0.9"/>
<circle cx="558.8" cy="74" r="1.2" opacity="0.6"/>
<circle cx="562.4" cy="69.3" r="1.7" opacity="1"/>
<circle cx="571.9" cy="68.5" r="1.4" opacity="0.5"/>
<circle cx="566" cy="73.7" r="1.4" opacity="1"/>
<circle cx="565.5" cy="67" r="1.2" opacity="1"/>
<circle cx="580.4" cy="68.8" r="1.6" opacity="0.5"/>
<circle cx="575.2" cy="65.4" r="1.3" opacity="0.7"/>
<circle cx="559" cy="71" r="1.6" opacity="1"/>
<circle cx="566.8" cy="72.3" r="1.6" opacity="0.8"/>
<circle cx="564.8" cy="70.8" r="1.1" opacity="1"/>
<circle cx="563.9" cy="77.8" r="1.7" opacity="0.6"/>
<circle cx="564.8" cy="71.1" r="1.4" opacity="0.9"/>
<circle cx="576.1" cy="75.2" r="1.7" opacity="0.9"/>
<circle cx="566" cy="59" r="1.5" opacity="0.8"/>
<circle cx="568.9" cy="61.7" r="1.5" opacity="0.9"/>
<circle cx="571.3" cy="74.1" r="1.3" opacity="1"/>
<circle cx="566.3" cy="67.4" r="1.7" opacity="0.5"/>
<circle cx="573.2" cy="70.6" r="1.1" opacity="1"/>
<circle cx="564.5" cy="77" r="1.6" opacity="0.8"/>
<circle cx="560.4" cy="70.3" r="1.3" opacity="1"/>
<circle cx="568.1" cy="77.7" r="1.4" opacity="0.5"/>
<circle cx="573.8" cy="73.7" r="1.6" opacity="0.7"/>
<circle cx="583.2" cy="68.7" r="1.1" opacity="1"/>
<circle cx="577.1" cy="69.1" r="1.1" opacity="0.6"/>
<circle cx="558.9" cy="79.8" r="1.3" opacity="0.7"/>
<circle cx="561.9" cy="77.8" r="1.2" opacity="1"/>
<circle cx="569.3" cy="73.2" r="1.4" opacity="0.7"/>
<circle cx="566" cy="70.5" r="1.5" opacity="0.7"/>
<circle cx="571.2" cy="67.5" r="1.3" opacity="0.6"/>
<circle cx="561.4" cy="73.3" r="1.5" opacity="0.7"/>
<circle cx="563.8" cy="68.6" r="1.3" opacity="0.8"/>
<circle cx="562.1" cy="66" r="1.3" opacity="0.5"/>
<circle cx="570.6" cy="71.9" r="1.2" opacity="0.6"/>
<circle cx="562.1" cy="69.5" r="1.7" opacity="0.6"/>
<circle cx="568.4" cy="74.4" r="1.1" opacity="0.9"/>
<circle cx="561.8" cy="72" r="1.6" opacity="0.9"/>
<circle cx="560.1" cy="78.1" r="1.5" opacity="0.7"/>
<circle cx="573.4" cy="71.5" r="1.7" opacity="0.7"/>
<circle cx="564.4" cy="70.9" r="1.6" opacity="1"/>
<circle cx="564" cy="76.8" r="1.4" opacity="0.6"/>
<circle cx="568.9" cy="73.5" r="1.5" opacity="0.8"/>
<circle cx="581.8" cy="60.8" r="1.6" opacity="1"/>
<circle cx="567.3" cy="70.4" r="1.1" opacity="1"/>
<circle cx="571.3" cy="64.1" r="1.5" opacity="0.7"/>
<circle cx="564.2" cy="74.3" r="1.4" opacity="0.6"/>
<circle cx="579.6" cy="73.5" r="1.4" opacity="1"/>
<circle cx="567.3" cy="78.4" r="1.2" opacity="0.9"/>
<circle cx="572.4" cy="76.8" r="1.4" opacity="0.6"/>
<circle cx="574.9" cy="71" r="1.4" opacity="0.9"/>
<circle cx="569.5" cy="73.8" r="1.2" opacity="0.9"/>
<circle cx="571" cy="77.5" r="1.1" opacity="0.5"/>
<circle cx="562.6" cy="67.4" r="1.1" opacity="0.7"/>
<circle cx="572.3" cy="67.1" r="1.4" opacity="0.7"/>
<circle cx="565" cy="72.5" r="1.6" opacity="0.8"/>
<circle cx="565.3" cy="76.1" r="1.2" opacity="1"/>
<circle cx="568.7" cy="66.2" r="1.4" opacity="0.8"/>
<circle cx="568" cy="72.5" r="1.5" opacity="0.5"/>
<circle cx="565.7" cy="71.8" r="1" opacity="0.5"/>
<circle cx="559.4" cy="68.9" r="1.7" opacity="0.8"/>
<circle cx="565.9" cy="72" r="1.7" opacity="0.7"/>
<circle cx="567.7" cy="70" r="1.6" opacity="0.7"/>
<circle cx="570.5" cy="75.5" r="1.1" opacity="0.8"/>
<circle cx="572.2" cy="77.6" r="1.1" opacity="0.9"/>
<circle cx="557" cy="70.4" r="1.7" opacity="0.6"/>
<circle cx="562.3" cy="68.7" r="1.6" opacity="0.9"/>
<circle cx="564.9" cy="65.1" r="1.2" opacity="1"/>
<circle cx="581.9" cy="62" r="1.3" opacity="0.9"/>
<circle cx="557.8" cy="66.3" r="1.6" opacity="0.7"/>
<circle cx="560" cy="80.9" r="1.5" opacity="0.8"/>
<circle cx="567.8" cy="70.2" r="1" opacity="0.7"/>
<circle cx="579.7" cy="71.8" r="1.1" opacity="1"/>
<circle cx="568.7" cy="73.7" r="1.5" opacity="0.9"/>
<circle cx="561" cy="78.4" r="1.4" opacity="1"/>
<circle cx="558.6" cy="75.2" r="1.3" opacity="0.7"/>
<circle cx="564.8" cy="70.1" r="1.5" opacity="1"/>
<circle cx="564.9" cy="65.6" r="1.3" opacity="0.5"/>
<circle cx="575.3" cy="71.5" r="1.6" opacity="1"/>
<circle cx="574.7" cy="76.4" r="1.6" opacity="0.7"/>
<circle cx="568.6" cy="68.1" r="1.3" opacity="0.8"/>
<circle cx="563.6" cy="67.2" r="1.2" opacity="1"/>
<circle cx="563" cy="77.1" r="1.2" opacity="0.7"/>
<circle cx="563.3" cy="68.2" r="1.5" opacity="0.7"/>
<circle cx="584.3" cy="64.6" r="1.2" opacity="0.8"/>
<circle cx="571" cy="68.8" r="1.1" opacity="0.6"/>
<circle cx="577.8" cy="75.4" r="1.4" opacity="0.5"/>
<circle cx="568.4" cy="77.5" r="1.1" opacity="0.6"/>
<circle cx="571.6" cy="66" r="1.2" opacity="0.8"/>
<circle cx="574.7" cy="72.3" r="1.5" opacity="0.5"/>
<circle cx="561" cy="73" r="1.5" opacity="0.8"/>
<circle cx="573" cy="64.7" r="1.2" opacity="0.6"/>
<circle cx="559.8" cy="65.2" r="1.1" opacity="0.7"/>
<circle cx="567.8" cy="77.3" r="1.6" opacity="0.8"/>
<circle cx="563" cy="64" r="1.2" opacity="0.8"/>
<circle cx="563.4" cy="77.7" r="1.4" opacity="0.9"/>
<circle cx="576.7" cy="76.3" r="1.1" opacity="0.6"/>
<circle cx="573.2" cy="55.6" r="1.3" opacity="1"/>
<circle cx="584.3" cy="66.7" r="1.2" opacity="0.5"/>
<circle cx="566" cy="68.8" r="1.5" opacity="0.5"/>
<circle cx="572.8" cy="72.5" r="1.1" opacity="0.7"/>
<circle cx="563.7" cy="80.6" r="1.4" opacity="1"/>
<circle cx="568.1" cy="68.2" r="1.7" opacity="1"/>
<circle cx="558.5" cy="72.8" r="1.1" opacity="0.6"/>
<circle cx="569.2" cy="74.2" r="1.4" opacity="0.6"/>
<circle cx="565.2" cy="65.2" r="1.6" opacity="0.5"/>
<circle cx="569.4" cy="65" r="1.5" opacity="0.6"/>
<circle cx="562.7" cy="68.3" r="1.5" opacity="0.8"/>
<circle cx="571.9" cy="72.9" r="1.5" opacity="0.5"/>
<circle cx="559.4" cy="70" r="1.5" opacity="0.6"/>
<circle cx="559.9" cy="75.8" r="1.5" opacity="0.5"/>
<circle cx="561.7" cy="73.8" r="1.4" opacity="0.6"/>
<circle cx="569.8" cy="74.2" r="1.6" opacity="0.7"/>
<circle cx="572.5" cy="62.8" r="1.2" opacity="0.8"/>
<circle cx="582.6" cy="65" r="1.5" opacity="0.5"/>
<circle cx="559" cy="74.5" r="1.5" opacity="0.6"/>
<circle cx="573.2" cy="64.5" r="1.1" opacity="0.9"/>
<circle cx="570" cy="67" r="1.5" opacity="1"/>
<circle cx="568.3" cy="69.5" r="1.6" opacity="0.6"/>
<circle cx="567.1" cy="63.5" r="1.3" opacity="1"/>
<circle cx="567.5" cy="54.5" r="1.7" opacity="0.8"/>
<circle cx="562.9" cy="65.3" r="1.3" opacity="0.7"/>
<circle cx="562.3" cy="73.6" r="1.2" opacity="1"/>
<circle cx="570.1" cy="63.1" r="1.5" opacity="0.8"/>
<circle cx="556.8" cy="72.7" r="1" opacity="0.7"/>
<circle cx="571.1" cy="68.9" r="1.3" opacity="0.5"/>
<circle cx="570.5" cy="80.3" r="1.1" opacity="0.9"/>
<circle cx="566.9" cy="61" r="1.2" opacity="1"/>
<circle cx="539.3" cy="88" r="1.1" opacity="0.4"/>
<circle cx="538.9" cy="78.5" r="0.7" opacity="0.3"/>
<circle cx="555.9" cy="81.2" r="0.8" opacity="0.5"/>
<circle cx="537.9" cy="77.9" r="1" opacity="0.3"/>
<circle cx="538.9" cy="81.4" r="1.1" opacity="0.5"/>
<circle cx="530" cy="81.2" r="0.8" opacity="0.3"/>
<circle cx="541.7" cy="91.9" r="0.9" opacity="0.3"/>
<circle cx="546.2" cy="86.7" r="0.7" opacity="0.3"/>
<circle cx="538.9" cy="83.3" r="1.1" opacity="0.3"/>
<circle cx="535.7" cy="69.7" r="0.8" opacity="0.4"/>
<circle cx="551.2" cy="74.3" r="0.9" opacity="0.6"/>
<circle cx="549.3" cy="95.7" r="0.8" opacity="0.4"/>
<circle cx="542.4" cy="90.5" r="1.1" opacity="0.5"/>
<circle cx="560.1" cy="91.7" r="1" opacity="0.4"/>
<circle cx="542.4" cy="76.9" r="1" opacity="0.5"/>
<circle cx="538.5" cy="70.5" r="0.7" opacity="0.4"/>
<circle cx="545.4" cy="89" r="0.9" opacity="0.4"/>
<circle cx="531.8" cy="83.6" r="1.1" opacity="0.3"/>
<circle cx="543.3" cy="84.4" r="0.7" opacity="0.5"/>
<circle cx="544.1" cy="77" r="0.9" opacity="0.5"/>
<circle cx="547.3" cy="60.6" r="1.1" opacity="0.3"/>
<circle cx="547.7" cy="79.3" r="0.9" opacity="0.2"/>
<circle cx="545.5" cy="87.1" r="1" opacity="0.3"/>
<circle cx="548.4" cy="81.4" r="0.7" opacity="0.3"/>
<circle cx="555.5" cy="81" r="1.1" opacity="0.3"/>
<circle cx="563.7" cy="112.3" r="1.1" opacity="0.4"/>
<circle cx="563" cy="123" r="0.7" opacity="0.6"/>
<circle cx="570.9" cy="138.8" r="1.1" opacity="0.3"/>
<circle cx="574.6" cy="127.4" r="0.8" opacity="0.5"/>
<circle cx="558" cy="122.9" r="1" opacity="0.3"/>
<circle cx="568.4" cy="116.4" r="1.1" opacity="0.5"/>
<circle cx="580.8" cy="124.9" r="1.1" opacity="0.5"/>
<circle cx="552.5" cy="125" r="1.1" opacity="0.5"/>
<circle cx="563.4" cy="134.3" r="0.8" opacity="0.3"/>
<circle cx="544.6" cy="130.5" r="1.1" opacity="0.3"/>
<circle cx="550.9" cy="129.7" r="1" opacity="0.4"/>
<circle cx="549.1" cy="130.2" r="1.2" opacity="0.5"/>
<circle cx="561.7" cy="115.5" r="0.8" opacity="0.4"/>
<circle cx="561.3" cy="132.7" r="1" opacity="0.4"/>
<circle cx="576.3" cy="120.7" r="0.9" opacity="0.5"/>
<circle cx="566.3" cy="122.6" r="1" opacity="0.6"/>
<circle cx="553.3" cy="139.8" r="1.1" opacity="0.4"/>
<circle cx="575.3" cy="131.7" r="0.9" opacity="0.4"/>
<circle cx="549.8" cy="133.2" r="1.2" opacity="0.6"/>
<circle cx="561.5" cy="121.8" r="0.9" opacity="0.3"/>
<circle cx="566.8" cy="130.7" r="0.8" opacity="0.4"/>
<circle cx="573.4" cy="129.8" r="0.9" opacity="0.4"/>
<circle cx="557.5" cy="121.8" r="0.7" opacity="0.6"/>
<circle cx="558" cy="112.6" r="0.9" opacity="0.4"/>
<circle cx="559.6" cy="123.1" r="1.2" opacity="0.5"/>
<circle cx="559.5" cy="126.3" r="0.8" opacity="0.4"/>
<circle cx="567" cy="123.8" r="1" opacity="0.3"/>
<circle cx="575.7" cy="119" r="1.1" opacity="0.5"/>
<circle cx="566.7" cy="129.3" r="0.7" opacity="0.5"/>
<circle cx="568" cy="126.2" r="0.8" opacity="0.6"/>
<circle cx="562.3" cy="120.2" r="1.2" opacity="0.3"/>
<circle cx="569.5" cy="128.9" r="1.1" opacity="0.3"/>
<circle cx="562.2" cy="117.2" r="1.1" opacity="0.4"/>
<circle cx="566.5" cy="125.4" r="1.1" opacity="0.5"/>
<circle cx="561.3" cy="121.5" r="0.8" opacity="0.3"/>
<circle cx="567.4" cy="115" r="0.8" opacity="0.5"/>
<circle cx="572.4" cy="124.3" r="0.8" opacity="0.5"/>
<circle cx="556.4" cy="117.3" r="0.8" opacity="0.3"/>
<circle cx="551.2" cy="121.4" r="0.7" opacity="0.6"/>
<circle cx="567.6" cy="119.9" r="1" opacity="0.5"/>
<circle cx="572" cy="117.7" r="1" opacity="0.5"/>
<circle cx="560.2" cy="126.9" r="1" opacity="0.4"/>
<circle cx="560" cy="133.1" r="0.8" opacity="0.4"/>
<circle cx="557.2" cy="112.7" r="0.9" opacity="0.6"/>
<circle cx="571.7" cy="128.8" r="1.1" opacity="0.6"/>
<circle cx="559.4" cy="130" r="1.2" opacity="0.5"/>
<circle cx="556.1" cy="122.8" r="0.8" opacity="0.5"/>
<circle cx="550.3" cy="139" r="1.1" opacity="0.5"/>
<circle cx="547.7" cy="126.1" r="0.8" opacity="0.6"/>
<circle cx="550.7" cy="125.4" r="0.8" opacity="0.3"/>
<circle cx="554.9" cy="117.4" r="1.1" opacity="0.4"/>
<circle cx="548.1" cy="132.2" r="1.1" opacity="0.6"/>
<circle cx="577.1" cy="127.3" r="0.7" opacity="0.5"/>
<circle cx="558.9" cy="126.6" r="0.9" opacity="0.5"/>
<circle cx="564" cy="123.2" r="1" opacity="0.6"/>
<circle cx="579.2" cy="130.2" r="1.2" opacity="0.4"/>
<circle cx="564.9" cy="129" r="0.8" opacity="0.4"/>
<circle cx="551.7" cy="113.3" r="1" opacity="0.6"/>
<circle cx="552.7" cy="134.3" r="0.7" opacity="0.4"/>
<circle cx="567.1" cy="124.8" r="1.1" opacity="0.3"/>
<circle cx="488.7" cy="119.4" r="1.1" opacity="0.4"/>
<circle cx="502.4" cy="116.5" r="1" opacity="0.4"/>
<circle cx="483" cy="117.6" r="1.4" opacity="0.4"/>
<circle cx="493.2" cy="116.4" r="1.1" opacity="0.8"/>
<circle cx="492.1" cy="114.3" r="1.1" opacity="0.5"/>
<circle cx="505.4" cy="112.6" r="1.1" opacity="0.5"/>
<circle cx="481.6" cy="118.8" r="1" opacity="0.6"/>
<circle cx="499.8" cy="115.8" r="1.4" opacity="0.6"/>
<circle cx="476.5" cy="118.2" r="1.3" opacity="0.7"/>
<circle cx="481.6" cy="120.4" r="0.9" opacity="0.7"/>
<circle cx="497.5" cy="114.8" r="0.9" opacity="0.5"/>
<circle cx="491.3" cy="115.2" r="1.3" opacity="0.4"/>
<circle cx="512.1" cy="110" r="1.2" opacity="0.8"/>
<circle cx="500.5" cy="113" r="1.3" opacity="0.4"/>
<circle cx="493.4" cy="111.4" r="1.2" opacity="0.4"/>
<circle cx="501.3" cy="115.7" r="1.1" opacity="0.7"/>
<circle cx="497.1" cy="118" r="1.4" opacity="0.5"/>
<circle cx="500.2" cy="107.8" r="1.2" opacity="0.6"/>
<circle cx="483" cy="118.7" r="0.9" opacity="0.4"/>
<circle cx="490.8" cy="117.5" r="1.3" opacity="0.5"/>
<circle cx="499.3" cy="111.8" r="1.3" opacity="0.8"/>
<circle cx="488.7" cy="113.3" r="0.9" opacity="0.6"/>
<circle cx="486" cy="121.5" r="0.8" opacity="0.7"/>
<circle cx="487" cy="119" r="1.1" opacity="0.8"/>
<circle cx="500" cy="114.1" r="1.3" opacity="0.8"/>
<circle cx="480" cy="117.1" r="0.9" opacity="0.7"/>
<circle cx="476.4" cy="118.8" r="1.3" opacity="0.7"/>
<circle cx="487.2" cy="113.2" r="0.9" opacity="0.6"/>
<circle cx="496.9" cy="115.4" r="1.4" opacity="0.5"/>
<circle cx="498.3" cy="116.7" r="0.8" opacity="0.7"/>
<circle cx="527.6" cy="144.1" r="0.6" fill="#fff" opacity="0.2"/>
<circle cx="522.9" cy="126.8" r="0.8" fill="#fff" opacity="0.1"/>
<circle cx="503" cy="128.3" r="0.8" fill="#fff" opacity="0.3"/>
<circle cx="502" cy="140.9" r="1" fill="#fff" opacity="0.3"/>
<circle cx="515.1" cy="127.3" r="1" fill="#fff" opacity="0.1"/>
<circle cx="515" cy="125.5" r="1.1" fill="#fff" opacity="0.3"/>
<circle cx="507.7" cy="127.2" r="0.7" fill="#fff" opacity="0.3"/>
<circle cx="517.4" cy="114.3" r="1" fill="#fff" opacity="0.1"/>
<circle cx="489.2" cy="126.5" r="1.1" fill="#fff" opacity="0.1"/>
<circle cx="495.6" cy="138.8" r="0.8" fill="#fff" opacity="0.3"/>
<circle cx="499.4" cy="141" r="0.7" fill="#fff" opacity="0.2"/>
<circle cx="542.2" cy="109.7" r="0.8" fill="#fff" opacity="0.2"/>
<circle cx="536.1" cy="130.3" r="0.7" fill="#fff" opacity="0.2"/>
<circle cx="478.3" cy="144.1" r="1" fill="#fff" opacity="0.2"/>
<circle cx="489.1" cy="132.4" r="0.9" fill="#fff" opacity="0.2"/>
<circle cx="539.5" cy="128.5" r="0.8" fill="#fff" opacity="0.2"/>
<circle cx="554.6" cy="109.7" r="0.8" fill="#fff" opacity="0.1"/>
<circle cx="537.1" cy="124.7" r="1" fill="#fff" opacity="0.2"/>
<circle cx="524.1" cy="146" r="1" fill="#fff" opacity="0.2"/>
<circle cx="481.5" cy="143.9" r="0.6" fill="#fff" opacity="0.3"/>
<circle cx="537" cy="131.1" r="0.7" fill="#fff" opacity="0.1"/>
<circle cx="536.8" cy="125.4" r="0.7" fill="#fff" opacity="0.2"/>
<circle cx="510.3" cy="125.4" r="0.8" fill="#fff" opacity="0.2"/>
<circle cx="498.3" cy="135.7" r="0.7" fill="#fff" opacity="0.1"/>
<circle cx="501.1" cy="146.8" r="1" fill="#fff" opacity="0.2"/>
<circle cx="484.7" cy="143.5" r="0.8" fill="#fff" opacity="0.2"/>
<circle cx="505.2" cy="128.5" r="0.9" fill="#fff" opacity="0.2"/>
<circle cx="477.8" cy="132.5" r="1" fill="#fff" opacity="0.2"/>
<circle cx="506.8" cy="141.4" r="0.6" fill="#fff" opacity="0.1"/>
<circle cx="517.8" cy="116.6" r="0.9" fill="#fff" opacity="0.1"/>
<circle cx="475.7" cy="145.5" r="1" fill="#fff" opacity="0.1"/>
<circle cx="529.2" cy="127.7" r="0.9" fill="#fff" opacity="0.3"/>
<circle cx="528" cy="144.7" r="0.9" fill="#fff" opacity="0.3"/>
<circle cx="482.7" cy="140" r="0.8" fill="#fff" opacity="0.3"/>
<circle cx="537.8" cy="123.1" r="0.9" fill="#fff" opacity="0.3"/>
<circle cx="477.6" cy="128.9" r="0.9" fill="#fff" opacity="0.2"/>
<circle cx="502.1" cy="131.5" r="1" fill="#fff" opacity="0.2"/>
<circle cx="504.5" cy="128.4" r="0.8" fill="#fff" opacity="0.3"/>
<circle cx="495.9" cy="118.9" r="0.8" fill="#fff" opacity="0.2"/>
<circle cx="485.9" cy="146.2" r="0.9" fill="#fff" opacity="0.3"/>
<circle cx="505.9" cy="130.2" r="0.6" fill="#fff" opacity="0.3"/>
<circle cx="523.3" cy="125.7" r="0.6" fill="#fff" opacity="0.2"/>
<circle cx="501.7" cy="133.2" r="0.7" fill="#fff" opacity="0.2"/>
<circle cx="496" cy="129.9" r="0.9" fill="#fff" opacity="0.2"/>
<circle cx="479.8" cy="133.5" r="0.8" fill="#fff" opacity="0.3"/>
</g></g>
<rect x="472.6" y="40.4" width="144.6" height="106.6" fill="none" stroke="#141414" stroke-width="1.9"/>
<line x1="528.6" y1="40.4" x2="528.6" y2="147" stroke="#141414" stroke-width="1.8"/>
<line x1="472.6" y1="104.5" x2="617.2" y2="104.5" stroke="#141414" stroke-width="1.8"/>
<line x1="467.1" y1="41.2" x2="472.6" y2="41.2" stroke="#141414" stroke-width="1.8"/>
<line x1="467.1" y1="147" x2="472.6" y2="147" stroke="#141414" stroke-width="1.9"/>
<line x1="472.4" y1="147" x2="472.4" y2="152" stroke="#141414" stroke-width="1.8"/>
<text x="463.9" y="167.2" font-size="14.8" fill="#1a1a1a" textLength="11.6" lengthAdjust="spacingAndGlyphs" stroke="#1a1a1a" stroke-width="0.45">10</text>
<text x="476.3" y="163" font-size="10.8" fill="#1a1a1a" textLength="4.8" lengthAdjust="spacingAndGlyphs" stroke="#1a1a1a" stroke-width="0.45">0</text>
<line x1="508.6" y1="147" x2="508.6" y2="152" stroke="#141414" stroke-width="1.8"/>
<text x="500.1" y="167.2" font-size="14.8" fill="#1a1a1a" textLength="11.6" lengthAdjust="spacingAndGlyphs" stroke="#1a1a1a" stroke-width="0.45">10</text>
<text x="512.5" y="163" font-size="10.8" fill="#1a1a1a" textLength="4.8" lengthAdjust="spacingAndGlyphs" stroke="#1a1a1a" stroke-width="0.45">1</text>
<line x1="544.7" y1="147" x2="544.7" y2="152" stroke="#141414" stroke-width="1.8"/>
<text x="536.2" y="167.2" font-size="14.8" fill="#1a1a1a" textLength="11.6" lengthAdjust="spacingAndGlyphs" stroke="#1a1a1a" stroke-width="0.45">10</text>
<text x="548.6" y="163" font-size="10.8" fill="#1a1a1a" textLength="4.8" lengthAdjust="spacingAndGlyphs" stroke="#1a1a1a" stroke-width="0.45">2</text>
<line x1="580.9" y1="147" x2="580.9" y2="152" stroke="#141414" stroke-width="1.8"/>
<text x="572.4" y="167.2" font-size="14.8" fill="#1a1a1a" textLength="11.6" lengthAdjust="spacingAndGlyphs" stroke="#1a1a1a" stroke-width="0.45">10</text>
<text x="584.8" y="163" font-size="10.8" fill="#1a1a1a" textLength="4.8" lengthAdjust="spacingAndGlyphs" stroke="#1a1a1a" stroke-width="0.45">3</text>
<line x1="617" y1="147" x2="617" y2="152" stroke="#141414" stroke-width="1.8"/>
<text x="608.5" y="167.2" font-size="14.8" fill="#1a1a1a" textLength="11.6" lengthAdjust="spacingAndGlyphs" stroke="#1a1a1a" stroke-width="0.45">10</text>
<text x="620.9" y="163" font-size="10.8" fill="#1a1a1a" textLength="4.8" lengthAdjust="spacingAndGlyphs" stroke="#1a1a1a" stroke-width="0.45">4</text>
<text x="445" y="48.4" font-size="14.8" fill="#1a1a1a" textLength="11.6" lengthAdjust="spacingAndGlyphs" stroke="#1a1a1a" stroke-width="0.45">10</text>
<text x="457.4" y="43.2" font-size="10.8" fill="#1a1a1a" textLength="4.8" lengthAdjust="spacingAndGlyphs" stroke="#1a1a1a" stroke-width="0.45">4</text>
<text x="445" y="149.8" font-size="14.8" fill="#1a1a1a" textLength="11.6" lengthAdjust="spacingAndGlyphs" stroke="#1a1a1a" stroke-width="0.45">10</text>
<text x="457.4" y="145" font-size="10.8" fill="#1a1a1a" textLength="4.8" lengthAdjust="spacingAndGlyphs" stroke="#1a1a1a" stroke-width="0.45">0</text>
<clipPath id="cpA3"><rect x="658.7" y="40.4" width="144.9" height="106.6"/></clipPath>
<g clip-path="url(#cpA3)"><g filter="url(#bs)" fill="#3b5cc6">
<polygon points="658.7,137.4 666.3,132.8 674.3,128.3 682.3,123.2 690.3,119.1 699.4,115.7 708.6,112.3 715.4,108.8 722.3,106.6 732.6,106.6 729.1,112.3 723.4,119.1 717.7,123.7 708.6,130.5 700.6,135.6 696,139.7 690.3,147 658.7,147" stroke="#3b5cc6" stroke-width="1.2" stroke-linejoin="round"/>
<polygon points="716.6,86 724.6,84.4 733.7,83.7 742.8,84.4 744,88.3 736,90.6 726.8,91.2 718.8,90.6" stroke="#3b5cc6" stroke-width="1.2" stroke-linejoin="round"/>
<circle cx="664.2" cy="135.3" r="1" opacity="0.8"/>
<circle cx="659.5" cy="136.1" r="1.2" opacity="0.7"/>
<circle cx="661.8" cy="137.8" r="1.3" opacity="0.5"/>
<circle cx="661.8" cy="135.7" r="1" opacity="0.8"/>
<circle cx="665.2" cy="134.4" r="0.9" opacity="0.6"/>
<circle cx="659" cy="137" r="1.3" opacity="0.9"/>
<circle cx="667.5" cy="132.6" r="1" opacity="0.6"/>
<circle cx="668.3" cy="132.5" r="1.6" opacity="1"/>
<circle cx="669.2" cy="130.3" r="1.3" opacity="0.9"/>
<circle cx="673.9" cy="129.4" r="1.5" opacity="0.8"/>
<circle cx="674.1" cy="130.1" r="0.8" opacity="0.9"/>
<circle cx="672.6" cy="129.3" r="1.4" opacity="1"/>
<circle cx="678.4" cy="126.1" r="1.4" opacity="1"/>
<circle cx="678" cy="131" r="1.1" opacity="0.7"/>
<circle cx="676.1" cy="122.8" r="1.2" opacity="0.9"/>
<circle cx="675.3" cy="127.4" r="1.6" opacity="0.9"/>
<circle cx="681.3" cy="122" r="1.6" opacity="0.8"/>
<circle cx="679.1" cy="126.4" r="1.1" opacity="0.5"/>
<circle cx="689.1" cy="122.1" r="0.8" opacity="0.7"/>
<circle cx="687.6" cy="118.2" r="1.2" opacity="0.5"/>
<circle cx="689" cy="118.3" r="1.2" opacity="0.9"/>
<circle cx="684.7" cy="121.4" r="1.4" opacity="0.9"/>
<circle cx="685.2" cy="120.5" r="1.3" opacity="0.7"/>
<circle cx="691.7" cy="118.7" r="1.1" opacity="0.7"/>
<circle cx="694" cy="117.4" r="1.2" opacity="1"/>
<circle cx="692.2" cy="117.8" r="1.6" opacity="0.9"/>
<circle cx="696.9" cy="115.2" r="0.9" opacity="0.9"/>
<circle cx="698.1" cy="115.2" r="1.2" opacity="0.8"/>
<circle cx="692.1" cy="118" r="1.6" opacity="0.8"/>
<circle cx="699.9" cy="115.3" r="1.4" opacity="0.7"/>
<circle cx="693.7" cy="116.2" r="1" opacity="0.8"/>
<circle cx="703.1" cy="112.9" r="1.3" opacity="1"/>
<circle cx="704.9" cy="114.8" r="1.2" opacity="0.8"/>
<circle cx="708.1" cy="112" r="1.6" opacity="0.7"/>
<circle cx="706.7" cy="112.1" r="1.1" opacity="0.7"/>
<circle cx="700.3" cy="115.9" r="0.8" opacity="1"/>
<circle cx="704.8" cy="112.3" r="1" opacity="0.9"/>
<circle cx="706.2" cy="113.8" r="1" opacity="0.6"/>
<circle cx="713.5" cy="108.2" r="1.3" opacity="0.6"/>
<circle cx="707.5" cy="113.7" r="0.9" opacity="0.8"/>
<circle cx="710.6" cy="113.4" r="1.1" opacity="0.9"/>
<circle cx="713.4" cy="109.9" r="1.5" opacity="0.8"/>
<circle cx="711.9" cy="108.7" r="1.5" opacity="0.5"/>
<circle cx="721" cy="105.7" r="1.5" opacity="0.9"/>
<circle cx="721.4" cy="107.6" r="1.1" opacity="0.8"/>
<circle cx="722.9" cy="108.9" r="1" opacity="0.6"/>
<circle cx="716.5" cy="109.4" r="1.2" opacity="1"/>
<circle cx="716.3" cy="109.7" r="1.3" opacity="0.7"/>
<circle cx="729.4" cy="106.9" r="1.3" opacity="0.9"/>
<circle cx="725.6" cy="107.2" r="0.9" opacity="1"/>
<circle cx="730.1" cy="107.7" r="0.8" opacity="0.5"/>
<circle cx="728" cy="104.5" r="1.4" opacity="0.8"/>
<circle cx="726.3" cy="106.4" r="1.2" opacity="0.7"/>
<circle cx="730.4" cy="107.9" r="1.3" opacity="1"/>
<circle cx="724.5" cy="107.1" r="1" opacity="0.7"/>
<circle cx="730.4" cy="112.5" r="1" opacity="0.8"/>
<circle cx="731.1" cy="112" r="0.9" opacity="0.8"/>
<circle cx="730.4" cy="111.4" r="1" opacity="0.7"/>
<circle cx="731.2" cy="109.9" r="1.1" opacity="0.7"/>
<circle cx="728.6" cy="108.5" r="0.9" opacity="0.7"/>
<circle cx="728.7" cy="112.6" r="1.2" opacity="0.5"/>
<circle cx="722.7" cy="116.8" r="1.4" opacity="0.9"/>
<circle cx="727.6" cy="115.9" r="0.8" opacity="1"/>
<circle cx="723.7" cy="117.3" r="0.9" opacity="0.8"/>
<circle cx="725.2" cy="118" r="1.3" opacity="0.7"/>
<circle cx="721.3" cy="119.7" r="1.5" opacity="0.7"/>
<circle cx="719.1" cy="120.8" r="1.5" opacity="0.9"/>
<circle cx="718.7" cy="124.5" r="1.2" opacity="0.8"/>
<circle cx="723.9" cy="117.8" r="0.9" opacity="0.9"/>
<circle cx="720.1" cy="119.4" r="1.3" opacity="1"/>
<circle cx="722.7" cy="120.1" r="1.3" opacity="0.6"/>
<circle cx="718" cy="124.5" r="1.2" opacity="0.7"/>
<circle cx="715.1" cy="127" r="1" opacity="0.5"/>
<circle cx="718" cy="125.2" r="0.9" opacity="0.7"/>
<circle cx="715.9" cy="122" r="1.1" opacity="0.5"/>
<circle cx="710.6" cy="131.3" r="1.4" opacity="0.7"/>
<circle cx="710.9" cy="131.6" r="1.5" opacity="0.9"/>
<circle cx="708.4" cy="130.2" r="1.5" opacity="0.7"/>
<circle cx="716.3" cy="125.6" r="0.9" opacity="1"/>
<circle cx="703.9" cy="135.1" r="1.4" opacity="0.7"/>
<circle cx="707" cy="131.9" r="1.6" opacity="0.7"/>
<circle cx="700.7" cy="135.9" r="1.5" opacity="0.5"/>
<circle cx="701.3" cy="133.9" r="1.5" opacity="0.7"/>
<circle cx="697.6" cy="134.3" r="1.5" opacity="0.7"/>
<circle cx="702.8" cy="132" r="0.8" opacity="0.8"/>
<circle cx="697.3" cy="139.3" r="0.9" opacity="0.8"/>
<circle cx="700.9" cy="134.9" r="1.6" opacity="0.9"/>
<circle cx="699.2" cy="138.7" r="1.3" opacity="0.9"/>
<circle cx="696.3" cy="139.5" r="1.3" opacity="0.8"/>
<circle cx="693.1" cy="142.1" r="1.3" opacity="0.9"/>
<circle cx="697.2" cy="139.9" r="0.9" opacity="0.6"/>
<circle cx="692.8" cy="141.9" r="1.6" opacity="0.7"/>
<circle cx="690.6" cy="144.5" r="1.6" opacity="0.9"/>
<circle cx="691.3" cy="145.1" r="1" opacity="0.8"/>
<circle cx="685.8" cy="146" r="1.1" opacity="0.9"/>
<circle cx="663.7" cy="145.5" r="1.2" opacity="1"/>
<circle cx="656.6" cy="143.8" r="1.4" opacity="0.7"/>
<circle cx="685.6" cy="145.6" r="1" opacity="0.8"/>
<circle cx="676.2" cy="145.4" r="1" opacity="0.7"/>
<circle cx="687.7" cy="145.7" r="1" opacity="0.7"/>
<circle cx="656.1" cy="139.7" r="1.6" opacity="0.8"/>
<circle cx="659.1" cy="145.5" r="0.8" opacity="1"/>
<circle cx="657" cy="142.5" r="0.9" opacity="0.7"/>
<circle cx="658.6" cy="141.1" r="1.4" opacity="0.6"/>
<circle cx="659.5" cy="142.1" r="1.1" opacity="0.8"/>
<circle cx="726.6" cy="84.7" r="1.2" opacity="0.8"/>
<circle cx="724.8" cy="85.7" r="1.1" opacity="0.9"/>
<circle cx="721.6" cy="85.2" r="1.4" opacity="0.9"/>
<circle cx="721" cy="81.7" r="1" opacity="0.8"/>
<circle cx="722.7" cy="87.6" r="1.1" opacity="1"/>
<circle cx="724" cy="84.6" r="1.4" opacity="0.7"/>
<circle cx="726.6" cy="82.8" r="1.1" opacity="0.9"/>
<circle cx="725.8" cy="84.1" r="0.9" opacity="0.6"/>
<circle cx="723.3" cy="83.5" r="1.1" opacity="0.9"/>
<circle cx="729.3" cy="83.5" r="1.1" opacity="0.5"/>
<circle cx="726.4" cy="83.7" r="1.3" opacity="0.7"/>
<circle cx="732.5" cy="82.1" r="1.6" opacity="1"/>
<circle cx="739.7" cy="83.8" r="1" opacity="0.7"/>
<circle cx="738.8" cy="83.5" r="1.5" opacity="0.8"/>
<circle cx="738" cy="84.9" r="1.1" opacity="0.9"/>
<circle cx="737.1" cy="81.3" r="0.9" opacity="0.5"/>
<circle cx="743.2" cy="86.7" r="1.1" opacity="0.6"/>
<circle cx="732.1" cy="84.5" r="0.8" opacity="0.5"/>
<circle cx="744.8" cy="84" r="1" opacity="0.7"/>
<circle cx="743" cy="84.9" r="1.1" opacity="0.8"/>
<circle cx="741.1" cy="86.3" r="1.2" opacity="0.5"/>
<circle cx="740.3" cy="88.6" r="1.1" opacity="0.8"/>
<circle cx="742.2" cy="91.7" r="0.9" opacity="1"/>
<circle cx="741.6" cy="87.9" r="1.1" opacity="0.8"/>
<circle cx="736.7" cy="90.7" r="1" opacity="0.9"/>
<circle cx="739.2" cy="88.3" r="1.1" opacity="0.8"/>
<circle cx="740.1" cy="89.1" r="1.1" opacity="0.8"/>
<circle cx="725.3" cy="91.7" r="0.9" opacity="0.8"/>
<circle cx="732.6" cy="89.7" r="0.9" opacity="0.6"/>
<circle cx="728.7" cy="88.1" r="1.1" opacity="0.5"/>
<circle cx="728.5" cy="93.3" r="1.2" opacity="0.7"/>
<circle cx="736" cy="92.8" r="1.2" opacity="0.9"/>
<circle cx="724.8" cy="90.3" r="0.8" opacity="0.7"/>
<circle cx="725.2" cy="91.8" r="0.9" opacity="0.8"/>
<circle cx="723.5" cy="92.1" r="1" opacity="0.6"/>
<circle cx="721.1" cy="90.4" r="1.6" opacity="0.6"/>
<circle cx="724.8" cy="92.4" r="1.2" opacity="1"/>
<circle cx="724.3" cy="90.3" r="1" opacity="0.7"/>
<circle cx="725.1" cy="89.4" r="1.2" opacity="0.5"/>
<circle cx="718.6" cy="87.6" r="1.1" opacity="0.8"/>
<circle cx="717.5" cy="88.7" r="0.9" opacity="0.7"/>
<circle cx="716.8" cy="88.3" r="1.1" opacity="0.8"/>
<circle cx="716.2" cy="91.4" r="1.4" opacity="1"/>
<circle cx="726.6" cy="91.3" r="1.3" opacity="1"/>
<circle cx="722.5" cy="92.6" r="1.1" opacity="0.8"/>
<circle cx="730.1" cy="95" r="1.3" opacity="1"/>
<circle cx="723.3" cy="87.3" r="1.4" opacity="1"/>
<circle cx="724.2" cy="82.3" r="1.4" opacity="0.9"/>
<circle cx="743.7" cy="90" r="1.5" opacity="0.9"/>
<circle cx="727" cy="93.5" r="1.4" opacity="0.7"/>
<circle cx="747.6" cy="84" r="1.5" opacity="1"/>
<circle cx="727.8" cy="84.5" r="1.7" opacity="1"/>
<circle cx="726.1" cy="84.8" r="1.4" opacity="0.5"/>
<circle cx="744.4" cy="80.6" r="1.4" opacity="0.8"/>
<circle cx="731.9" cy="86.4" r="1.3" opacity="0.6"/>
<circle cx="724.2" cy="86.4" r="1.4" opacity="1"/>
<circle cx="727.6" cy="88.7" r="1" opacity="1"/>
<circle cx="721.5" cy="89.6" r="1" opacity="0.5"/>
<circle cx="751.5" cy="83.6" r="1.1" opacity="0.7"/>
<circle cx="719.4" cy="90" r="1.2" opacity="0.9"/>
<circle cx="712.6" cy="82.7" r="1.1" opacity="0.7"/>
<circle cx="737.9" cy="87.7" r="1.2" opacity="0.5"/>
<circle cx="733.6" cy="84.1" r="1.5" opacity="1"/>
<circle cx="731.9" cy="86.3" r="1.4" opacity="1"/>
<circle cx="722.1" cy="85.3" r="1.3" opacity="1"/>
<circle cx="722.7" cy="88" r="1.4" opacity="0.8"/>
<circle cx="737.7" cy="90.8" r="1.6" opacity="0.9"/>
<circle cx="741.1" cy="85.7" r="1.6" opacity="0.6"/>
<circle cx="717.1" cy="89.5" r="1.4" opacity="0.7"/>
<circle cx="746.2" cy="85.1" r="1.1" opacity="0.9"/>
<circle cx="716.3" cy="88.9" r="1.1" opacity="1"/>
<circle cx="730" cy="80.3" r="1.2" opacity="0.9"/>
<circle cx="721.5" cy="92.6" r="1.5" opacity="0.7"/>
<circle cx="740.8" cy="84.3" r="1.3" opacity="0.9"/>
<circle cx="744.1" cy="90.9" r="1.3" opacity="1"/>
<circle cx="734.6" cy="88" r="1.4" opacity="0.6"/>
<circle cx="725.7" cy="89" r="1.5" opacity="1"/>
<circle cx="729.1" cy="85.8" r="1.1" opacity="0.9"/>
<circle cx="744.9" cy="87.4" r="1.4" opacity="1"/>
<circle cx="736.3" cy="81.6" r="1.6" opacity="0.8"/>
<circle cx="730.8" cy="88.4" r="1.5" opacity="0.9"/>
<circle cx="723.3" cy="85.5" r="1.3" opacity="1"/>
<circle cx="727.9" cy="89.1" r="1.7" opacity="1"/>
<circle cx="752.2" cy="77.3" r="1.3" opacity="0.6"/>
<circle cx="720.5" cy="89.2" r="1.3" opacity="1"/>
<circle cx="733" cy="96.1" r="1.2" opacity="0.7"/>
<circle cx="734.3" cy="84.4" r="1.5" opacity="0.7"/>
<circle cx="722.8" cy="90.8" r="1.2" opacity="1"/>
<circle cx="751" cy="80.8" r="1.1" opacity="0.5"/>
<circle cx="717.3" cy="91.7" r="1.4" opacity="1"/>
<circle cx="745.6" cy="84.2" r="1.2" opacity="0.7"/>
<circle cx="740.3" cy="86.9" r="1.5" opacity="0.7"/>
<circle cx="736.8" cy="90.2" r="1.6" opacity="0.9"/>
<circle cx="739.6" cy="88.1" r="1.2" opacity="1"/>
<circle cx="722.8" cy="90.5" r="1.6" opacity="0.7"/>
<circle cx="706.8" cy="94.6" r="1.2" opacity="0.8"/>
<circle cx="725.9" cy="85.6" r="1.5" opacity="0.7"/>
<circle cx="736.6" cy="82.3" r="1.5" opacity="0.8"/>
<circle cx="727.8" cy="84.5" r="1.1" opacity="0.7"/>
<circle cx="730.8" cy="87.8" r="1.6" opacity="0.8"/>
<circle cx="716.9" cy="90.4" r="1.1" opacity="0.6"/>
<circle cx="730.7" cy="86.3" r="1.6" opacity="0.8"/>
<circle cx="749.5" cy="82.5" r="1.3" opacity="0.7"/>
<circle cx="717" cy="92.1" r="1.3" opacity="0.9"/>
<circle cx="747" cy="84.1" r="1.4" opacity="1"/>
<circle cx="719" cy="89.5" r="1.3" opacity="1"/>
<circle cx="743.6" cy="84.6" r="1.4" opacity="0.5"/>
<circle cx="710.9" cy="87.5" r="1.2" opacity="1"/>
<circle cx="731.9" cy="92.5" r="1.2" opacity="0.9"/>
<circle cx="731.6" cy="86.2" r="1.6" opacity="0.8"/>
<circle cx="732.2" cy="90" r="1.4" opacity="1"/>
<circle cx="733.2" cy="88" r="1.2" opacity="0.9"/>
<circle cx="718.8" cy="92.7" r="1.5" opacity="0.7"/>
<circle cx="726.7" cy="86.9" r="1.4" opacity="0.9"/>
<circle cx="733.5" cy="91.9" r="1.1" opacity="1"/>
<circle cx="710.6" cy="88.5" r="1.5" opacity="0.6"/>
<circle cx="729.1" cy="82.8" r="1.3" opacity="0.9"/>
<circle cx="731.4" cy="81.9" r="1.2" opacity="1"/>
<circle cx="739.6" cy="83.7" r="1.7" opacity="1"/>
<circle cx="728.3" cy="89.6" r="1.2" opacity="0.8"/>
<circle cx="736" cy="88.3" r="1.5" opacity="0.5"/>
<circle cx="723.6" cy="86.2" r="1.5" opacity="0.6"/>
<circle cx="725" cy="88.6" r="1" opacity="1"/>
<circle cx="726.5" cy="90.2" r="1.7" opacity="0.7"/>
<circle cx="726.3" cy="87.5" r="1.3" opacity="1"/>
<circle cx="738.3" cy="80.2" r="1.7" opacity="0.6"/>
<circle cx="736.2" cy="86.9" r="1.5" opacity="0.8"/>
<circle cx="721.9" cy="92.8" r="1.2" opacity="0.9"/>
<circle cx="727.1" cy="88.8" r="1.6" opacity="0.6"/>
<circle cx="735.4" cy="80.8" r="1.3" opacity="0.8"/>
<circle cx="733.2" cy="88.7" r="1.5" opacity="0.7"/>
<circle cx="722.8" cy="87.4" r="1.2" opacity="0.6"/>
<circle cx="731.6" cy="83.4" r="1.1" opacity="1"/>
<circle cx="735.6" cy="88.5" r="1.1" opacity="0.8"/>
<circle cx="731.7" cy="86.2" r="1.7" opacity="0.9"/>
<circle cx="735.7" cy="83.2" r="1.3" opacity="0.5"/>
<circle cx="731.1" cy="94.2" r="1.2" opacity="1"/>
<circle cx="740.9" cy="78.7" r="1.1" opacity="0.8"/>
<circle cx="735.1" cy="83.9" r="1.2" opacity="0.5"/>
<circle cx="719.6" cy="88.3" r="1.2" opacity="0.6"/>
<circle cx="727.2" cy="86.3" r="1.6" opacity="1"/>
<circle cx="727.2" cy="88.8" r="1.4" opacity="0.7"/>
<circle cx="743.7" cy="88.3" r="1.4" opacity="0.7"/>
<circle cx="732.6" cy="92.5" r="1.7" opacity="0.7"/>
<circle cx="725.5" cy="86.9" r="1.3" opacity="0.9"/>
<circle cx="727.8" cy="92.2" r="1.4" opacity="0.5"/>
<circle cx="739" cy="88.2" r="1.1" opacity="0.8"/>
<circle cx="719.9" cy="86.5" r="1.6" opacity="0.9"/>
<circle cx="731.7" cy="85.4" r="1.6" opacity="1"/>
<circle cx="715.9" cy="86.3" r="1.4" opacity="0.8"/>
<circle cx="737.8" cy="89.4" r="1.5" opacity="1"/>
<circle cx="739.9" cy="83" r="1.7" opacity="0.7"/>
<circle cx="741.4" cy="85.8" r="1.4" opacity="1"/>
<circle cx="731.8" cy="87.8" r="1.5" opacity="0.6"/>
<circle cx="738.1" cy="82.3" r="1.1" opacity="0.8"/>
<circle cx="731.9" cy="84.6" r="1.7" opacity="0.5"/>
<circle cx="739.6" cy="89.4" r="1.5" opacity="0.9"/>
<circle cx="736.8" cy="85.1" r="1.1" opacity="0.8"/>
<circle cx="726.2" cy="90.9" r="1.3" opacity="1"/>
<circle cx="729.1" cy="92.7" r="1.4" opacity="0.7"/>
<circle cx="737.3" cy="84.7" r="1.2" opacity="0.6"/>
<circle cx="726.1" cy="83" r="1.3" opacity="0.6"/>
<circle cx="724" cy="86.6" r="1.4" opacity="0.9"/>
<circle cx="734.3" cy="86.6" r="1.6" opacity="1"/>
<circle cx="737.4" cy="87.4" r="1.3" opacity="1"/>
<circle cx="724.2" cy="96.5" r="1.1" opacity="1"/>
<circle cx="743.7" cy="86.6" r="1.7" opacity="0.9"/>
<circle cx="738.7" cy="84.2" r="1.7" opacity="1"/>
<circle cx="729.9" cy="93.3" r="1.7" opacity="0.6"/>
<circle cx="719.5" cy="93" r="1.4" opacity="1"/>
<circle cx="722.3" cy="90.3" r="1.1" opacity="0.7"/>
<circle cx="736.3" cy="84.4" r="1.6" opacity="1"/>
<circle cx="723.9" cy="87.2" r="1" opacity="0.6"/>
<circle cx="741.3" cy="77.6" r="1.7" opacity="0.7"/>
<circle cx="740.5" cy="84.1" r="1.3" opacity="1"/>
<circle cx="736.6" cy="81.5" r="1.2" opacity="0.5"/>
<circle cx="734.9" cy="89" r="1.2" opacity="0.8"/>
<circle cx="729.2" cy="89.7" r="1.6" opacity="0.7"/>
<circle cx="732.7" cy="86.9" r="1.4" opacity="0.5"/>
<circle cx="729.3" cy="87.2" r="1.4" opacity="0.9"/>
<circle cx="724.9" cy="87.7" r="1.6" opacity="1"/>
<circle cx="738.7" cy="78.4" r="1.7" opacity="0.7"/>
<circle cx="721.8" cy="87.8" r="1.6" opacity="0.6"/>
<circle cx="733.6" cy="90.5" r="1.4" opacity="1"/>
<circle cx="731" cy="87.5" r="1.3" opacity="1"/>
<circle cx="741.2" cy="87.8" r="1.4" opacity="1"/>
<circle cx="726.1" cy="92.3" r="1.7" opacity="1"/>
<circle cx="723.3" cy="87.3" r="1.5" opacity="0.9"/>
<circle cx="724.6" cy="83.6" r="1.3" opacity="0.9"/>
<circle cx="727.7" cy="89.8" r="1.1" opacity="0.8"/>
<circle cx="735.5" cy="88.9" r="1.2" opacity="0.7"/>
<circle cx="710" cy="95.6" r="1.4" opacity="0.8"/>
<circle cx="722.2" cy="91.3" r="1.6" opacity="0.8"/>
<circle cx="722.6" cy="88.4" r="1.2" opacity="0.6"/>
<circle cx="738.2" cy="87.4" r="1.1" opacity="0.7"/>
<circle cx="727.1" cy="87.1" r="1.5" opacity="0.8"/>
<circle cx="723.8" cy="85.9" r="1.6" opacity="0.9"/>
<circle cx="740.6" cy="88.5" r="1.2" opacity="1"/>
<circle cx="727.1" cy="89.7" r="1.1" opacity="1"/>
<circle cx="737" cy="87.9" r="1.7" opacity="0.5"/>
<circle cx="723.2" cy="90.5" r="1.5" opacity="1"/>
<circle cx="739.5" cy="85.2" r="1.1" opacity="0.6"/>
<circle cx="738.9" cy="85.9" r="1.5" opacity="1"/>
<circle cx="737.7" cy="87.6" r="1.6" opacity="0.9"/>
<circle cx="728.6" cy="88.4" r="1.1" opacity="0.6"/>
<circle cx="728.8" cy="86.8" r="1.4" opacity="1"/>
<circle cx="739.2" cy="85.8" r="1.3" opacity="0.9"/>
<circle cx="729.2" cy="82.3" r="1.3" opacity="0.7"/>
<circle cx="723.6" cy="85.8" r="1.7" opacity="0.8"/>
<circle cx="718.9" cy="86.7" r="1.4" opacity="0.8"/>
<circle cx="724.1" cy="84.4" r="1.7" opacity="0.7"/>
<circle cx="705.9" cy="92" r="1.6" opacity="0.8"/>
<circle cx="729.8" cy="89.5" r="1.3" opacity="0.8"/>
<circle cx="725" cy="89.4" r="1.4" opacity="0.8"/>
<circle cx="743" cy="88.1" r="1.5" opacity="0.6"/>
<circle cx="731.6" cy="88.1" r="1.4" opacity="0.9"/>
<circle cx="721.1" cy="91.4" r="1.4" opacity="0.5"/>
<circle cx="742.3" cy="86.6" r="1.7" opacity="0.9"/>
<circle cx="724.7" cy="89.2" r="1.1" opacity="0.9"/>
<circle cx="731.7" cy="83.6" r="1.1" opacity="0.7"/>
<circle cx="726.1" cy="82.3" r="1.3" opacity="1"/>
<circle cx="729.9" cy="87.9" r="1.2" opacity="1"/>
<circle cx="730.1" cy="85.9" r="1.2" opacity="0.7"/>
<circle cx="729.3" cy="87.6" r="1.7" opacity="0.8"/>
<circle cx="731.3" cy="88" r="1.4" opacity="1"/>
<circle cx="726.6" cy="81.2" r="1.6" opacity="0.9"/>
<circle cx="739.2" cy="86.8" r="1.4" opacity="0.7"/>
<circle cx="732.4" cy="88.2" r="1.6" opacity="0.9"/>
<circle cx="728.8" cy="91.3" r="1.6" opacity="0.6"/>
<circle cx="726.4" cy="86.2" r="1.6" opacity="1"/>
<circle cx="740" cy="84.5" r="1.4" opacity="0.7"/>
<circle cx="718.7" cy="96.3" r="1.7" opacity="1"/>
<circle cx="740.2" cy="83.4" r="1.5" opacity="1"/>
<circle cx="712.8" cy="93.7" r="1.6" opacity="0.7"/>
<circle cx="722.9" cy="92.7" r="1.1" opacity="0.6"/>
<circle cx="733.2" cy="88.4" r="1.7" opacity="1"/>
<circle cx="735.6" cy="82.7" r="1.5" opacity="0.9"/>
<circle cx="721" cy="90.5" r="1.1" opacity="0.6"/>
<circle cx="726.9" cy="90.6" r="1.5" opacity="0.6"/>
<circle cx="734.1" cy="93.7" r="1.6" opacity="1"/>
<circle cx="732.1" cy="84.7" r="1.4" opacity="1"/>
<circle cx="733.4" cy="84.4" r="1.4" opacity="0.9"/>
<circle cx="738.5" cy="86.1" r="1.5" opacity="0.9"/>
<circle cx="720" cy="90.6" r="1.4" opacity="0.7"/>
<circle cx="745.3" cy="87.6" r="1.6" opacity="0.8"/>
<circle cx="732.5" cy="80.5" r="1.5" opacity="1"/>
<circle cx="734" cy="86.5" r="1.7" opacity="0.8"/>
<circle cx="733.1" cy="81.2" r="1.1" opacity="0.9"/>
<circle cx="744.9" cy="87.7" r="1.3" opacity="0.7"/>
<circle cx="730" cy="93.7" r="1.5" opacity="0.7"/>
<circle cx="730.7" cy="85" r="1.6" opacity="0.9"/>
<circle cx="731.9" cy="82.3" r="1.7" opacity="0.9"/>
<circle cx="719.3" cy="90.3" r="1.4" opacity="0.7"/>
<circle cx="726.6" cy="93.8" r="1.6" opacity="1"/>
<circle cx="726.4" cy="84.2" r="1.3" opacity="0.9"/>
<circle cx="716.8" cy="83" r="1.5" opacity="0.7"/>
<circle cx="731.1" cy="88.2" r="1.6" opacity="0.8"/>
<circle cx="729.1" cy="88.2" r="1.4" opacity="1"/>
<circle cx="729.7" cy="93.1" r="1.5" opacity="0.9"/>
<circle cx="725.3" cy="86.7" r="1.5" opacity="0.9"/>
<circle cx="742.4" cy="84.3" r="1.3" opacity="1"/>
<circle cx="724.9" cy="86" r="1.5" opacity="0.6"/>
<circle cx="739.9" cy="92.3" r="1.3" opacity="1"/>
<circle cx="734.4" cy="90.4" r="1.2" opacity="1"/>
<circle cx="723.3" cy="86.6" r="1.3" opacity="0.6"/>
<circle cx="735.8" cy="91.5" r="1.2" opacity="0.5"/>
<circle cx="724" cy="90.9" r="1.7" opacity="0.7"/>
<circle cx="711.6" cy="95.9" r="1.5" opacity="0.8"/>
<circle cx="726.2" cy="89.5" r="1.1" opacity="0.8"/>
<circle cx="728.3" cy="86.4" r="1.4" opacity="0.6"/>
<circle cx="724.1" cy="86.5" r="1.5" opacity="1"/>
<circle cx="724.1" cy="90.4" r="1.1" opacity="0.6"/>
<circle cx="718.3" cy="85.1" r="1.1" opacity="1"/>
<circle cx="738.9" cy="84.1" r="1.4" opacity="0.9"/>
<circle cx="727.6" cy="90.7" r="1.5" opacity="0.8"/>
<circle cx="720.5" cy="90.8" r="1.1" opacity="0.8"/>
<circle cx="730.2" cy="89.4" r="1.4" opacity="0.9"/>
<circle cx="720.3" cy="88.4" r="1.5" opacity="0.7"/>
<circle cx="737.9" cy="85.7" r="1" opacity="0.8"/>
<circle cx="727.7" cy="84.6" r="1.3" opacity="0.7"/>
<circle cx="733.2" cy="93" r="1.6" opacity="0.7"/>
<circle cx="721.5" cy="87.4" r="1.1" opacity="0.9"/>
<circle cx="702.7" cy="90.1" r="1.7" opacity="1"/>
<circle cx="731.4" cy="88.8" r="1.6" opacity="0.5"/>
<circle cx="728.8" cy="85.6" r="1.5" opacity="0.5"/>
<circle cx="748.2" cy="87.8" r="1.4" opacity="0.8"/>
<circle cx="747.5" cy="83.2" r="1.2" opacity="0.9"/>
<circle cx="723.9" cy="91" r="1.2" opacity="0.6"/>
<circle cx="729.4" cy="90.1" r="1.2" opacity="1"/>
<circle cx="723.2" cy="91.7" r="1.6" opacity="0.9"/>
<circle cx="745.6" cy="91.8" r="1.7" opacity="1"/>
<circle cx="723.9" cy="94.2" r="1.5" opacity="0.5"/>
<circle cx="721.5" cy="92.6" r="1.4" opacity="1"/>
<circle cx="734.9" cy="80.1" r="1.7" opacity="0.7"/>
<circle cx="731.9" cy="86.9" r="1.6" opacity="0.5"/>
<circle cx="721.2" cy="88.9" r="1.1" opacity="0.9"/>
<circle cx="732.6" cy="84.5" r="1.2" opacity="1"/>
<circle cx="729.6" cy="87.3" r="1.2" opacity="1"/>
<circle cx="730.6" cy="90.1" r="1.3" opacity="1"/>
<circle cx="734.3" cy="83.4" r="1.5" opacity="0.5"/>
<circle cx="740" cy="86.9" r="1.5" opacity="0.6"/>
<circle cx="749.6" cy="85.7" r="1.2" opacity="0.5"/>
<circle cx="734.8" cy="87.3" r="1.2" opacity="0.9"/>
<circle cx="748.6" cy="81.3" r="0.9" opacity="0.4"/>
<circle cx="749.1" cy="82" r="1" opacity="0.3"/>
<circle cx="755.7" cy="79.4" r="0.9" opacity="0.3"/>
<circle cx="747.4" cy="83.6" r="1" opacity="0.6"/>
<circle cx="760.3" cy="74" r="0.9" opacity="0.5"/>
<circle cx="749.2" cy="83.7" r="0.9" opacity="0.6"/>
<circle cx="762.4" cy="78.7" r="0.8" opacity="0.5"/>
<circle cx="752" cy="84.5" r="0.9" opacity="0.4"/>
<circle cx="751.4" cy="81.7" r="0.7" opacity="0.6"/>
<circle cx="757.9" cy="80.2" r="1" opacity="0.3"/>
<circle cx="755.8" cy="79.5" r="1.1" opacity="0.4"/>
<circle cx="744" cy="82.9" r="0.7" opacity="0.5"/>
<circle cx="750.8" cy="78.4" r="1" opacity="0.5"/>
<circle cx="757" cy="81" r="0.9" opacity="0.3"/>
<circle cx="752" cy="80.5" r="0.9" opacity="0.4"/>
<circle cx="761.6" cy="82" r="1" opacity="0.5"/>
<circle cx="745" cy="82.4" r="1.1" opacity="0.3"/>
<circle cx="749" cy="83.4" r="1" opacity="0.4"/>
<circle cx="755.9" cy="79.3" r="0.8" opacity="0.6"/>
<circle cx="750.1" cy="80.1" r="0.9" opacity="0.5"/>
<circle cx="758.9" cy="81.4" r="0.8" opacity="0.6"/>
<circle cx="765.4" cy="78.5" r="1.1" opacity="0.3"/>
<circle cx="760.8" cy="81.8" r="1.1" opacity="0.4"/>
<circle cx="753.9" cy="78.3" r="0.8" opacity="0.5"/>
<circle cx="749.1" cy="83" r="1.1" opacity="0.5"/>
<circle cx="752.9" cy="83.1" r="1" opacity="0.4"/>
<circle cx="752.4" cy="83.7" r="1.1" opacity="0.3"/>
<circle cx="752.6" cy="83.4" r="1.1" opacity="0.6"/>
<circle cx="761.2" cy="78.2" r="0.7" opacity="0.3"/>
<circle cx="757.5" cy="81.1" r="1.1" opacity="0.6"/>
<circle cx="676" cy="95" r="1.2" opacity="0.3"/>
<circle cx="696.8" cy="86.1" r="1.4" opacity="0.3"/>
<circle cx="700" cy="85" r="1" opacity="0.3"/>
<circle cx="673.1" cy="90.2" r="1.1" opacity="0.6"/>
<circle cx="668.5" cy="88.6" r="0.8" opacity="0.5"/>
<circle cx="672.7" cy="85.6" r="0.9" opacity="0.4"/>
<circle cx="693.1" cy="85.6" r="0.9" opacity="0.6"/>
<circle cx="682.9" cy="85.7" r="0.7" opacity="0.5"/>
<circle cx="683.9" cy="90.1" r="1" opacity="0.3"/>
<circle cx="699.7" cy="82.3" r="1.3" opacity="0.5"/>
<circle cx="696.2" cy="90.8" r="1.4" opacity="0.3"/>
<circle cx="687.2" cy="90.2" r="0.8" opacity="0.4"/>
<circle cx="687.4" cy="87.7" r="1.3" opacity="0.4"/>
<circle cx="692.6" cy="89.5" r="1" opacity="0.4"/>
<circle cx="685.4" cy="88.7" r="0.9" opacity="0.5"/>
<circle cx="700.9" cy="89.4" r="1.3" opacity="0.5"/>
<circle cx="700.5" cy="90.9" r="0.7" opacity="0.3"/>
<circle cx="702.9" cy="87.4" r="0.8" opacity="0.4"/>
<circle cx="706.5" cy="91.9" r="0.8" opacity="0.5"/>
<circle cx="693.8" cy="84.4" r="1.1" opacity="0.4"/>
<circle cx="696.4" cy="83" r="0.7" opacity="0.5"/>
<circle cx="698" cy="90.6" r="0.8" opacity="0.4"/>
<circle cx="680.5" cy="84.5" r="0.9" opacity="0.3"/>
<circle cx="668.9" cy="92.5" r="1.1" opacity="0.5"/>
<circle cx="691.3" cy="83.3" r="1.3" opacity="0.6"/>
<circle cx="688.4" cy="82.2" r="0.8" opacity="0.4"/>
<circle cx="686.6" cy="84.2" r="1.3" opacity="0.5"/>
<circle cx="687.4" cy="90.4" r="1.1" opacity="0.3"/>
<circle cx="717.2" cy="97.5" r="1.1" opacity="0.8"/>
<circle cx="716.8" cy="95.5" r="0.9" opacity="0.9"/>
<circle cx="717.9" cy="93.6" r="1.2" opacity="0.8"/>
<circle cx="724.3" cy="95.5" r="1.2" opacity="0.4"/>
<circle cx="725.4" cy="97.8" r="1.3" opacity="0.6"/>
<circle cx="720.9" cy="99.3" r="1.3" opacity="0.8"/>
<circle cx="721.6" cy="98.3" r="1" opacity="0.8"/>
<circle cx="719.9" cy="101.2" r="1.1" opacity="0.5"/>
<circle cx="718.4" cy="97.9" r="1.3" opacity="0.4"/>
<circle cx="717.1" cy="98.3" r="0.9" opacity="0.5"/>
<circle cx="730" cy="107.7" r="0.9" opacity="0.5"/>
<circle cx="725.5" cy="105.8" r="1" opacity="0.4"/>
<circle cx="711.3" cy="123.4" r="1" opacity="0.6"/>
<circle cx="730.4" cy="119.6" r="1" opacity="0.4"/>
<circle cx="720.5" cy="112.4" r="0.9" opacity="0.4"/>
<circle cx="723.4" cy="113.1" r="1.1" opacity="0.5"/>
<circle cx="722.7" cy="112.2" r="1" opacity="0.5"/>
<circle cx="723" cy="108.1" r="1.1" opacity="0.4"/>
<circle cx="716.1" cy="118.8" r="0.9" opacity="0.6"/>
<circle cx="721.1" cy="115.3" r="0.8" opacity="0.3"/>
<circle cx="720.2" cy="113.5" r="1" opacity="0.3"/>
<circle cx="719.1" cy="131.1" r="0.7" opacity="0.4"/>
<circle cx="723.5" cy="123.8" r="0.7" opacity="0.5"/>
<circle cx="726.7" cy="126.1" r="0.8" opacity="0.5"/>
<circle cx="733.5" cy="108.1" r="1" opacity="0.5"/>
<circle cx="718.9" cy="115.7" r="1" opacity="0.4"/>
<circle cx="729.2" cy="121" r="1" opacity="0.4"/>
<circle cx="728.7" cy="113.3" r="0.7" opacity="0.3"/>
<circle cx="723.6" cy="114.9" r="1" opacity="0.3"/>
<circle cx="724" cy="113" r="1.1" opacity="0.5"/>
<circle cx="706.2" cy="131" r="0.7" fill="#fff" opacity="0.3"/>
<circle cx="677.6" cy="145.9" r="0.8" fill="#fff" opacity="0.2"/>
<circle cx="715.1" cy="115.1" r="1.1" fill="#fff" opacity="0.2"/>
<circle cx="661.1" cy="146.3" r="0.9" fill="#fff" opacity="0.2"/>
<circle cx="674.5" cy="138.6" r="0.6" fill="#fff" opacity="0.2"/>
<circle cx="668.9" cy="138.3" r="0.8" fill="#fff" opacity="0.3"/>
<circle cx="717.3" cy="120" r="1.1" fill="#fff" opacity="0.2"/>
<circle cx="705" cy="116.9" r="1" fill="#fff" opacity="0.2"/>
<circle cx="689.9" cy="135.8" r="1" fill="#fff" opacity="0.1"/>
<circle cx="703.1" cy="117.1" r="1" fill="#fff" opacity="0.2"/>
<circle cx="691.4" cy="134.2" r="0.7" fill="#fff" opacity="0.2"/>
<circle cx="666.5" cy="132.9" r="1" fill="#fff" opacity="0.2"/>
<circle cx="702.7" cy="128.1" r="0.7" fill="#fff" opacity="0.2"/>
<circle cx="678.6" cy="142.7" r="1" fill="#fff" opacity="0.2"/>
<circle cx="660.6" cy="139.2" r="1" fill="#fff" opacity="0.3"/>
<circle cx="684.2" cy="134.9" r="0.9" fill="#fff" opacity="0.2"/>
<circle cx="697.5" cy="117.3" r="0.8" fill="#fff" opacity="0.2"/>
<circle cx="689.7" cy="139.4" r="0.7" fill="#fff" opacity="0.2"/>
<circle cx="684.3" cy="144.1" r="1" fill="#fff" opacity="0.3"/>
<circle cx="680.9" cy="126.1" r="0.8" fill="#fff" opacity="0.3"/>
<circle cx="704.5" cy="128.8" r="0.9" fill="#fff" opacity="0.3"/>
<circle cx="665.8" cy="146.1" r="0.9" fill="#fff" opacity="0.3"/>
<circle cx="692.3" cy="127.6" r="0.7" fill="#fff" opacity="0.3"/>
<circle cx="689.8" cy="123" r="1" fill="#fff" opacity="0.3"/>
<circle cx="690" cy="140" r="0.8" fill="#fff" opacity="0.2"/>
<circle cx="694" cy="118.9" r="0.7" fill="#fff" opacity="0.3"/>
<circle cx="684.5" cy="131.8" r="0.8" fill="#fff" opacity="0.1"/>
<circle cx="702.4" cy="132.1" r="0.7" fill="#fff" opacity="0.1"/>
<circle cx="721.2" cy="107.3" r="0.7" fill="#fff" opacity="0.2"/>
<circle cx="666.3" cy="145.4" r="0.9" fill="#fff" opacity="0.2"/>
<circle cx="663" cy="143.4" r="0.7" fill="#fff" opacity="0.3"/>
<circle cx="679.7" cy="129.7" r="1" fill="#fff" opacity="0.2"/>
<circle cx="688.2" cy="124.6" r="0.8" fill="#fff" opacity="0.1"/>
<circle cx="667.8" cy="136" r="0.9" fill="#fff" opacity="0.2"/>
<circle cx="705.9" cy="127.3" r="0.7" fill="#fff" opacity="0.3"/>
<circle cx="698.1" cy="125.1" r="0.7" fill="#fff" opacity="0.2"/>
<circle cx="718.1" cy="111.6" r="0.9" fill="#fff" opacity="0.2"/>
<circle cx="688" cy="132.6" r="0.8" fill="#fff" opacity="0.3"/>
<circle cx="670.2" cy="141.1" r="0.8" fill="#fff" opacity="0.3"/>
<circle cx="712.1" cy="127.7" r="1" fill="#fff" opacity="0.3"/>
<circle cx="689.3" cy="144.9" r="0.7" fill="#fff" opacity="0.1"/>
<circle cx="689.6" cy="122" r="0.8" fill="#fff" opacity="0.1"/>
<circle cx="684" cy="127.1" r="0.6" fill="#fff" opacity="0.2"/>
<circle cx="720.9" cy="120" r="0.7" fill="#fff" opacity="0.3"/>
<circle cx="698.5" cy="125.5" r="0.7" fill="#fff" opacity="0.2"/>
</g></g>
<rect x="658.7" y="40.4" width="144.9" height="106.6" fill="none" stroke="#141414" stroke-width="1.9"/>
<line x1="713.6" y1="40.4" x2="713.6" y2="147" stroke="#141414" stroke-width="1.8"/>
<line x1="658.7" y1="104.5" x2="803.6" y2="104.5" stroke="#141414" stroke-width="1.8"/>
<line x1="653.2" y1="41.2" x2="658.7" y2="41.2" stroke="#141414" stroke-width="1.8"/>
<line x1="653.2" y1="147" x2="658.7" y2="147" stroke="#141414" stroke-width="1.9"/>
<line x1="658.5" y1="147" x2="658.5" y2="152" stroke="#141414" stroke-width="1.8"/>
<text x="650" y="167.2" font-size="14.8" fill="#1a1a1a" textLength="11.6" lengthAdjust="spacingAndGlyphs" stroke="#1a1a1a" stroke-width="0.45">10</text>
<text x="662.4" y="163" font-size="10.8" fill="#1a1a1a" textLength="4.8" lengthAdjust="spacingAndGlyphs" stroke="#1a1a1a" stroke-width="0.45">0</text>
<line x1="694.7" y1="147" x2="694.7" y2="152" stroke="#141414" stroke-width="1.8"/>
<text x="686.2" y="167.2" font-size="14.8" fill="#1a1a1a" textLength="11.6" lengthAdjust="spacingAndGlyphs" stroke="#1a1a1a" stroke-width="0.45">10</text>
<text x="698.6" y="163" font-size="10.8" fill="#1a1a1a" textLength="4.8" lengthAdjust="spacingAndGlyphs" stroke="#1a1a1a" stroke-width="0.45">1</text>
<line x1="731" y1="147" x2="731" y2="152" stroke="#141414" stroke-width="1.8"/>
<text x="722.5" y="167.2" font-size="14.8" fill="#1a1a1a" textLength="11.6" lengthAdjust="spacingAndGlyphs" stroke="#1a1a1a" stroke-width="0.45">10</text>
<text x="734.9" y="163" font-size="10.8" fill="#1a1a1a" textLength="4.8" lengthAdjust="spacingAndGlyphs" stroke="#1a1a1a" stroke-width="0.45">2</text>
<line x1="767.2" y1="147" x2="767.2" y2="152" stroke="#141414" stroke-width="1.8"/>
<text x="758.7" y="167.2" font-size="14.8" fill="#1a1a1a" textLength="11.6" lengthAdjust="spacingAndGlyphs" stroke="#1a1a1a" stroke-width="0.45">10</text>
<text x="771.1" y="163" font-size="10.8" fill="#1a1a1a" textLength="4.8" lengthAdjust="spacingAndGlyphs" stroke="#1a1a1a" stroke-width="0.45">3</text>
<line x1="803.4" y1="147" x2="803.4" y2="152" stroke="#141414" stroke-width="1.8"/>
<text x="794.9" y="167.2" font-size="14.8" fill="#1a1a1a" textLength="11.6" lengthAdjust="spacingAndGlyphs" stroke="#1a1a1a" stroke-width="0.45">10</text>
<text x="807.3" y="163" font-size="10.8" fill="#1a1a1a" textLength="4.8" lengthAdjust="spacingAndGlyphs" stroke="#1a1a1a" stroke-width="0.45">4</text>
<text x="631.1" y="48.4" font-size="14.8" fill="#1a1a1a" textLength="11.6" lengthAdjust="spacingAndGlyphs" stroke="#1a1a1a" stroke-width="0.45">10</text>
<text x="643.5" y="43.2" font-size="10.8" fill="#1a1a1a" textLength="4.8" lengthAdjust="spacingAndGlyphs" stroke="#1a1a1a" stroke-width="0.45">4</text>
<text x="631.1" y="149.8" font-size="14.8" fill="#1a1a1a" textLength="11.6" lengthAdjust="spacingAndGlyphs" stroke="#1a1a1a" stroke-width="0.45">10</text>
<text x="643.5" y="145" font-size="10.8" fill="#1a1a1a" textLength="4.8" lengthAdjust="spacingAndGlyphs" stroke="#1a1a1a" stroke-width="0.45">0</text>
<clipPath id="cB1"><rect x="87" y="251" width="169.6" height="151.6"/></clipPath>
<rect x="87" y="251" width="169.6" height="151.6" fill="#06060f"/>
<g clip-path="url(#cB1)"><use href="#cB1g" filter="url(#glow)" opacity="0.6"/><g id="cB1g" filter="url(#bl)">
<ellipse cx="104" cy="257" rx="5.5" ry="11.1" fill="url(#gg)"/>
<ellipse cx="96.9" cy="282.5" rx="9.2" ry="9.2" fill="url(#gg)"/>
<ellipse cx="145.1" cy="263.2" rx="9.2" ry="8.1" fill="url(#gB)"/>
<ellipse cx="165.8" cy="258.4" rx="7.4" ry="9.6" fill="url(#gb)"/>
<ellipse cx="215.9" cy="268.3" rx="7.4" ry="9.6" fill="url(#gb)"/>
<ellipse cx="243.4" cy="267.8" rx="9.9" ry="9.9" fill="url(#gc)"/>
<ellipse cx="200.9" cy="277.4" rx="8.1" ry="8.1" fill="url(#gb)"/>
<ellipse cx="173.4" cy="288.7" rx="8.8" ry="9.6" fill="url(#gB)"/>
<ellipse cx="217.4" cy="286.8" rx="7.4" ry="10.3" fill="url(#gb)"/>
<ellipse cx="230.1" cy="294.4" rx="9.2" ry="10.7" fill="url(#gg)"/>
<ellipse cx="196.1" cy="298.1" rx="6.6" ry="10.3" fill="url(#gB)"/>
<ellipse cx="126.7" cy="302.9" rx="9.2" ry="9.2" fill="url(#gb)"/>
<ellipse cx="142.8" cy="304" rx="9.9" ry="10.7" fill="url(#gg)"/>
<ellipse cx="107.7" cy="315.9" rx="8.5" ry="11.4" fill="url(#gg)"/>
<ellipse cx="129.5" cy="322.2" rx="7.4" ry="8.5" fill="url(#gg)"/>
<ellipse cx="170.6" cy="309.4" rx="8.1" ry="8.8" fill="url(#gb)"/>
<ellipse cx="189.6" cy="316.5" rx="8.8" ry="8.1" fill="url(#gc)"/>
<ellipse cx="221" cy="319.3" rx="9.9" ry="12.2" fill="url(#gg)"/>
<ellipse cx="238.6" cy="315.1" rx="7.4" ry="10.3" fill="url(#gg)"/>
<ellipse cx="249.9" cy="327.3" rx="8.1" ry="11.4" fill="url(#gg)"/>
<ellipse cx="116.8" cy="332.9" rx="9.9" ry="9.9" fill="url(#gb)"/>
<ellipse cx="132.3" cy="337.8" rx="8.1" ry="8.1" fill="url(#gg)"/>
<ellipse cx="152.7" cy="332.1" rx="9.9" ry="11.4" fill="url(#gg)"/>
<ellipse cx="96.4" cy="338.6" rx="9.2" ry="8.5" fill="url(#gg)"/>
<ellipse cx="235.8" cy="341.2" rx="9.2" ry="8.5" fill="url(#gg)"/>
<ellipse cx="201.2" cy="343.4" rx="10.7" ry="12.2" fill="url(#gg)"/>
<ellipse cx="214.5" cy="344.3" rx="7.4" ry="8.8" fill="url(#gB)"/>
<ellipse cx="177.1" cy="349.1" rx="11.4" ry="10.7" fill="url(#gg)"/>
<ellipse cx="200.3" cy="362.4" rx="9.9" ry="10.7" fill="url(#gg)"/>
<ellipse cx="106.8" cy="366.1" rx="8.1" ry="9.6" fill="url(#gb)"/>
<ellipse cx="144.2" cy="370.9" rx="9.9" ry="12.2" fill="url(#gg)"/>
<ellipse cx="101.2" cy="379.4" rx="7.4" ry="8.8" fill="url(#gb)"/>
<ellipse cx="112.5" cy="386.8" rx="7.4" ry="9.6" fill="url(#gb)"/>
<ellipse cx="236.6" cy="378.8" rx="9.9" ry="12.2" fill="url(#gg)"/>
<ellipse cx="194.7" cy="392.5" rx="13.3" ry="11.8" fill="url(#gc)"/>
<ellipse cx="158.4" cy="400.1" rx="8.8" ry="7.4" fill="url(#gg)"/>
<ellipse cx="249.9" cy="397.3" rx="6.6" ry="5.9" fill="url(#gb)"/>
<ellipse cx="227.3" cy="253.6" rx="5.9" ry="4.4" fill="url(#gb)"/>
<ellipse cx="189" cy="387.4" rx="7.4" ry="7.4" fill="url(#gB)"/>
</g></g>
<clipPath id="cB2"><rect x="268.7" y="251.6" width="169.8" height="151"/></clipPath>
<rect x="268.7" y="251.6" width="169.8" height="151" fill="#07071a"/>
<g clip-path="url(#cB2)"><use href="#cB2g" filter="url(#glow)" opacity="0.9"/><g id="cB2g" filter="url(#bl)">
<ellipse cx="282.7" cy="264.1" rx="8.1" ry="10.3" fill="url(#gb)"/>
<ellipse cx="302.5" cy="268.3" rx="7.4" ry="9.6" fill="url(#gb)"/>
<ellipse cx="320.9" cy="259.8" rx="8.1" ry="8.1" fill="url(#gb)"/>
<ellipse cx="357.8" cy="264.1" rx="8.1" ry="9.6" fill="url(#gb)"/>
<ellipse cx="384.7" cy="259.8" rx="18.4" ry="8.1" fill="url(#gb)"/>
<ellipse cx="410.2" cy="260.4" rx="11.8" ry="8.1" fill="url(#gb)"/>
<ellipse cx="427.2" cy="269.8" rx="7.4" ry="8.1" fill="url(#gb)"/>
<ellipse cx="432.9" cy="257.6" rx="5.9" ry="5.9" fill="url(#gb)"/>
<ellipse cx="282.7" cy="292.4" rx="8.1" ry="7.4" fill="url(#gb)"/>
<ellipse cx="301.1" cy="293.8" rx="9.6" ry="8.8" fill="url(#gb)"/>
<ellipse cx="323.8" cy="285.3" rx="7.4" ry="8.8" fill="url(#gb)"/>
<ellipse cx="356.3" cy="293.8" rx="11.1" ry="8.8" fill="url(#gb)"/>
<ellipse cx="369.1" cy="292.4" rx="7.4" ry="8.1" fill="url(#gb)"/>
<ellipse cx="384.7" cy="282.5" rx="8.1" ry="8.1" fill="url(#gb)"/>
<ellipse cx="401.7" cy="289.6" rx="8.1" ry="10.3" fill="url(#gb)"/>
<ellipse cx="415.9" cy="279.7" rx="7.4" ry="8.8" fill="url(#gb)"/>
<ellipse cx="418.7" cy="293.8" rx="6.6" ry="7.4" fill="url(#gb)"/>
<ellipse cx="381.8" cy="299.5" rx="9.6" ry="11.1" fill="url(#gB)"/>
<ellipse cx="393.2" cy="306.6" rx="8.8" ry="11.1" fill="url(#gB)"/>
<ellipse cx="295.4" cy="312.3" rx="7.4" ry="8.8" fill="url(#gB)"/>
<ellipse cx="308.2" cy="305.2" rx="6.6" ry="7.4" fill="url(#gb)"/>
<ellipse cx="340.8" cy="305.2" rx="8.8" ry="11.8" fill="url(#gB)"/>
<ellipse cx="325.2" cy="307.4" rx="8.1" ry="9.6" fill="url(#gc)"/>
<ellipse cx="366.3" cy="317.9" rx="7.4" ry="9.6" fill="url(#gb)"/>
<ellipse cx="431.4" cy="316.5" rx="8.8" ry="10.3" fill="url(#gB)"/>
<ellipse cx="411.6" cy="325" rx="8.1" ry="8.8" fill="url(#gb)"/>
<ellipse cx="350.7" cy="326.4" rx="8.1" ry="10.3" fill="url(#gg)"/>
<ellipse cx="390.9" cy="329.3" rx="5.9" ry="7.4" fill="url(#gc)"/>
<ellipse cx="292.6" cy="336.3" rx="8.1" ry="9.6" fill="url(#gb)"/>
<ellipse cx="274.2" cy="339.2" rx="6.6" ry="8.8" fill="url(#gb)"/>
<ellipse cx="329.4" cy="337.8" rx="8.1" ry="10.3" fill="url(#gb)"/>
<ellipse cx="305.3" cy="346.3" rx="7.4" ry="8.8" fill="url(#gB)"/>
<ellipse cx="367.7" cy="336.3" rx="8.1" ry="8.1" fill="url(#gb)"/>
<ellipse cx="381.8" cy="342" rx="7.4" ry="11.1" fill="url(#gc)"/>
<ellipse cx="397.4" cy="348.2" rx="7.4" ry="8.8" fill="url(#gg)"/>
<ellipse cx="411.6" cy="349.1" rx="8.1" ry="8.8" fill="url(#gb)"/>
<ellipse cx="430" cy="349.1" rx="8.1" ry="10.3" fill="url(#gb)"/>
<ellipse cx="350.7" cy="349.1" rx="6.6" ry="8.8" fill="url(#gB)"/>
<ellipse cx="357.8" cy="357.6" rx="5.2" ry="6.6" fill="url(#gg)"/>
<ellipse cx="340.8" cy="359" rx="8.1" ry="9.6" fill="url(#gb)"/>
<ellipse cx="376.2" cy="361.8" rx="8.8" ry="11.1" fill="url(#gb)"/>
<ellipse cx="397.4" cy="364.7" rx="8.1" ry="10.3" fill="url(#gb)"/>
<ellipse cx="432.9" cy="366.1" rx="7.4" ry="9.6" fill="url(#gB)"/>
<ellipse cx="350.1" cy="368.9" rx="5.2" ry="5.2" fill="url(#gg)"/>
<ellipse cx="288.3" cy="373.2" rx="8.1" ry="10.3" fill="url(#gb)"/>
<ellipse cx="336.5" cy="378.8" rx="8.8" ry="9.6" fill="url(#gb)"/>
<ellipse cx="352.1" cy="383.1" rx="8.1" ry="9.6" fill="url(#gb)"/>
<ellipse cx="369.1" cy="378.8" rx="7.4" ry="9.6" fill="url(#gb)"/>
<ellipse cx="272.8" cy="381.7" rx="5.9" ry="8.8" fill="url(#gb)"/>
<ellipse cx="315.3" cy="388.8" rx="7.4" ry="9.6" fill="url(#gB)"/>
<ellipse cx="301.1" cy="395.3" rx="8.1" ry="8.1" fill="url(#gg)"/>
<ellipse cx="371.9" cy="397.3" rx="6.6" ry="6.6" fill="url(#gg)"/>
<ellipse cx="393.2" cy="388.8" rx="8.8" ry="8.8" fill="url(#gb)"/>
<ellipse cx="408.8" cy="377.4" rx="8.8" ry="11.1" fill="url(#gb)"/>
<ellipse cx="413" cy="393" rx="8.1" ry="10.3" fill="url(#gb)"/>
<ellipse cx="432.9" cy="383.1" rx="7.4" ry="9.6" fill="url(#gB)"/>
<ellipse cx="340.8" cy="280.2" rx="5.9" ry="8.1" fill="url(#gg)"/>
<ellipse cx="373.3" cy="272.6" rx="3.7" ry="5.2" fill="url(#gg)"/>
<ellipse cx="380.4" cy="266.9" rx="2.9" ry="4.4" fill="url(#gg)"/>
<ellipse cx="339.3" cy="257" rx="11.1" ry="5.9" fill="url(#gd)"/>
<ellipse cx="285.5" cy="394.4" rx="7.4" ry="7.4" fill="url(#gd)"/>
<ellipse cx="430" cy="333.5" rx="7.4" ry="8.1" fill="url(#gb)"/>
<ellipse cx="424.4" cy="364.7" rx="6.6" ry="8.1" fill="url(#gb)"/>
<ellipse cx="384.7" cy="378.8" rx="7.4" ry="8.8" fill="url(#gb)"/>
</g></g>
<clipPath id="cB3"><rect x="450.8" y="251" width="169.4" height="151.6"/></clipPath>
<rect x="450.8" y="251" width="169.4" height="151.6" fill="#06060f"/>
<g clip-path="url(#cB3)"><use href="#cB3g" filter="url(#glow)" opacity="0.6"/><g id="cB3g" filter="url(#bl)">
<ellipse cx="472.6" cy="266.9" rx="6.2" ry="6.9" fill="url(#gb)"/>
<ellipse cx="458.4" cy="278.3" rx="6.2" ry="7.6" fill="url(#gb)"/>
<ellipse cx="479.7" cy="283.9" rx="6.2" ry="8.3" fill="url(#gb)"/>
<ellipse cx="486.8" cy="298.1" rx="9" ry="9.7" fill="url(#gB)"/>
<ellipse cx="495.3" cy="293.3" rx="3.5" ry="4.1" fill="url(#gg)"/>
<ellipse cx="506.6" cy="303.8" rx="8.3" ry="9.7" fill="url(#gB)"/>
<ellipse cx="519.3" cy="288.2" rx="9" ry="11.1" fill="url(#gB)"/>
<ellipse cx="519.3" cy="265.5" rx="6.9" ry="11.8" fill="url(#gb)"/>
<ellipse cx="499.5" cy="255.6" rx="6.9" ry="4.8" fill="url(#gd)"/>
<ellipse cx="553.3" cy="257" rx="6.9" ry="6.9" fill="url(#gb)"/>
<ellipse cx="546.3" cy="276.8" rx="6.2" ry="6.9" fill="url(#gB)"/>
<ellipse cx="549.1" cy="298.1" rx="6.9" ry="8.3" fill="url(#gb)"/>
<ellipse cx="590.2" cy="261.3" rx="13.8" ry="11.8" fill="url(#gb)"/>
<ellipse cx="593" cy="279.7" rx="7.6" ry="9.7" fill="url(#gb)"/>
<ellipse cx="610" cy="274" rx="5.5" ry="6.9" fill="url(#gd)"/>
<ellipse cx="587.4" cy="298.1" rx="6.9" ry="6.9" fill="url(#gb)"/>
<ellipse cx="601.5" cy="308" rx="6.9" ry="8.3" fill="url(#gb)"/>
<ellipse cx="573.2" cy="309.4" rx="7.6" ry="9" fill="url(#gB)"/>
<ellipse cx="571.8" cy="326.4" rx="10.4" ry="12.4" fill="url(#gB)"/>
<ellipse cx="476" cy="313.1" rx="6.2" ry="6.9" fill="url(#gg)"/>
<ellipse cx="519.9" cy="312.5" rx="4.1" ry="4.8" fill="url(#gg)"/>
<ellipse cx="485.3" cy="325" rx="6.9" ry="7.6" fill="url(#gb)"/>
<ellipse cx="468.3" cy="329.3" rx="6.2" ry="7.6" fill="url(#gb)"/>
<ellipse cx="457" cy="336.3" rx="5.5" ry="6.9" fill="url(#gb)"/>
<ellipse cx="537.8" cy="322.2" rx="7.6" ry="9" fill="url(#gb)"/>
<ellipse cx="525" cy="329.3" rx="6.9" ry="9" fill="url(#gB)"/>
<ellipse cx="547.7" cy="343.4" rx="9" ry="10.4" fill="url(#gc)"/>
<ellipse cx="530.1" cy="349.1" rx="5.5" ry="6.2" fill="url(#gc)"/>
<ellipse cx="539.2" cy="350.5" rx="7.6" ry="7.6" fill="url(#gb)"/>
<ellipse cx="568.9" cy="349.1" rx="8.3" ry="9.7" fill="url(#gc)"/>
<ellipse cx="485.3" cy="351.9" rx="6.2" ry="8.3" fill="url(#gb)"/>
<ellipse cx="498.1" cy="360.4" rx="8.3" ry="9.7" fill="url(#gB)"/>
<ellipse cx="515.1" cy="363.3" rx="7.6" ry="9" fill="url(#gb)"/>
<ellipse cx="505.7" cy="372.6" rx="6.2" ry="7.6" fill="url(#gB)"/>
<ellipse cx="530.7" cy="366.1" rx="5.5" ry="6.2" fill="url(#gc)"/>
<ellipse cx="544.8" cy="366.1" rx="6.9" ry="9.7" fill="url(#gb)"/>
<ellipse cx="567.5" cy="366.1" rx="6.9" ry="9.7" fill="url(#gb)"/>
<ellipse cx="588.8" cy="361.8" rx="8.3" ry="9" fill="url(#gb)"/>
<ellipse cx="612.9" cy="357.6" rx="5.5" ry="6.9" fill="url(#gb)"/>
<ellipse cx="466.9" cy="372.6" rx="6.9" ry="7.6" fill="url(#gb)"/>
<ellipse cx="610" cy="376" rx="6.2" ry="7.6" fill="url(#gb)"/>
<ellipse cx="581.7" cy="383.1" rx="6.2" ry="9" fill="url(#gb)"/>
<ellipse cx="509.4" cy="388.8" rx="6.9" ry="8.3" fill="url(#gb)"/>
<ellipse cx="549.1" cy="394.4" rx="9.7" ry="9" fill="url(#gB)"/>
<ellipse cx="458.4" cy="394.4" rx="6.2" ry="4.8" fill="url(#gg)"/>
<ellipse cx="472.6" cy="393" rx="5.5" ry="5.5" fill="url(#gb)"/>
<ellipse cx="611.4" cy="395.9" rx="6.2" ry="5.5" fill="url(#gb)"/>
<ellipse cx="590.2" cy="397.3" rx="6.9" ry="4.8" fill="url(#gd)"/>
<ellipse cx="570.3" cy="257" rx="6.9" ry="4.8" fill="url(#gd)"/>
</g></g>
<clipPath id="cB4"><rect x="632.1" y="251" width="168.7" height="150.4"/></clipPath>
<rect x="632.1" y="251" width="168.7" height="150.4" fill="#06060f"/>
<g clip-path="url(#cB4)"><use href="#cB4g" filter="url(#glow)" opacity="0.6"/><g id="cB4g" filter="url(#bl)">
<ellipse cx="666.8" cy="259.8" rx="6.9" ry="6.9" fill="url(#gb)"/>
<ellipse cx="679.5" cy="271.2" rx="8.3" ry="9.7" fill="url(#gB)"/>
<ellipse cx="690.8" cy="279.7" rx="6.2" ry="6.9" fill="url(#gb)"/>
<ellipse cx="651.2" cy="283.9" rx="7.6" ry="9.7" fill="url(#gb)"/>
<ellipse cx="709.3" cy="262.7" rx="8.3" ry="10.4" fill="url(#gB)"/>
<ellipse cx="700.8" cy="254.2" rx="6.9" ry="4.1" fill="url(#gb)"/>
<ellipse cx="730.5" cy="269.8" rx="7.6" ry="9" fill="url(#gb)"/>
<ellipse cx="726.3" cy="288.7" rx="6.9" ry="7.6" fill="url(#gb)"/>
<ellipse cx="710.1" cy="294.4" rx="5.5" ry="8.3" fill="url(#gb)"/>
<ellipse cx="744.7" cy="286.8" rx="7.6" ry="9" fill="url(#gB)"/>
<ellipse cx="767.9" cy="264.9" rx="5.5" ry="6.2" fill="url(#gb)"/>
<ellipse cx="791.4" cy="262.7" rx="4.8" ry="6.9" fill="url(#gd)"/>
<ellipse cx="797.1" cy="293.8" rx="4.8" ry="9.7" fill="url(#gB)"/>
<ellipse cx="774.4" cy="293.8" rx="6.9" ry="7.6" fill="url(#gb)"/>
<ellipse cx="649.8" cy="309.4" rx="8.3" ry="15.2" fill="url(#gB)"/>
<ellipse cx="679.5" cy="319.9" rx="6.2" ry="7.6" fill="url(#gb)"/>
<ellipse cx="724.3" cy="313.1" rx="5.5" ry="6.9" fill="url(#gb)"/>
<ellipse cx="739" cy="309.4" rx="7.6" ry="10.4" fill="url(#gB)"/>
<ellipse cx="756" cy="320.8" rx="9.7" ry="12.4" fill="url(#gb)"/>
<ellipse cx="750.3" cy="330.7" rx="7.6" ry="8.3" fill="url(#gb)"/>
<ellipse cx="783.8" cy="309.4" rx="5.5" ry="8.3" fill="url(#gb)"/>
<ellipse cx="794.3" cy="315.1" rx="4.8" ry="6.9" fill="url(#gb)"/>
<ellipse cx="777.3" cy="327.8" rx="5.5" ry="9" fill="url(#gb)"/>
<ellipse cx="774.4" cy="341.4" rx="5.5" ry="6.9" fill="url(#gb)"/>
<ellipse cx="764" cy="347.7" rx="5.5" ry="7.6" fill="url(#gb)"/>
<ellipse cx="750.9" cy="352.8" rx="6.2" ry="7.6" fill="url(#gb)"/>
<ellipse cx="663.1" cy="339.7" rx="6.9" ry="6.9" fill="url(#gb)"/>
<ellipse cx="637" cy="351.9" rx="5.5" ry="8.3" fill="url(#gb)"/>
<ellipse cx="684.6" cy="357.6" rx="6.9" ry="9.7" fill="url(#gB)"/>
<ellipse cx="707.3" cy="360.4" rx="6.9" ry="9" fill="url(#gb)"/>
<ellipse cx="733.9" cy="359" rx="6.9" ry="9.7" fill="url(#gB)"/>
<ellipse cx="658.3" cy="366.1" rx="6.9" ry="7.6" fill="url(#gb)"/>
<ellipse cx="641.3" cy="373.2" rx="7.6" ry="11.8" fill="url(#gB)"/>
<ellipse cx="700.8" cy="376" rx="6.2" ry="8.3" fill="url(#gB)"/>
<ellipse cx="757.4" cy="370.3" rx="5.5" ry="7.6" fill="url(#gb)"/>
<ellipse cx="768.8" cy="370.3" rx="5.5" ry="6.9" fill="url(#gb)"/>
<ellipse cx="780.1" cy="373.2" rx="4.8" ry="6.9" fill="url(#gb)"/>
<ellipse cx="795.1" cy="368.9" rx="4.8" ry="6.2" fill="url(#gb)"/>
<ellipse cx="655.4" cy="383.1" rx="5.5" ry="7.6" fill="url(#gb)"/>
<ellipse cx="644.1" cy="394.4" rx="5.5" ry="6.9" fill="url(#gb)"/>
<ellipse cx="682.3" cy="393" rx="7.6" ry="8.3" fill="url(#gb)"/>
<ellipse cx="722" cy="391.6" rx="6.9" ry="8.3" fill="url(#gb)"/>
<ellipse cx="751.8" cy="393" rx="6.9" ry="9" fill="url(#gb)"/>
<ellipse cx="789.5" cy="387.4" rx="5.5" ry="8.3" fill="url(#gb)"/>
<ellipse cx="637" cy="264.1" rx="4.1" ry="6.9" fill="url(#gd)"/>
<ellipse cx="635.6" cy="325" rx="3.5" ry="6.9" fill="url(#gd)"/>
</g></g>
<text x="816.8" y="268.3" font-size="17.6" fill="#111" textLength="10.4" lengthAdjust="spacingAndGlyphs" font-weight="bold" stroke="#111" stroke-width="0.8">B</text>
<clipPath id="cC1"><rect x="87" y="432.8" width="169.5" height="152.2"/></clipPath>
<rect x="87" y="432.8" width="169.5" height="152.2" fill="#0b0b0b"/>
<g clip-path="url(#cC1)"><use href="#cC1g" filter="url(#glow)" opacity="0.2"/><g id="cC1g" filter="url(#mot)">
<ellipse cx="96.1" cy="444.1" rx="10.4" ry="11.7" fill="url(#Gh)"/>
<ellipse cx="153.6" cy="452.6" rx="8.5" ry="7.8" fill="url(#Gm)"/>
<ellipse cx="123.8" cy="468.2" rx="5.9" ry="5.9" fill="url(#Gv)"/>
<ellipse cx="208.8" cy="461.1" rx="11.7" ry="9.8" fill="url(#Gd)"/>
<ellipse cx="177.7" cy="436.4" rx="4.6" ry="3.9" fill="url(#Gd)"/>
<ellipse cx="169.2" cy="475.3" rx="6.2" ry="7.5" fill="url(#Gh)"/>
<ellipse cx="163.5" cy="492.3" rx="7.5" ry="7.5" fill="url(#Gh)"/>
<ellipse cx="177.1" cy="492.3" rx="8.8" ry="8.1" fill="url(#Gh)"/>
<ellipse cx="179.9" cy="480.1" rx="5.5" ry="6.8" fill="url(#Gh)"/>
<ellipse cx="170.6" cy="484.6" rx="8.5" ry="9.8" fill="url(#Gh)"/>
<ellipse cx="230.1" cy="476.7" rx="7.8" ry="6.5" fill="url(#Gh)"/>
<ellipse cx="235.8" cy="499.3" rx="7.8" ry="5.9" fill="url(#Gh)"/>
<ellipse cx="231.5" cy="488" rx="3.9" ry="3.9" fill="url(#Gm)"/>
<ellipse cx="123.8" cy="509.3" rx="9.8" ry="11.7" fill="url(#Gh)" transform="rotate(-15 123.8 509.3)"/>
<ellipse cx="198.9" cy="514.9" rx="7.2" ry="11.1" fill="url(#Gm)"/>
<ellipse cx="223" cy="519.2" rx="7.8" ry="11.1" fill="url(#Gh)"/>
<ellipse cx="218.8" cy="507.8" rx="5.9" ry="5.9" fill="url(#Gm)"/>
<ellipse cx="155" cy="539" rx="9.1" ry="10.4" fill="url(#Gd)"/>
<ellipse cx="240" cy="547.5" rx="7.2" ry="6.5" fill="url(#Gv)"/>
<ellipse cx="221.6" cy="565.9" rx="7.8" ry="9.1" fill="url(#Gh)"/>
<ellipse cx="210.3" cy="563.1" rx="4.6" ry="7.2" fill="url(#Gd)"/>
<ellipse cx="144.2" cy="575.3" rx="3.9" ry="9.8" fill="url(#Gh)" transform="rotate(-10 144.2 575.3)"/>
<ellipse cx="122.4" cy="580.4" rx="2.6" ry="5.2" fill="url(#Gh)"/>
<ellipse cx="106.8" cy="582.4" rx="2.6" ry="4.6" fill="url(#Gh)"/>
<ellipse cx="231.5" cy="575.3" rx="5.9" ry="5.9" fill="url(#Gd)"/>
</g></g>
<clipPath id="cC2"><rect x="269" y="432.8" width="169.5" height="152.2"/></clipPath>
<rect x="269" y="432.8" width="169.5" height="152.2" fill="#0b0b0b"/>
<g clip-path="url(#cC2)"><use href="#cC2g" filter="url(#glow)" opacity="0.2"/><g id="cC2g" filter="url(#mot)">
<ellipse cx="357.8" cy="442.7" rx="9.8" ry="10.4" fill="url(#Gh)"/>
<ellipse cx="363.4" cy="452.6" rx="4.6" ry="4.6" fill="url(#Gh)"/>
<ellipse cx="350.7" cy="480.9" rx="9.1" ry="11.1" fill="url(#Gd)"/>
<ellipse cx="405.9" cy="485.2" rx="7.2" ry="7.8" fill="url(#Gd)"/>
<ellipse cx="272.8" cy="478.1" rx="4.6" ry="9.8" fill="url(#Gv)"/>
<ellipse cx="299.7" cy="533.3" rx="7.8" ry="13" fill="url(#Gh)"/>
<ellipse cx="291.7" cy="531.9" rx="3.3" ry="5.9" fill="url(#Gh)"/>
<ellipse cx="303.9" cy="529.1" rx="3.9" ry="5.2" fill="url(#Gh)"/>
<ellipse cx="315.3" cy="520.6" rx="5.9" ry="6.5" fill="url(#Gm)"/>
<ellipse cx="286.9" cy="563.1" rx="9.1" ry="11.7" fill="url(#Gd)"/>
<ellipse cx="379" cy="547.5" rx="7.8" ry="11.7" fill="url(#Gv)"/>
<ellipse cx="408.8" cy="543.3" rx="7.2" ry="10.4" fill="url(#Gv)"/>
<ellipse cx="431.4" cy="529.1" rx="5.9" ry="9.1" fill="url(#Gv)"/>
<ellipse cx="361.4" cy="567.4" rx="6.5" ry="6.5" fill="url(#Gh)"/>
<ellipse cx="336.5" cy="568.8" rx="8.5" ry="11.7" fill="url(#Gd)"/>
<ellipse cx="414.4" cy="575.9" rx="6.5" ry="6.5" fill="url(#Gv)"/>
<ellipse cx="420.1" cy="445.5" rx="3.3" ry="6.5" fill="url(#Gv)"/>
<ellipse cx="323.8" cy="519.2" rx="4.6" ry="3.9" fill="url(#Gd)"/>
</g></g>
<clipPath id="cC3"><rect x="450.8" y="432.8" width="169.4" height="152.2"/></clipPath>
<rect x="450.8" y="432.8" width="169.4" height="152.2" fill="#0b0b0b"/>
<g clip-path="url(#cC3)"><use href="#cC3g" filter="url(#glow)" opacity="0.2"/><g id="cC3g" filter="url(#mot)">
<ellipse cx="505.2" cy="446.9" rx="6.5" ry="7.8" fill="url(#Gh)" transform="rotate(25 505.2 446.9)"/>
<ellipse cx="517.1" cy="463.9" rx="7.5" ry="5.2" fill="url(#Gh)" transform="rotate(-30 517.1 463.9)"/>
<ellipse cx="534.1" cy="443.2" rx="9.1" ry="9.1" fill="url(#Gm)"/>
<ellipse cx="559" cy="470.4" rx="9.1" ry="9.8" fill="url(#Gm)"/>
<ellipse cx="461.3" cy="472.4" rx="11.1" ry="14.3" fill="url(#Gd)" transform="rotate(15 461.3 472.4)"/>
<ellipse cx="612.3" cy="455.4" rx="6.5" ry="9.1" fill="url(#Gd)"/>
<ellipse cx="539.7" cy="505" rx="8.5" ry="8.5" fill="url(#Gm)"/>
<ellipse cx="489.6" cy="519.2" rx="7.2" ry="8.5" fill="url(#Gd)"/>
<ellipse cx="587.4" cy="529.1" rx="9.8" ry="11.1" fill="url(#Gd)"/>
<ellipse cx="497.5" cy="568.8" rx="7.8" ry="11.7" fill="url(#Gm)"/>
<ellipse cx="549.1" cy="579.3" rx="11.1" ry="9.1" fill="url(#Gh)"/>
</g></g>
<clipPath id="cC4"><rect x="631.9" y="432.8" width="169.5" height="152.2"/></clipPath>
<rect x="631.9" y="432.8" width="169.5" height="152.2" fill="#0b0b0b"/>
<g clip-path="url(#cC4)"><use href="#cC4g" filter="url(#glow)" opacity="0.2"/><g id="cC4g" filter="url(#mot)">
<ellipse cx="697.1" cy="439.3" rx="7.2" ry="5.9" fill="url(#Gd)"/>
<ellipse cx="740.4" cy="440.4" rx="9.8" ry="7.8" fill="url(#Gm)"/>
<ellipse cx="785.8" cy="446.9" rx="4.6" ry="6.5" fill="url(#Gv)"/>
<ellipse cx="707.3" cy="497.9" rx="10.4" ry="11.7" fill="url(#Gm)"/>
<ellipse cx="763.1" cy="501.6" rx="7.2" ry="14.3" fill="url(#Gm)"/>
<ellipse cx="657.4" cy="541.3" rx="9.8" ry="16.3" fill="url(#Gh)" transform="rotate(12 657.4 541.3)"/>
<ellipse cx="662.5" cy="531.1" rx="7.2" ry="7.8" fill="url(#Gh)"/>
<ellipse cx="775.9" cy="550.9" rx="7.8" ry="9.1" fill="url(#Gd)"/>
<ellipse cx="752.6" cy="564.5" rx="7.8" ry="8.5" fill="url(#Gd)"/>
<ellipse cx="673.8" cy="575.9" rx="9.8" ry="7.8" fill="url(#Gm)"/>
<ellipse cx="672.4" cy="469.6" rx="4.6" ry="6.5" fill="url(#Gv)"/>
<ellipse cx="709.3" cy="582.9" rx="3.3" ry="2.6" fill="url(#Gm)"/>
</g></g>
<text x="817.4" y="447.2" font-size="17.6" fill="#111" textLength="9.6" lengthAdjust="spacingAndGlyphs" font-weight="bold" stroke="#111" stroke-width="0.8">C</text>
<g filter="url(#bs)" clip-path="url(#cC1)"><line x1="138" y1="482.9" x2="154.2" y2="482.9" stroke="#b0b0b0" stroke-width="1.5" opacity=".7"/><polygon points="153.2,479.3 158.4,482.9 153.2,486.5" fill="#dcdcdc"/></g>
<g filter="url(#bs)" clip-path="url(#cC1)"><line x1="202.6" y1="490.8" x2="218.8" y2="490.8" stroke="#b0b0b0" stroke-width="1.5" opacity=".7"/><polygon points="217.8,487.2 223,490.8 217.8,494.4" fill="#dcdcdc"/></g>
<g filter="url(#bs)" clip-path="url(#cC1)"><line x1="184.8" y1="565.4" x2="201" y2="565.4" stroke="#b0b0b0" stroke-width="1.5" opacity=".7"/><polygon points="200,561.8 205.2,565.4 200,569" fill="#dcdcdc"/></g>
<g filter="url(#bs)" clip-path="url(#cC1)"><line x1="116.8" y1="572.5" x2="133" y2="572.5" stroke="#b0b0b0" stroke-width="1.5" opacity=".7"/><polygon points="132,568.9 137.2,572.5 132,576.1" fill="#dcdcdc"/></g>
<g filter="url(#bs)" clip-path="url(#cC1)"><line x1="87" y1="582.9" x2="99" y2="582.9" stroke="#b0b0b0" stroke-width="1.5" opacity=".7"/><polygon points="98,579.3 103.2,582.9 98,586.5" fill="#dcdcdc"/></g>
<g filter="url(#bs)" clip-path="url(#cC2)"><line x1="325.2" y1="442.1" x2="341.4" y2="442.1" stroke="#b0b0b0" stroke-width="1.5" opacity=".7"/><polygon points="340.4,438.5 345.6,442.1 340.4,445.7" fill="#dcdcdc"/></g>
<g filter="url(#bs)" clip-path="url(#cC2)"><line x1="269.1" y1="532.8" x2="281.3" y2="532.8" stroke="#b0b0b0" stroke-width="1.5" opacity=".7"/><polygon points="280.3,529.2 285.5,532.8 280.3,536.4" fill="#dcdcdc"/></g>
<g filter="url(#bs)" clip-path="url(#cC2)"><line x1="330.3" y1="567.9" x2="346.5" y2="567.9" stroke="#c8e060" stroke-width="1.5" opacity=".7"/><polygon points="345.5,564.3 350.7,567.9 345.5,571.5" fill="#dcdcdc"/></g>
<g filter="url(#bs)" clip-path="url(#cC3)"><line x1="474" y1="457.7" x2="490.2" y2="457.7" stroke="#b0b0b0" stroke-width="1.5" opacity=".7"/><polygon points="489.2,454.1 494.4,457.7 489.2,461.3" fill="#dcdcdc"/></g>
<g filter="url(#bs)" clip-path="url(#cC4)"><line x1="633.6" y1="528.8" x2="649" y2="528.8" stroke="#b0b0b0" stroke-width="1.5" opacity=".7"/><polygon points="648,525.2 653.2,528.8 648,532.4" fill="#dcdcdc"/></g>
<text x="127.9" y="609.4" font-size="14.2" fill="#1a1a1a" textLength="80.4" lengthAdjust="spacingAndGlyphs" stroke="#1a1a1a" stroke-width="0.45">siLC3+dsRNA</text>
<text x="332.5" y="609.4" font-size="14.2" fill="#1a1a1a" textLength="42" lengthAdjust="spacingAndGlyphs" stroke="#1a1a1a" stroke-width="0.45">dsRNA</text>
<text x="523.3" y="609.4" font-size="14.2" fill="#1a1a1a" textLength="32" lengthAdjust="spacingAndGlyphs" stroke="#1a1a1a" stroke-width="0.45">siLC3</text>
<text x="693.9" y="609.4" font-size="14.2" fill="#1a1a1a" textLength="59.4" lengthAdjust="spacingAndGlyphs" stroke="#1a1a1a" stroke-width="0.45">Untreated</text>
</svg>
</body></html>
